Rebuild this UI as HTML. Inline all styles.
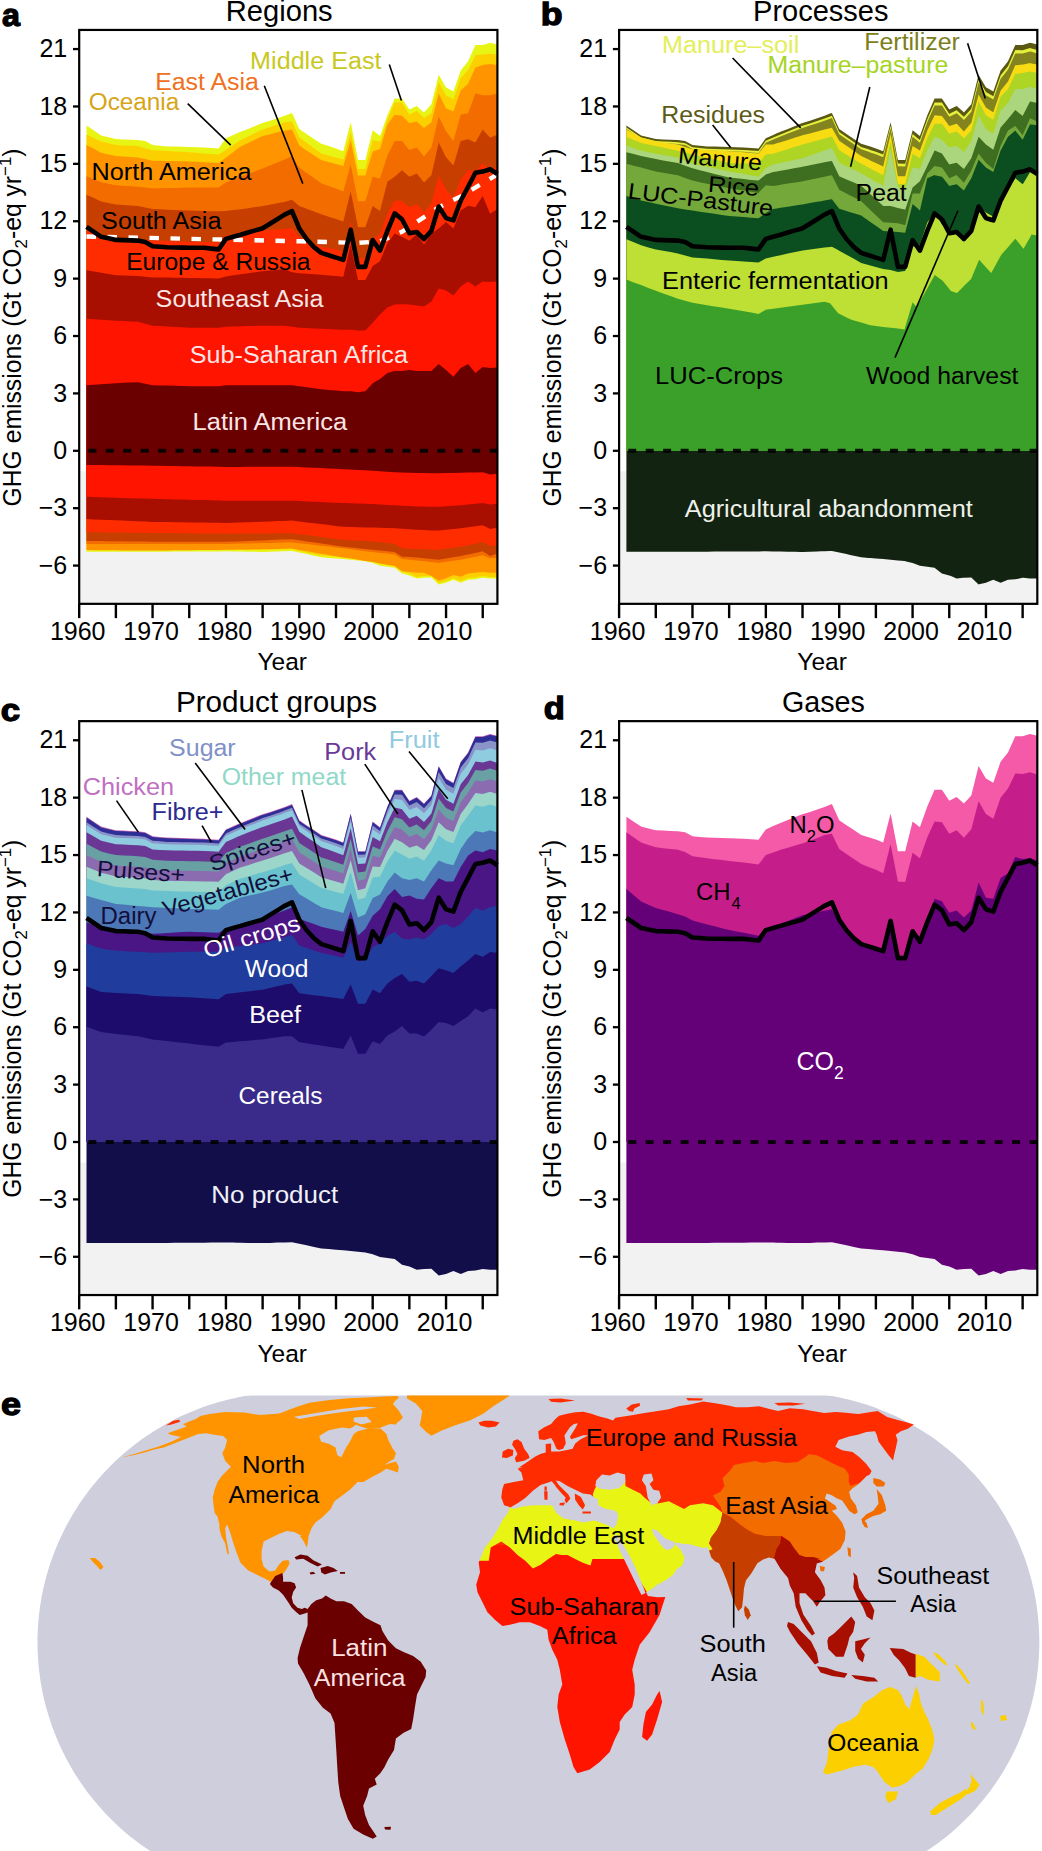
<!DOCTYPE html>
<html><head><meta charset="utf-8"><style>
html,body{margin:0;padding:0;background:#fff;}
svg{display:block;}
</style></head><body>
<svg width="1042" height="1851" viewBox="0 0 1042 1851" font-family="Liberation Sans, sans-serif">
<rect width="1042" height="1851" fill="#fff"/>
<rect x="79.20" y="471.27" width="418.21" height="132.57" fill="#f2f2f2"/>
<path d="M86.5,125.5 L93.9,130.5 L101.2,135.4 L108.5,137.2 L115.9,139.0 L123.2,139.4 L130.6,139.7 L137.9,140.1 L145.2,141.1 L152.6,145.1 L159.9,145.8 L167.2,146.4 L174.6,146.6 L181.9,146.8 L189.3,147.0 L196.6,147.2 L203.9,147.5 L211.3,148.0 L218.6,148.5 L225.9,138.2 L233.3,134.9 L236.9,133.3 L240.6,131.8 L248.0,128.9 L255.3,125.9 L260.4,123.8 L262.6,123.1 L270.0,120.7 L277.3,118.3 L281.0,117.1 L284.6,115.7 L292.0,112.9 L299.3,129.1 L306.6,134.0 L314.0,138.9 L321.3,143.8 L328.7,146.1 L336.0,148.4 L343.3,151.2 L350.7,122.2 L358.0,160.0 L365.3,160.0 L372.7,130.3 L380.0,136.1 L387.4,115.2 L394.7,98.5 L402.0,98.5 L409.4,109.6 L416.7,105.9 L424.0,112.4 L431.4,104.3 L438.7,74.8 L446.0,87.3 L453.4,91.5 L460.7,70.6 L468.1,61.3 L475.4,45.1 L482.7,45.1 L490.1,42.7 L497.4,44.6 L497.4,451.0 L490.1,451.0 L482.7,451.0 L475.4,451.0 L468.1,451.0 L460.7,451.0 L453.4,451.0 L446.0,451.0 L438.7,451.0 L431.4,451.0 L424.0,451.0 L416.7,451.0 L409.4,451.0 L402.0,451.0 L394.7,451.0 L387.4,451.0 L380.0,451.0 L372.7,451.0 L365.3,451.0 L358.0,451.0 L350.7,451.0 L343.3,451.0 L336.0,451.0 L328.7,451.0 L321.3,451.0 L314.0,451.0 L306.6,451.0 L299.3,451.0 L292.0,451.0 L284.6,451.0 L281.0,451.0 L277.3,451.0 L270.0,451.0 L262.6,451.0 L260.4,451.0 L255.3,451.0 L248.0,451.0 L240.6,451.0 L236.9,451.0 L233.3,451.0 L225.9,451.0 L218.6,451.0 L211.3,451.0 L203.9,451.0 L196.6,451.0 L189.3,451.0 L181.9,451.0 L174.6,451.0 L167.2,451.0 L159.9,451.0 L152.6,451.0 L145.2,451.0 L137.9,451.0 L130.6,451.0 L123.2,451.0 L115.9,451.0 L108.5,451.0 L101.2,451.0 L93.9,451.0 L86.5,451.0Z" fill="#e8f514"/>
<path d="M86.5,134.6 L93.9,138.0 L101.2,141.5 L108.5,143.2 L115.9,145.0 L123.2,145.4 L130.6,145.7 L137.9,146.1 L145.2,148.2 L152.6,150.2 L159.9,150.6 L167.2,151.0 L174.6,151.4 L181.9,151.8 L189.3,152.2 L196.6,152.8 L203.9,153.4 L211.3,154.0 L218.6,154.5 L225.9,149.7 L233.3,144.9 L236.9,142.4 L240.6,140.0 L248.0,136.5 L255.3,133.1 L260.4,130.6 L262.6,129.6 L270.0,127.1 L277.3,124.6 L281.0,123.4 L284.6,122.2 L292.0,121.5 L299.3,137.3 L306.6,142.7 L314.0,148.2 L321.3,153.6 L328.7,155.5 L336.0,157.4 L343.3,159.4 L350.7,132.0 L358.0,169.0 L365.3,169.0 L372.7,140.1 L380.0,141.8 L387.4,119.7 L394.7,102.6 L402.0,102.6 L409.4,114.8 L416.7,110.8 L424.0,118.1 L431.4,113.2 L438.7,82.2 L446.0,95.3 L453.4,99.3 L460.7,78.1 L468.1,70.0 L475.4,55.3 L482.7,54.5 L490.1,53.7 L497.4,54.5 L497.4,451.0 L490.1,451.0 L482.7,451.0 L475.4,451.0 L468.1,451.0 L460.7,451.0 L453.4,451.0 L446.0,451.0 L438.7,451.0 L431.4,451.0 L424.0,451.0 L416.7,451.0 L409.4,451.0 L402.0,451.0 L394.7,451.0 L387.4,451.0 L380.0,451.0 L372.7,451.0 L365.3,451.0 L358.0,451.0 L350.7,451.0 L343.3,451.0 L336.0,451.0 L328.7,451.0 L321.3,451.0 L314.0,451.0 L306.6,451.0 L299.3,451.0 L292.0,451.0 L284.6,451.0 L281.0,451.0 L277.3,451.0 L270.0,451.0 L262.6,451.0 L260.4,451.0 L255.3,451.0 L248.0,451.0 L240.6,451.0 L236.9,451.0 L233.3,451.0 L225.9,451.0 L218.6,451.0 L211.3,451.0 L203.9,451.0 L196.6,451.0 L189.3,451.0 L181.9,451.0 L174.6,451.0 L167.2,451.0 L159.9,451.0 L152.6,451.0 L145.2,451.0 L137.9,451.0 L130.6,451.0 L123.2,451.0 L115.9,451.0 L108.5,451.0 L101.2,451.0 L93.9,451.0 L86.5,451.0Z" fill="#fcd000"/>
<path d="M86.5,145.0 L93.9,148.8 L101.2,152.7 L108.5,154.4 L115.9,156.1 L123.2,156.6 L130.6,157.1 L137.9,157.6 L145.2,159.1 L152.6,160.7 L159.9,160.8 L167.2,161.0 L174.6,161.1 L181.9,161.3 L189.3,161.4 L196.6,161.8 L203.9,162.2 L211.3,162.6 L218.6,163.0 L225.9,157.5 L233.3,152.0 L236.9,149.3 L240.6,146.5 L248.0,143.0 L255.3,139.6 L260.4,137.1 L262.6,136.1 L270.0,134.2 L277.3,132.3 L281.0,131.3 L284.6,130.4 L292.0,129.5 L299.3,145.5 L306.6,150.4 L314.0,155.2 L321.3,160.1 L328.7,162.0 L336.0,163.9 L343.3,165.9 L350.7,140.2 L358.0,175.5 L365.3,175.5 L372.7,151.5 L380.0,149.1 L387.4,124.6 L394.7,114.8 L402.0,115.7 L409.4,123.0 L416.7,121.4 L424.0,127.9 L431.4,122.2 L438.7,93.6 L446.0,108.3 L453.4,111.6 L460.7,90.4 L468.1,83.8 L475.4,67.5 L482.7,65.1 L490.1,63.9 L497.4,65.1 L497.4,451.0 L490.1,451.0 L482.7,451.0 L475.4,451.0 L468.1,451.0 L460.7,451.0 L453.4,451.0 L446.0,451.0 L438.7,451.0 L431.4,451.0 L424.0,451.0 L416.7,451.0 L409.4,451.0 L402.0,451.0 L394.7,451.0 L387.4,451.0 L380.0,451.0 L372.7,451.0 L365.3,451.0 L358.0,451.0 L350.7,451.0 L343.3,451.0 L336.0,451.0 L328.7,451.0 L321.3,451.0 L314.0,451.0 L306.6,451.0 L299.3,451.0 L292.0,451.0 L284.6,451.0 L281.0,451.0 L277.3,451.0 L270.0,451.0 L262.6,451.0 L260.4,451.0 L255.3,451.0 L248.0,451.0 L240.6,451.0 L236.9,451.0 L233.3,451.0 L225.9,451.0 L218.6,451.0 L211.3,451.0 L203.9,451.0 L196.6,451.0 L189.3,451.0 L181.9,451.0 L174.6,451.0 L167.2,451.0 L159.9,451.0 L152.6,451.0 L145.2,451.0 L137.9,451.0 L130.6,451.0 L123.2,451.0 L115.9,451.0 L108.5,451.0 L101.2,451.0 L93.9,451.0 L86.5,451.0Z" fill="#ff9400"/>
<path d="M86.5,176.3 L93.9,179.3 L101.2,182.2 L108.5,183.7 L115.9,185.2 L123.2,185.8 L130.6,186.3 L137.9,186.8 L145.2,187.5 L152.6,188.3 L159.9,188.2 L167.2,188.0 L174.6,187.9 L181.9,187.7 L189.3,187.5 L196.6,187.5 L203.9,187.5 L211.3,187.5 L218.6,187.5 L225.9,182.4 L233.3,179.5 L236.9,178.1 L240.6,176.7 L248.0,174.0 L255.3,171.2 L260.4,169.3 L262.6,168.5 L270.0,165.5 L277.3,162.5 L281.0,161.0 L284.6,159.5 L292.0,156.3 L299.3,167.7 L306.6,172.9 L314.0,178.0 L321.3,183.2 L328.7,185.9 L336.0,188.6 L343.3,191.4 L350.7,164.4 L358.0,201.2 L365.3,201.2 L372.7,176.7 L380.0,178.5 L387.4,155.6 L394.7,140.9 L402.0,140.9 L409.4,149.9 L416.7,147.5 L424.0,156.4 L431.4,147.5 L438.7,116.5 L446.0,131.2 L453.4,140.9 L460.7,114.8 L468.1,113.2 L475.4,93.6 L482.7,95.3 L490.1,95.3 L497.4,93.6 L497.4,451.0 L490.1,451.0 L482.7,451.0 L475.4,451.0 L468.1,451.0 L460.7,451.0 L453.4,451.0 L446.0,451.0 L438.7,451.0 L431.4,451.0 L424.0,451.0 L416.7,451.0 L409.4,451.0 L402.0,451.0 L394.7,451.0 L387.4,451.0 L380.0,451.0 L372.7,451.0 L365.3,451.0 L358.0,451.0 L350.7,451.0 L343.3,451.0 L336.0,451.0 L328.7,451.0 L321.3,451.0 L314.0,451.0 L306.6,451.0 L299.3,451.0 L292.0,451.0 L284.6,451.0 L281.0,451.0 L277.3,451.0 L270.0,451.0 L262.6,451.0 L260.4,451.0 L255.3,451.0 L248.0,451.0 L240.6,451.0 L236.9,451.0 L233.3,451.0 L225.9,451.0 L218.6,451.0 L211.3,451.0 L203.9,451.0 L196.6,451.0 L189.3,451.0 L181.9,451.0 L174.6,451.0 L167.2,451.0 L159.9,451.0 L152.6,451.0 L145.2,451.0 L137.9,451.0 L130.6,451.0 L123.2,451.0 L115.9,451.0 L108.5,451.0 L101.2,451.0 L93.9,451.0 L86.5,451.0Z" fill="#f26c00"/>
<path d="M86.5,194.8 L93.9,198.1 L101.2,201.4 L108.5,202.9 L115.9,204.4 L123.2,204.9 L130.6,205.5 L137.9,206.0 L145.2,207.5 L152.6,209.0 L159.9,209.3 L167.2,209.7 L174.6,210.0 L181.9,210.3 L189.3,210.6 L196.6,210.8 L203.9,211.0 L211.3,211.2 L218.6,211.3 L225.9,210.9 L233.3,210.1 L236.9,209.7 L240.6,209.3 L248.0,208.2 L255.3,207.1 L260.4,206.4 L262.6,206.0 L270.0,204.7 L277.3,203.3 L281.0,202.6 L284.6,202.0 L292.0,199.8 L299.3,206.0 L306.6,208.8 L314.0,211.5 L321.3,214.2 L328.7,216.7 L336.0,219.1 L343.3,221.5 L350.7,191.4 L358.0,227.3 L365.3,227.3 L372.7,206.0 L380.0,210.9 L387.4,181.7 L394.7,176.8 L402.0,170.3 L409.4,176.8 L416.7,173.6 L424.0,182.5 L431.4,175.2 L438.7,142.6 L446.0,157.3 L453.4,165.4 L460.7,140.9 L468.1,139.3 L475.4,142.6 L482.7,129.5 L490.1,137.7 L497.4,134.4 L497.4,451.0 L490.1,451.0 L482.7,451.0 L475.4,451.0 L468.1,451.0 L460.7,451.0 L453.4,451.0 L446.0,451.0 L438.7,451.0 L431.4,451.0 L424.0,451.0 L416.7,451.0 L409.4,451.0 L402.0,451.0 L394.7,451.0 L387.4,451.0 L380.0,451.0 L372.7,451.0 L365.3,451.0 L358.0,451.0 L350.7,451.0 L343.3,451.0 L336.0,451.0 L328.7,451.0 L321.3,451.0 L314.0,451.0 L306.6,451.0 L299.3,451.0 L292.0,451.0 L284.6,451.0 L281.0,451.0 L277.3,451.0 L270.0,451.0 L262.6,451.0 L260.4,451.0 L255.3,451.0 L248.0,451.0 L240.6,451.0 L236.9,451.0 L233.3,451.0 L225.9,451.0 L218.6,451.0 L211.3,451.0 L203.9,451.0 L196.6,451.0 L189.3,451.0 L181.9,451.0 L174.6,451.0 L167.2,451.0 L159.9,451.0 L152.6,451.0 L145.2,451.0 L137.9,451.0 L130.6,451.0 L123.2,451.0 L115.9,451.0 L108.5,451.0 L101.2,451.0 L93.9,451.0 L86.5,451.0Z" fill="#c63f00"/>
<path d="M86.5,230.5 L93.9,232.8 L101.2,235.1 L108.5,236.3 L115.9,237.4 L123.2,238.0 L130.6,238.5 L137.9,239.0 L145.2,239.8 L152.6,240.5 L159.9,240.8 L167.2,241.0 L174.6,241.3 L181.9,241.5 L189.3,241.7 L196.6,241.9 L203.9,242.1 L211.3,242.2 L218.6,242.4 L225.9,235.4 L233.3,234.4 L236.9,233.9 L240.6,233.5 L248.0,232.5 L255.3,231.5 L260.4,230.8 L262.6,230.5 L270.0,230.0 L277.3,229.4 L281.0,229.2 L284.6,228.9 L292.0,228.1 L299.3,237.0 L306.6,240.3 L314.0,243.6 L321.3,246.8 L328.7,248.1 L336.0,249.3 L343.3,251.4 L350.7,222.0 L358.0,257.9 L365.3,257.9 L372.7,239.9 L380.0,233.4 L387.4,213.8 L394.7,200.8 L402.0,200.8 L409.4,207.3 L416.7,204.0 L424.0,212.2 L431.4,203.2 L438.7,175.5 L446.0,189.4 L453.4,197.5 L460.7,179.6 L468.1,169.8 L475.4,171.4 L482.7,163.3 L490.1,169.8 L497.4,166.5 L497.4,451.0 L490.1,451.0 L482.7,451.0 L475.4,451.0 L468.1,451.0 L460.7,451.0 L453.4,451.0 L446.0,451.0 L438.7,451.0 L431.4,451.0 L424.0,451.0 L416.7,451.0 L409.4,451.0 L402.0,451.0 L394.7,451.0 L387.4,451.0 L380.0,451.0 L372.7,451.0 L365.3,451.0 L358.0,451.0 L350.7,451.0 L343.3,451.0 L336.0,451.0 L328.7,451.0 L321.3,451.0 L314.0,451.0 L306.6,451.0 L299.3,451.0 L292.0,451.0 L284.6,451.0 L281.0,451.0 L277.3,451.0 L270.0,451.0 L262.6,451.0 L260.4,451.0 L255.3,451.0 L248.0,451.0 L240.6,451.0 L236.9,451.0 L233.3,451.0 L225.9,451.0 L218.6,451.0 L211.3,451.0 L203.9,451.0 L196.6,451.0 L189.3,451.0 L181.9,451.0 L174.6,451.0 L167.2,451.0 L159.9,451.0 L152.6,451.0 L145.2,451.0 L137.9,451.0 L130.6,451.0 L123.2,451.0 L115.9,451.0 L108.5,451.0 L101.2,451.0 L93.9,451.0 L86.5,451.0Z" fill="#ff2c00"/>
<path d="M86.5,270.3 L93.9,271.6 L101.2,272.8 L108.5,274.1 L115.9,275.3 L123.2,275.5 L130.6,275.7 L137.9,276.0 L145.2,276.7 L152.6,277.4 L159.9,277.5 L167.2,277.6 L174.6,277.7 L181.9,277.8 L189.3,278.0 L196.6,278.1 L203.9,278.2 L211.3,278.3 L218.6,278.4 L225.9,276.4 L233.3,275.3 L236.9,274.8 L240.6,274.3 L248.0,273.3 L255.3,272.3 L260.4,271.6 L262.6,271.3 L270.0,270.6 L277.3,270.0 L281.0,269.6 L284.6,269.3 L292.0,272.3 L299.3,273.3 L306.6,273.8 L314.0,274.3 L321.3,274.7 L328.7,275.4 L336.0,276.0 L343.3,276.7 L350.7,244.8 L358.0,279.9 L365.3,279.9 L372.7,266.0 L380.0,261.2 L387.4,243.2 L394.7,233.4 L402.0,236.7 L409.4,240.8 L416.7,234.2 L424.0,244.8 L431.4,233.4 L438.7,228.5 L446.0,222.0 L453.4,228.5 L460.7,210.6 L468.1,205.7 L475.4,207.3 L482.7,195.9 L490.1,213.8 L497.4,208.9 L497.4,451.0 L490.1,451.0 L482.7,451.0 L475.4,451.0 L468.1,451.0 L460.7,451.0 L453.4,451.0 L446.0,451.0 L438.7,451.0 L431.4,451.0 L424.0,451.0 L416.7,451.0 L409.4,451.0 L402.0,451.0 L394.7,451.0 L387.4,451.0 L380.0,451.0 L372.7,451.0 L365.3,451.0 L358.0,451.0 L350.7,451.0 L343.3,451.0 L336.0,451.0 L328.7,451.0 L321.3,451.0 L314.0,451.0 L306.6,451.0 L299.3,451.0 L292.0,451.0 L284.6,451.0 L281.0,451.0 L277.3,451.0 L270.0,451.0 L262.6,451.0 L260.4,451.0 L255.3,451.0 L248.0,451.0 L240.6,451.0 L236.9,451.0 L233.3,451.0 L225.9,451.0 L218.6,451.0 L211.3,451.0 L203.9,451.0 L196.6,451.0 L189.3,451.0 L181.9,451.0 L174.6,451.0 L167.2,451.0 L159.9,451.0 L152.6,451.0 L145.2,451.0 L137.9,451.0 L130.6,451.0 L123.2,451.0 L115.9,451.0 L108.5,451.0 L101.2,451.0 L93.9,451.0 L86.5,451.0Z" fill="#a80f00"/>
<path d="M86.5,318.7 L93.9,319.2 L101.2,319.7 L108.5,320.2 L115.9,320.7 L123.2,321.0 L130.6,321.4 L137.9,321.7 L145.2,323.7 L152.6,325.7 L159.9,326.1 L167.2,326.5 L174.6,326.9 L181.9,327.3 L189.3,327.7 L196.6,327.7 L203.9,327.7 L211.3,327.7 L218.6,327.7 L225.9,326.7 L233.3,326.5 L236.9,326.4 L240.6,326.3 L248.0,326.1 L255.3,325.9 L260.4,325.8 L262.6,325.7 L270.0,325.7 L277.3,325.7 L281.0,325.7 L284.6,325.7 L292.0,326.7 L299.3,327.7 L306.6,328.1 L314.0,328.4 L321.3,328.8 L328.7,329.1 L336.0,329.4 L343.3,329.8 L350.7,329.8 L358.0,330.4 L365.3,330.4 L372.7,322.7 L380.0,314.6 L387.4,307.6 L394.7,304.6 L402.0,304.2 L409.4,304.6 L416.7,305.6 L424.0,306.6 L431.4,301.5 L438.7,288.4 L446.0,290.5 L453.4,295.5 L460.7,286.4 L468.1,281.4 L475.4,286.4 L482.7,281.4 L490.1,282.0 L497.4,281.4 L497.4,451.0 L490.1,451.0 L482.7,451.0 L475.4,451.0 L468.1,451.0 L460.7,451.0 L453.4,451.0 L446.0,451.0 L438.7,451.0 L431.4,451.0 L424.0,451.0 L416.7,451.0 L409.4,451.0 L402.0,451.0 L394.7,451.0 L387.4,451.0 L380.0,451.0 L372.7,451.0 L365.3,451.0 L358.0,451.0 L350.7,451.0 L343.3,451.0 L336.0,451.0 L328.7,451.0 L321.3,451.0 L314.0,451.0 L306.6,451.0 L299.3,451.0 L292.0,451.0 L284.6,451.0 L281.0,451.0 L277.3,451.0 L270.0,451.0 L262.6,451.0 L260.4,451.0 L255.3,451.0 L248.0,451.0 L240.6,451.0 L236.9,451.0 L233.3,451.0 L225.9,451.0 L218.6,451.0 L211.3,451.0 L203.9,451.0 L196.6,451.0 L189.3,451.0 L181.9,451.0 L174.6,451.0 L167.2,451.0 L159.9,451.0 L152.6,451.0 L145.2,451.0 L137.9,451.0 L130.6,451.0 L123.2,451.0 L115.9,451.0 L108.5,451.0 L101.2,451.0 L93.9,451.0 L86.5,451.0Z" fill="#ff1400"/>
<path d="M86.5,385.2 L93.9,384.7 L101.2,384.2 L108.5,383.7 L115.9,383.2 L123.2,382.8 L130.6,382.5 L137.9,382.2 L145.2,383.7 L152.6,385.2 L159.9,385.4 L167.2,385.6 L174.6,385.8 L181.9,386.0 L189.3,386.2 L196.6,386.2 L203.9,386.2 L211.3,386.2 L218.6,386.2 L225.9,385.2 L233.3,385.2 L236.9,385.2 L240.6,385.2 L248.0,385.2 L255.3,385.2 L260.4,385.2 L262.6,385.2 L270.0,385.2 L277.3,385.2 L281.0,385.2 L284.6,385.2 L292.0,385.2 L299.3,386.2 L306.6,387.2 L314.0,388.2 L321.3,389.2 L328.7,389.9 L336.0,390.6 L343.3,391.2 L350.7,391.2 L358.0,392.2 L365.3,391.2 L372.7,383.2 L380.0,379.1 L387.4,373.1 L394.7,371.1 L402.0,371.1 L409.4,370.1 L416.7,371.1 L424.0,371.1 L431.4,371.1 L438.7,364.0 L446.0,370.1 L453.4,376.7 L460.7,368.1 L468.1,364.0 L475.4,373.1 L482.7,367.0 L490.1,368.1 L497.4,367.6 L497.4,451.0 L490.1,451.0 L482.7,451.0 L475.4,451.0 L468.1,451.0 L460.7,451.0 L453.4,451.0 L446.0,451.0 L438.7,451.0 L431.4,451.0 L424.0,451.0 L416.7,451.0 L409.4,451.0 L402.0,451.0 L394.7,451.0 L387.4,451.0 L380.0,451.0 L372.7,451.0 L365.3,451.0 L358.0,451.0 L350.7,451.0 L343.3,451.0 L336.0,451.0 L328.7,451.0 L321.3,451.0 L314.0,451.0 L306.6,451.0 L299.3,451.0 L292.0,451.0 L284.6,451.0 L281.0,451.0 L277.3,451.0 L270.0,451.0 L262.6,451.0 L260.4,451.0 L255.3,451.0 L248.0,451.0 L240.6,451.0 L236.9,451.0 L233.3,451.0 L225.9,451.0 L218.6,451.0 L211.3,451.0 L203.9,451.0 L196.6,451.0 L189.3,451.0 L181.9,451.0 L174.6,451.0 L167.2,451.0 L159.9,451.0 L152.6,451.0 L145.2,451.0 L137.9,451.0 L130.6,451.0 L123.2,451.0 L115.9,451.0 L108.5,451.0 L101.2,451.0 L93.9,451.0 L86.5,451.0Z" fill="#6a0000"/>
<path d="M86.5,451.0 L93.9,451.0 L101.2,451.0 L108.5,451.0 L115.9,451.0 L123.2,451.0 L130.6,451.0 L137.9,451.0 L145.2,451.0 L152.6,451.0 L159.9,451.0 L167.2,451.0 L174.6,451.0 L181.9,451.0 L189.3,451.0 L196.6,451.0 L203.9,451.0 L211.3,451.0 L218.6,451.0 L225.9,451.0 L233.3,451.0 L236.9,451.0 L240.6,451.0 L248.0,451.0 L255.3,451.0 L260.4,451.0 L262.6,451.0 L270.0,451.0 L277.3,451.0 L281.0,451.0 L284.6,451.0 L292.0,451.0 L299.3,451.0 L306.6,451.0 L314.0,451.0 L321.3,451.0 L328.7,451.0 L336.0,451.0 L343.3,451.0 L350.7,451.0 L358.0,451.0 L365.3,451.0 L372.7,451.0 L380.0,451.0 L387.4,451.0 L394.7,451.0 L402.0,451.0 L409.4,451.0 L416.7,451.0 L424.0,451.0 L431.4,451.0 L438.7,451.0 L446.0,451.0 L453.4,451.0 L460.7,451.0 L468.1,451.0 L475.4,451.0 L482.7,451.0 L490.1,451.0 L497.4,451.0 L497.4,578.6 L490.1,578.6 L482.7,577.7 L475.4,579.3 L468.1,579.8 L460.7,582.8 L453.4,579.8 L446.0,582.8 L438.7,584.4 L431.4,577.5 L424.0,577.7 L416.7,578.6 L409.4,575.4 L402.0,573.5 L394.7,567.7 L387.4,566.8 L380.0,565.8 L372.7,563.1 L365.3,561.2 L358.0,560.5 L350.7,559.8 L343.3,559.1 L336.0,558.5 L328.7,557.9 L321.3,557.2 L314.0,555.7 L306.6,554.1 L299.3,552.6 L292.0,551.0 L284.6,551.2 L281.0,551.3 L277.3,551.4 L270.0,551.7 L262.6,551.9 L260.4,551.9 L255.3,551.8 L248.0,551.7 L240.6,551.6 L236.9,551.5 L233.3,551.4 L225.9,551.3 L218.6,551.4 L211.3,551.4 L203.9,551.5 L196.6,551.5 L189.3,551.5 L181.9,551.6 L174.6,551.6 L167.2,551.7 L159.9,551.7 L152.6,551.8 L145.2,551.8 L137.9,551.8 L130.6,551.8 L123.2,551.8 L115.9,551.8 L108.5,551.8 L101.2,551.8 L93.9,551.8 L86.5,551.8Z" fill="#e8f514"/>
<path d="M86.5,451.0 L93.9,451.0 L101.2,451.0 L108.5,451.0 L115.9,451.0 L123.2,451.0 L130.6,451.0 L137.9,451.0 L145.2,451.0 L152.6,451.0 L159.9,451.0 L167.2,451.0 L174.6,451.0 L181.9,451.0 L189.3,451.0 L196.6,451.0 L203.9,451.0 L211.3,451.0 L218.6,451.0 L225.9,451.0 L233.3,451.0 L236.9,451.0 L240.6,451.0 L248.0,451.0 L255.3,451.0 L260.4,451.0 L262.6,451.0 L270.0,451.0 L277.3,451.0 L281.0,451.0 L284.6,451.0 L292.0,451.0 L299.3,451.0 L306.6,451.0 L314.0,451.0 L321.3,451.0 L328.7,451.0 L336.0,451.0 L343.3,451.0 L350.7,451.0 L358.0,451.0 L365.3,451.0 L372.7,451.0 L380.0,451.0 L387.4,451.0 L394.7,451.0 L402.0,451.0 L409.4,451.0 L416.7,451.0 L424.0,451.0 L431.4,451.0 L438.7,451.0 L446.0,451.0 L453.4,451.0 L460.7,451.0 L468.1,451.0 L475.4,451.0 L482.7,451.0 L490.1,451.0 L497.4,451.0 L497.4,576.9 L490.1,576.9 L482.7,576.0 L475.4,577.6 L468.1,578.1 L460.7,581.1 L453.4,578.1 L446.0,581.1 L438.7,582.7 L431.4,575.7 L424.0,576.0 L416.7,576.9 L409.4,573.6 L402.0,571.8 L394.7,566.0 L387.4,565.0 L380.0,564.1 L372.7,561.3 L365.3,559.5 L358.0,558.8 L350.7,558.1 L343.3,557.4 L336.0,556.8 L328.7,556.1 L321.3,555.5 L314.0,554.0 L306.6,552.4 L299.3,550.9 L292.0,549.3 L284.6,549.5 L281.0,549.6 L277.3,549.7 L270.0,549.9 L262.6,550.2 L260.4,550.1 L255.3,550.1 L248.0,550.0 L240.6,549.8 L236.9,549.8 L233.3,549.7 L225.9,549.6 L218.6,549.7 L211.3,549.7 L203.9,549.7 L196.6,549.8 L189.3,549.8 L181.9,549.9 L174.6,549.9 L167.2,549.9 L159.9,550.0 L152.6,550.0 L145.2,550.0 L137.9,550.0 L130.6,550.0 L123.2,550.0 L115.9,550.0 L108.5,550.0 L101.2,550.0 L93.9,550.0 L86.5,550.0Z" fill="#fcd000"/>
<path d="M86.5,451.0 L93.9,451.0 L101.2,451.0 L108.5,451.0 L115.9,451.0 L123.2,451.0 L130.6,451.0 L137.9,451.0 L145.2,451.0 L152.6,451.0 L159.9,451.0 L167.2,451.0 L174.6,451.0 L181.9,451.0 L189.3,451.0 L196.6,451.0 L203.9,451.0 L211.3,451.0 L218.6,451.0 L225.9,451.0 L233.3,451.0 L236.9,451.0 L240.6,451.0 L248.0,451.0 L255.3,451.0 L260.4,451.0 L262.6,451.0 L270.0,451.0 L277.3,451.0 L281.0,451.0 L284.6,451.0 L292.0,451.0 L299.3,451.0 L306.6,451.0 L314.0,451.0 L321.3,451.0 L328.7,451.0 L336.0,451.0 L343.3,451.0 L350.7,451.0 L358.0,451.0 L365.3,451.0 L372.7,451.0 L380.0,451.0 L387.4,451.0 L394.7,451.0 L402.0,451.0 L409.4,451.0 L416.7,451.0 L424.0,451.0 L431.4,451.0 L438.7,451.0 L446.0,451.0 L453.4,451.0 L460.7,451.0 L468.1,451.0 L475.4,451.0 L482.7,451.0 L490.1,451.0 L497.4,451.0 L497.4,572.8 L490.1,572.8 L482.7,572.1 L475.4,572.8 L468.1,573.6 L460.7,576.7 L453.4,575.1 L446.0,578.2 L438.7,580.5 L431.4,575.9 L424.0,572.8 L416.7,572.8 L409.4,572.1 L402.0,571.3 L394.7,565.9 L387.4,564.7 L380.0,563.4 L372.7,562.1 L365.3,560.9 L358.0,559.8 L350.7,558.6 L343.3,557.5 L336.0,556.2 L328.7,554.9 L321.3,553.7 L314.0,552.4 L306.6,551.1 L299.3,549.9 L292.0,548.6 L284.6,548.7 L281.0,548.8 L277.3,548.9 L270.0,549.0 L262.6,549.1 L260.4,549.2 L255.3,549.3 L248.0,549.4 L240.6,549.5 L236.9,549.6 L233.3,549.7 L225.9,549.8 L218.6,549.9 L211.3,550.0 L203.9,550.0 L196.6,550.1 L189.3,550.2 L181.9,550.3 L174.6,550.3 L167.2,550.4 L159.9,550.5 L152.6,550.6 L145.2,550.5 L137.9,550.5 L130.6,550.4 L123.2,550.4 L115.9,550.3 L108.5,550.3 L101.2,550.2 L93.9,550.2 L86.5,550.1Z" fill="#ff9400"/>
<path d="M86.5,451.0 L93.9,451.0 L101.2,451.0 L108.5,451.0 L115.9,451.0 L123.2,451.0 L130.6,451.0 L137.9,451.0 L145.2,451.0 L152.6,451.0 L159.9,451.0 L167.2,451.0 L174.6,451.0 L181.9,451.0 L189.3,451.0 L196.6,451.0 L203.9,451.0 L211.3,451.0 L218.6,451.0 L225.9,451.0 L233.3,451.0 L236.9,451.0 L240.6,451.0 L248.0,451.0 L255.3,451.0 L260.4,451.0 L262.6,451.0 L270.0,451.0 L277.3,451.0 L281.0,451.0 L284.6,451.0 L292.0,451.0 L299.3,451.0 L306.6,451.0 L314.0,451.0 L321.3,451.0 L328.7,451.0 L336.0,451.0 L343.3,451.0 L350.7,451.0 L358.0,451.0 L365.3,451.0 L372.7,451.0 L380.0,451.0 L387.4,451.0 L394.7,451.0 L402.0,451.0 L409.4,451.0 L416.7,451.0 L424.0,451.0 L431.4,451.0 L438.7,451.0 L446.0,451.0 L453.4,451.0 L460.7,451.0 L468.1,451.0 L475.4,451.0 L482.7,451.0 L490.1,451.0 L497.4,451.0 L497.4,557.5 L490.1,558.3 L482.7,555.2 L475.4,556.7 L468.1,558.3 L460.7,559.8 L453.4,560.8 L446.0,561.8 L438.7,562.9 L431.4,562.1 L424.0,561.3 L416.7,560.6 L409.4,559.8 L402.0,559.0 L394.7,554.4 L387.4,553.6 L380.0,552.9 L372.7,552.1 L365.3,551.2 L358.0,550.2 L350.7,549.2 L343.3,548.3 L336.0,547.4 L328.7,546.6 L321.3,545.8 L314.0,544.9 L306.6,544.1 L299.3,543.3 L292.0,542.4 L284.6,542.6 L281.0,542.7 L277.3,542.8 L270.0,542.9 L262.6,543.1 L260.4,543.2 L255.3,543.3 L248.0,543.5 L240.6,543.6 L236.9,543.7 L233.3,543.8 L225.9,544.0 L218.6,544.0 L211.3,544.0 L203.9,544.0 L196.6,544.0 L189.3,544.0 L181.9,544.0 L174.6,544.0 L167.2,544.0 L159.9,544.0 L152.6,544.0 L145.2,544.0 L137.9,544.0 L130.6,544.0 L123.2,544.0 L115.9,544.0 L108.5,544.0 L101.2,544.0 L93.9,544.0 L86.5,544.0Z" fill="#f26c00"/>
<path d="M86.5,451.0 L93.9,451.0 L101.2,451.0 L108.5,451.0 L115.9,451.0 L123.2,451.0 L130.6,451.0 L137.9,451.0 L145.2,451.0 L152.6,451.0 L159.9,451.0 L167.2,451.0 L174.6,451.0 L181.9,451.0 L189.3,451.0 L196.6,451.0 L203.9,451.0 L211.3,451.0 L218.6,451.0 L225.9,451.0 L233.3,451.0 L236.9,451.0 L240.6,451.0 L248.0,451.0 L255.3,451.0 L260.4,451.0 L262.6,451.0 L270.0,451.0 L277.3,451.0 L281.0,451.0 L284.6,451.0 L292.0,451.0 L299.3,451.0 L306.6,451.0 L314.0,451.0 L321.3,451.0 L328.7,451.0 L336.0,451.0 L343.3,451.0 L350.7,451.0 L358.0,451.0 L365.3,451.0 L372.7,451.0 L380.0,451.0 L387.4,451.0 L394.7,451.0 L402.0,451.0 L409.4,451.0 L416.7,451.0 L424.0,451.0 L431.4,451.0 L438.7,451.0 L446.0,451.0 L453.4,451.0 L460.7,451.0 L468.1,451.0 L475.4,451.0 L482.7,451.0 L490.1,451.0 L497.4,451.0 L497.4,553.6 L490.1,556.0 L482.7,551.3 L475.4,552.9 L468.1,554.4 L460.7,556.0 L453.4,557.2 L446.0,558.5 L438.7,559.8 L431.4,559.0 L424.0,558.3 L416.7,557.5 L409.4,557.1 L402.0,556.7 L394.7,552.1 L387.4,551.3 L380.0,550.6 L372.7,549.8 L365.3,549.0 L358.0,548.3 L350.7,547.5 L343.3,546.7 L336.0,545.7 L328.7,544.6 L321.3,543.5 L314.0,542.4 L306.6,541.4 L299.3,540.3 L292.0,539.2 L284.6,539.5 L281.0,539.6 L277.3,539.8 L270.0,540.1 L262.6,540.4 L260.4,540.5 L255.3,540.7 L248.0,541.0 L240.6,541.2 L236.9,541.4 L233.3,541.5 L225.9,541.8 L218.6,541.8 L211.3,541.8 L203.9,541.8 L196.6,541.8 L189.3,541.7 L181.9,541.7 L174.6,541.7 L167.2,541.7 L159.9,541.7 L152.6,541.7 L145.2,541.6 L137.9,541.5 L130.6,541.4 L123.2,541.3 L115.9,541.2 L108.5,541.2 L101.2,541.1 L93.9,541.0 L86.5,540.9Z" fill="#c63f00"/>
<path d="M86.5,451.0 L93.9,451.0 L101.2,451.0 L108.5,451.0 L115.9,451.0 L123.2,451.0 L130.6,451.0 L137.9,451.0 L145.2,451.0 L152.6,451.0 L159.9,451.0 L167.2,451.0 L174.6,451.0 L181.9,451.0 L189.3,451.0 L196.6,451.0 L203.9,451.0 L211.3,451.0 L218.6,451.0 L225.9,451.0 L233.3,451.0 L236.9,451.0 L240.6,451.0 L248.0,451.0 L255.3,451.0 L260.4,451.0 L262.6,451.0 L270.0,451.0 L277.3,451.0 L281.0,451.0 L284.6,451.0 L292.0,451.0 L299.3,451.0 L306.6,451.0 L314.0,451.0 L321.3,451.0 L328.7,451.0 L336.0,451.0 L343.3,451.0 L350.7,451.0 L358.0,451.0 L365.3,451.0 L372.7,451.0 L380.0,451.0 L387.4,451.0 L394.7,451.0 L402.0,451.0 L409.4,451.0 L416.7,451.0 L424.0,451.0 L431.4,451.0 L438.7,451.0 L446.0,451.0 L453.4,451.0 L460.7,451.0 L468.1,451.0 L475.4,451.0 L482.7,451.0 L490.1,451.0 L497.4,451.0 L497.4,545.2 L490.1,546.0 L482.7,542.1 L475.4,543.7 L468.1,545.2 L460.7,546.7 L453.4,547.8 L446.0,548.8 L438.7,549.8 L431.4,549.6 L424.0,549.3 L416.7,549.0 L409.4,548.7 L402.0,548.3 L394.7,543.7 L387.4,542.9 L380.0,542.1 L372.7,541.4 L365.3,541.0 L358.0,540.6 L350.7,540.2 L343.3,539.8 L336.0,538.9 L328.7,537.9 L321.3,537.0 L314.0,536.1 L306.6,535.1 L299.3,534.2 L292.0,533.2 L284.6,533.3 L281.0,533.3 L277.3,533.3 L270.0,533.4 L262.6,533.4 L260.4,533.4 L255.3,533.5 L248.0,533.5 L240.6,533.6 L236.9,533.6 L233.3,533.6 L225.9,533.7 L218.6,533.6 L211.3,533.5 L203.9,533.5 L196.6,533.4 L189.3,533.3 L181.9,533.2 L174.6,533.1 L167.2,533.1 L159.9,533.0 L152.6,532.9 L145.2,532.8 L137.9,532.7 L130.6,532.7 L123.2,532.6 L115.9,532.5 L108.5,532.4 L101.2,532.3 L93.9,532.2 L86.5,532.1Z" fill="#ff2c00"/>
<path d="M86.5,451.0 L93.9,451.0 L101.2,451.0 L108.5,451.0 L115.9,451.0 L123.2,451.0 L130.6,451.0 L137.9,451.0 L145.2,451.0 L152.6,451.0 L159.9,451.0 L167.2,451.0 L174.6,451.0 L181.9,451.0 L189.3,451.0 L196.6,451.0 L203.9,451.0 L211.3,451.0 L218.6,451.0 L225.9,451.0 L233.3,451.0 L236.9,451.0 L240.6,451.0 L248.0,451.0 L255.3,451.0 L260.4,451.0 L262.6,451.0 L270.0,451.0 L277.3,451.0 L281.0,451.0 L284.6,451.0 L292.0,451.0 L299.3,451.0 L306.6,451.0 L314.0,451.0 L321.3,451.0 L328.7,451.0 L336.0,451.0 L343.3,451.0 L350.7,451.0 L358.0,451.0 L365.3,451.0 L372.7,451.0 L380.0,451.0 L387.4,451.0 L394.7,451.0 L402.0,451.0 L409.4,451.0 L416.7,451.0 L424.0,451.0 L431.4,451.0 L438.7,451.0 L446.0,451.0 L453.4,451.0 L460.7,451.0 L468.1,451.0 L475.4,451.0 L482.7,451.0 L490.1,451.0 L497.4,451.0 L497.4,527.5 L490.1,529.1 L482.7,525.2 L475.4,526.3 L468.1,527.3 L460.7,528.3 L453.4,529.1 L446.0,529.8 L438.7,530.6 L431.4,530.4 L424.0,530.1 L416.7,529.8 L409.4,529.3 L402.0,528.8 L394.7,528.3 L387.4,528.1 L380.0,527.8 L372.7,527.5 L365.3,527.4 L358.0,527.2 L350.7,527.0 L343.3,526.8 L336.0,525.9 L328.7,525.0 L321.3,524.1 L314.0,523.3 L306.6,522.4 L299.3,521.5 L292.0,520.6 L284.6,520.9 L281.0,521.0 L277.3,521.1 L270.0,521.4 L262.6,521.7 L260.4,521.7 L255.3,521.9 L248.0,522.2 L240.6,522.4 L236.9,522.6 L233.3,522.7 L225.9,522.9 L218.6,522.8 L211.3,522.7 L203.9,522.6 L196.6,522.5 L189.3,522.4 L181.9,522.3 L174.6,522.2 L167.2,522.1 L159.9,522.0 L152.6,521.9 L145.2,521.6 L137.9,521.2 L130.6,520.9 L123.2,520.6 L115.9,520.3 L108.5,520.0 L101.2,519.7 L93.9,519.4 L86.5,519.1Z" fill="#a80f00"/>
<path d="M86.5,451.0 L93.9,451.0 L101.2,451.0 L108.5,451.0 L115.9,451.0 L123.2,451.0 L130.6,451.0 L137.9,451.0 L145.2,451.0 L152.6,451.0 L159.9,451.0 L167.2,451.0 L174.6,451.0 L181.9,451.0 L189.3,451.0 L196.6,451.0 L203.9,451.0 L211.3,451.0 L218.6,451.0 L225.9,451.0 L233.3,451.0 L236.9,451.0 L240.6,451.0 L248.0,451.0 L255.3,451.0 L260.4,451.0 L262.6,451.0 L270.0,451.0 L277.3,451.0 L281.0,451.0 L284.6,451.0 L292.0,451.0 L299.3,451.0 L306.6,451.0 L314.0,451.0 L321.3,451.0 L328.7,451.0 L336.0,451.0 L343.3,451.0 L350.7,451.0 L358.0,451.0 L365.3,451.0 L372.7,451.0 L380.0,451.0 L387.4,451.0 L394.7,451.0 L402.0,451.0 L409.4,451.0 L416.7,451.0 L424.0,451.0 L431.4,451.0 L438.7,451.0 L446.0,451.0 L453.4,451.0 L460.7,451.0 L468.1,451.0 L475.4,451.0 L482.7,451.0 L490.1,451.0 L497.4,451.0 L497.4,503.7 L490.1,504.5 L482.7,503.0 L475.4,503.7 L468.1,504.5 L460.7,505.3 L453.4,505.8 L446.0,506.3 L438.7,506.8 L431.4,506.7 L424.0,506.6 L416.7,506.5 L409.4,506.1 L402.0,505.7 L394.7,505.3 L387.4,504.9 L380.0,504.5 L372.7,504.0 L365.3,503.8 L358.0,503.5 L350.7,503.2 L343.3,503.0 L336.0,502.7 L328.7,502.4 L321.3,502.1 L314.0,501.7 L306.6,501.4 L299.3,501.1 L292.0,500.8 L284.6,500.8 L281.0,500.8 L277.3,500.8 L270.0,500.8 L262.6,500.8 L260.4,500.8 L255.3,500.7 L248.0,500.7 L240.6,500.7 L236.9,500.7 L233.3,500.7 L225.9,500.7 L218.6,500.5 L211.3,500.3 L203.9,500.1 L196.6,499.9 L189.3,499.8 L181.9,499.6 L174.6,499.4 L167.2,499.2 L159.9,499.0 L152.6,498.8 L145.2,498.6 L137.9,498.4 L130.6,498.2 L123.2,497.9 L115.9,497.7 L108.5,497.5 L101.2,497.3 L93.9,497.1 L86.5,496.8Z" fill="#ff1400"/>
<path d="M86.5,451.0 L93.9,451.0 L101.2,451.0 L108.5,451.0 L115.9,451.0 L123.2,451.0 L130.6,451.0 L137.9,451.0 L145.2,451.0 L152.6,451.0 L159.9,451.0 L167.2,451.0 L174.6,451.0 L181.9,451.0 L189.3,451.0 L196.6,451.0 L203.9,451.0 L211.3,451.0 L218.6,451.0 L225.9,451.0 L233.3,451.0 L236.9,451.0 L240.6,451.0 L248.0,451.0 L255.3,451.0 L260.4,451.0 L262.6,451.0 L270.0,451.0 L277.3,451.0 L281.0,451.0 L284.6,451.0 L292.0,451.0 L299.3,451.0 L306.6,451.0 L314.0,451.0 L321.3,451.0 L328.7,451.0 L336.0,451.0 L343.3,451.0 L350.7,451.0 L358.0,451.0 L365.3,451.0 L372.7,451.0 L380.0,451.0 L387.4,451.0 L394.7,451.0 L402.0,451.0 L409.4,451.0 L416.7,451.0 L424.0,451.0 L431.4,451.0 L438.7,451.0 L446.0,451.0 L453.4,451.0 L460.7,451.0 L468.1,451.0 L475.4,451.0 L482.7,451.0 L490.1,451.0 L497.4,451.0 L497.4,473.8 L490.1,474.6 L482.7,472.3 L475.4,472.4 L468.1,472.6 L460.7,472.7 L453.4,472.9 L446.0,473.1 L438.7,473.3 L431.4,473.2 L424.0,473.1 L416.7,473.0 L409.4,472.8 L402.0,472.5 L394.7,472.3 L387.4,471.8 L380.0,471.2 L372.7,470.7 L365.3,470.3 L358.0,470.0 L350.7,469.6 L343.3,469.2 L336.0,468.8 L328.7,468.5 L321.3,468.1 L314.0,467.8 L306.6,467.4 L299.3,467.1 L292.0,466.7 L284.6,466.8 L281.0,466.8 L277.3,466.8 L270.0,466.8 L262.6,466.8 L260.4,466.8 L255.3,466.8 L248.0,466.8 L240.6,466.9 L236.9,466.9 L233.3,466.9 L225.9,466.9 L218.6,466.8 L211.3,466.6 L203.9,466.5 L196.6,466.4 L189.3,466.3 L181.9,466.2 L174.6,466.0 L167.2,465.9 L159.9,465.8 L152.6,465.7 L145.2,465.6 L137.9,465.5 L130.6,465.4 L123.2,465.3 L115.9,465.2 L108.5,465.2 L101.2,465.1 L93.9,465.0 L86.5,464.9Z" fill="#6a0000"/>
<line x1="88.34" y1="450.80" x2="497.41" y2="450.80" stroke="#000" stroke-width="4" stroke-dasharray="8 9.45" opacity="0.88"/>
<path d="M86.5,236.5 L299.3,241.3 L358.0,242.9 L380.0,241.3 L402.0,231.8 L438.7,207.3 L460.7,196.4 L497.4,174.4" fill="none" stroke="#fff" stroke-width="4.4" stroke-dasharray="9.5 11.5"/>
<path d="M86.5,226.8 L93.9,231.8 L101.2,236.8 L108.5,238.3 L115.9,239.9 L123.2,240.1 L130.6,240.4 L137.9,240.6 L145.2,242.0 L152.6,246.3 L159.9,246.8 L167.2,247.3 L174.6,247.5 L181.9,247.6 L189.3,247.7 L196.6,247.7 L203.9,247.7 L211.3,248.6 L218.6,249.4 L225.9,238.9 L233.3,236.8 L236.9,235.7 L240.6,234.7 L248.0,232.5 L255.3,230.4 L260.4,229.0 L262.6,228.3 L270.0,223.7 L277.3,219.2 L281.0,216.9 L284.6,214.6 L292.0,211.1 L299.3,228.5 L306.6,239.0 L314.0,247.1 L321.3,252.9 L328.7,255.2 L336.0,257.6 L343.3,259.9 L350.7,229.7 L358.0,266.9 L365.3,266.9 L372.7,240.1 L380.0,250.6 L387.4,230.9 L394.7,213.4 L402.0,219.2 L409.4,233.2 L416.7,232.0 L424.0,239.0 L431.4,230.9 L438.7,206.5 L446.0,218.1 L453.4,220.4 L460.7,200.7 L468.1,186.7 L475.4,172.8 L482.7,171.6 L490.1,169.3 L497.4,174.0" fill="none" stroke="#000" stroke-width="4.6" stroke-linejoin="round"/>
<rect x="619.10" y="471.27" width="418.21" height="132.57" fill="#f2f2f2"/>
<path d="M626.4,125.5 L633.8,130.5 L641.1,135.4 L648.4,137.2 L655.8,139.0 L663.1,139.4 L670.5,139.7 L677.8,140.1 L685.1,141.1 L692.5,145.1 L699.8,145.8 L707.1,146.4 L714.5,146.6 L721.8,146.8 L729.2,147.0 L736.5,147.2 L743.8,147.5 L751.2,148.0 L758.5,148.5 L765.8,138.2 L773.2,134.9 L776.8,133.3 L780.5,131.8 L787.9,128.9 L795.2,125.9 L800.3,123.8 L802.5,123.1 L809.9,120.7 L817.2,118.3 L820.9,117.1 L824.5,115.7 L830.0,113.6 L831.9,112.9 L838.1,126.6 L839.2,129.1 L846.5,134.0 L850.2,136.4 L853.9,138.9 L861.2,143.8 L868.6,146.1 L870.3,146.6 L875.9,148.4 L883.2,151.2 L890.6,122.2 L897.9,160.0 L904.6,160.0 L905.2,160.0 L912.6,130.3 L912.6,130.3 L916.7,133.5 L919.9,136.1 L927.3,115.2 L934.6,98.5 L934.8,98.5 L941.9,98.5 L942.9,99.9 L949.3,109.6 L950.9,108.8 L956.6,105.9 L957.0,106.2 L963.0,111.6 L963.9,112.4 L971.1,104.5 L971.3,104.3 L978.6,74.8 L979.1,75.7 L985.9,87.3 L991.2,90.3 L993.3,91.5 L1000.6,70.6 L1001.3,69.7 L1008.0,61.3 L1015.3,45.1 L1015.4,45.1 L1022.6,45.1 L1023.5,44.8 L1030.0,42.7 L1031.5,43.1 L1037.3,44.6 L1037.3,451.0 L1031.5,451.0 L1030.0,451.0 L1023.5,451.0 L1022.6,451.0 L1015.4,451.0 L1015.3,451.0 L1008.0,451.0 L1001.3,451.0 L1000.6,451.0 L993.3,451.0 L991.2,451.0 L985.9,451.0 L979.1,451.0 L978.6,451.0 L971.3,451.0 L971.1,451.0 L963.9,451.0 L963.0,451.0 L957.0,451.0 L956.6,451.0 L950.9,451.0 L949.3,451.0 L942.9,451.0 L941.9,451.0 L934.8,451.0 L934.6,451.0 L927.3,451.0 L919.9,451.0 L916.7,451.0 L912.6,451.0 L912.6,451.0 L905.2,451.0 L904.6,451.0 L897.9,451.0 L890.6,451.0 L883.2,451.0 L875.9,451.0 L870.3,451.0 L868.6,451.0 L861.2,451.0 L853.9,451.0 L850.2,451.0 L846.5,451.0 L839.2,451.0 L838.1,451.0 L831.9,451.0 L830.0,451.0 L824.5,451.0 L820.9,451.0 L817.2,451.0 L809.9,451.0 L802.5,451.0 L800.3,451.0 L795.2,451.0 L787.9,451.0 L780.5,451.0 L776.8,451.0 L773.2,451.0 L765.8,451.0 L758.5,451.0 L751.2,451.0 L743.8,451.0 L736.5,451.0 L729.2,451.0 L721.8,451.0 L714.5,451.0 L707.1,451.0 L699.8,451.0 L692.5,451.0 L685.1,451.0 L677.8,451.0 L670.5,451.0 L663.1,451.0 L655.8,451.0 L648.4,451.0 L641.1,451.0 L633.8,451.0 L626.4,451.0Z" fill="#5a5812"/>
<path d="M626.4,127.4 L633.8,132.4 L641.1,137.4 L648.4,139.2 L655.8,141.1 L663.1,141.4 L670.5,141.8 L677.8,142.2 L685.1,143.3 L692.5,147.3 L699.8,148.0 L707.1,148.7 L714.5,148.9 L721.8,149.2 L729.2,149.4 L736.5,149.7 L743.8,149.9 L751.2,150.5 L758.5,151.0 L765.8,140.7 L773.2,137.5 L776.8,135.9 L780.5,134.4 L787.9,131.5 L795.2,128.6 L800.3,126.5 L802.5,125.8 L809.9,123.4 L817.2,121.0 L820.9,119.8 L824.5,118.5 L830.0,116.4 L831.9,115.7 L838.1,129.4 L839.2,132.0 L846.5,137.0 L850.2,139.4 L853.9,141.9 L861.2,146.9 L868.6,149.3 L870.3,149.9 L875.9,151.7 L883.2,154.6 L890.6,125.7 L897.9,163.6 L904.6,163.7 L905.2,163.7 L912.6,134.1 L912.6,134.1 L916.7,137.4 L919.9,140.0 L927.3,119.2 L934.6,102.5 L934.8,102.5 L941.9,102.6 L942.9,104.1 L949.3,113.9 L950.9,113.1 L956.6,110.2 L957.0,110.6 L963.0,116.0 L963.9,116.8 L971.1,109.0 L971.3,108.8 L978.6,79.4 L979.1,80.3 L985.9,92.0 L991.2,95.1 L993.3,96.3 L1000.6,75.5 L1001.3,74.6 L1008.0,66.3 L1015.3,50.1 L1015.4,50.1 L1022.6,50.2 L1023.5,50.0 L1030.0,48.0 L1031.5,48.4 L1037.3,49.9 L1037.3,451.0 L1031.5,451.0 L1030.0,451.0 L1023.5,451.0 L1022.6,451.0 L1015.4,451.0 L1015.3,451.0 L1008.0,451.0 L1001.3,451.0 L1000.6,451.0 L993.3,451.0 L991.2,451.0 L985.9,451.0 L979.1,451.0 L978.6,451.0 L971.3,451.0 L971.1,451.0 L963.9,451.0 L963.0,451.0 L957.0,451.0 L956.6,451.0 L950.9,451.0 L949.3,451.0 L942.9,451.0 L941.9,451.0 L934.8,451.0 L934.6,451.0 L927.3,451.0 L919.9,451.0 L916.7,451.0 L912.6,451.0 L912.6,451.0 L905.2,451.0 L904.6,451.0 L897.9,451.0 L890.6,451.0 L883.2,451.0 L875.9,451.0 L870.3,451.0 L868.6,451.0 L861.2,451.0 L853.9,451.0 L850.2,451.0 L846.5,451.0 L839.2,451.0 L838.1,451.0 L831.9,451.0 L830.0,451.0 L824.5,451.0 L820.9,451.0 L817.2,451.0 L809.9,451.0 L802.5,451.0 L800.3,451.0 L795.2,451.0 L787.9,451.0 L780.5,451.0 L776.8,451.0 L773.2,451.0 L765.8,451.0 L758.5,451.0 L751.2,451.0 L743.8,451.0 L736.5,451.0 L729.2,451.0 L721.8,451.0 L714.5,451.0 L707.1,451.0 L699.8,451.0 L692.5,451.0 L685.1,451.0 L677.8,451.0 L670.5,451.0 L663.1,451.0 L655.8,451.0 L648.4,451.0 L641.1,451.0 L633.8,451.0 L626.4,451.0Z" fill="#e6f03c"/>
<path d="M626.4,128.9 L633.8,134.0 L641.1,139.0 L648.4,140.8 L655.8,142.7 L663.1,143.1 L670.5,143.5 L677.8,143.9 L685.1,145.0 L692.5,149.1 L699.8,149.8 L707.1,150.5 L714.5,150.8 L721.8,151.0 L729.2,151.3 L736.5,151.6 L743.8,151.8 L751.2,152.4 L758.5,153.0 L765.8,142.7 L773.2,139.6 L776.8,138.0 L780.5,136.5 L787.9,133.6 L795.2,130.7 L800.3,128.7 L802.5,128.0 L809.9,125.6 L817.2,123.2 L820.9,122.1 L824.5,120.7 L830.0,118.7 L831.9,118.0 L838.1,131.7 L839.2,134.3 L846.5,139.3 L850.2,141.8 L853.9,144.3 L861.2,149.3 L868.6,151.8 L870.3,152.4 L875.9,154.2 L883.2,157.2 L890.6,128.3 L897.9,166.3 L904.6,166.4 L905.2,166.4 L912.6,136.8 L912.6,136.8 L916.7,140.1 L919.9,142.7 L927.3,122.0 L934.6,105.4 L934.8,105.4 L941.9,105.5 L942.9,107.0 L949.3,116.8 L950.9,116.0 L956.6,113.2 L957.0,113.6 L963.0,119.0 L963.9,119.9 L971.1,112.1 L971.3,111.9 L978.6,82.5 L979.1,83.4 L985.9,95.2 L991.2,98.3 L993.3,99.5 L1000.6,78.7 L1001.3,77.9 L1008.0,69.6 L1015.3,53.5 L1015.4,53.5 L1022.6,53.6 L1023.5,53.3 L1030.0,51.4 L1031.5,51.8 L1037.3,53.4 L1037.3,451.0 L1031.5,451.0 L1030.0,451.0 L1023.5,451.0 L1022.6,451.0 L1015.4,451.0 L1015.3,451.0 L1008.0,451.0 L1001.3,451.0 L1000.6,451.0 L993.3,451.0 L991.2,451.0 L985.9,451.0 L979.1,451.0 L978.6,451.0 L971.3,451.0 L971.1,451.0 L963.9,451.0 L963.0,451.0 L957.0,451.0 L956.6,451.0 L950.9,451.0 L949.3,451.0 L942.9,451.0 L941.9,451.0 L934.8,451.0 L934.6,451.0 L927.3,451.0 L919.9,451.0 L916.7,451.0 L912.6,451.0 L912.6,451.0 L905.2,451.0 L904.6,451.0 L897.9,451.0 L890.6,451.0 L883.2,451.0 L875.9,451.0 L870.3,451.0 L868.6,451.0 L861.2,451.0 L853.9,451.0 L850.2,451.0 L846.5,451.0 L839.2,451.0 L838.1,451.0 L831.9,451.0 L830.0,451.0 L824.5,451.0 L820.9,451.0 L817.2,451.0 L809.9,451.0 L802.5,451.0 L800.3,451.0 L795.2,451.0 L787.9,451.0 L780.5,451.0 L776.8,451.0 L773.2,451.0 L765.8,451.0 L758.5,451.0 L751.2,451.0 L743.8,451.0 L736.5,451.0 L729.2,451.0 L721.8,451.0 L714.5,451.0 L707.1,451.0 L699.8,451.0 L692.5,451.0 L685.1,451.0 L677.8,451.0 L670.5,451.0 L663.1,451.0 L655.8,451.0 L648.4,451.0 L641.1,451.0 L633.8,451.0 L626.4,451.0Z" fill="#84841e"/>
<path d="M626.4,129.7 L633.8,133.6 L641.1,137.6 L648.4,139.6 L655.8,141.5 L663.1,142.5 L670.5,143.5 L677.8,144.5 L685.1,146.9 L692.5,149.2 L699.8,149.6 L707.1,150.0 L714.5,150.4 L721.8,150.8 L729.2,151.2 L736.5,151.7 L743.8,152.3 L751.2,152.9 L758.5,153.5 L765.8,144.5 L773.2,144.5 L776.8,143.3 L780.5,142.2 L787.9,139.9 L795.2,137.6 L800.3,136.0 L802.5,135.3 L809.9,133.4 L817.2,131.5 L820.9,130.6 L824.5,129.6 L830.0,128.2 L831.9,127.8 L838.1,138.7 L839.2,140.7 L846.5,145.8 L850.2,148.3 L853.9,150.9 L861.2,156.1 L868.6,159.6 L870.3,160.4 L875.9,163.1 L883.2,166.6 L890.6,134.0 L897.9,176.2 L904.6,176.2 L905.2,176.2 L912.6,146.0 L912.6,146.0 L916.7,148.5 L919.9,150.6 L927.3,130.6 L934.6,115.2 L934.8,115.3 L941.9,116.0 L942.9,117.3 L949.3,126.0 L950.9,125.5 L956.6,123.7 L957.0,124.1 L963.0,130.4 L963.9,131.4 L971.1,123.1 L971.3,122.9 L978.6,94.5 L979.1,95.4 L985.9,107.6 L991.2,110.9 L993.3,112.2 L1000.6,90.7 L1001.3,89.8 L1008.0,81.5 L1015.3,65.3 L1015.4,65.3 L1022.6,64.6 L1023.5,64.4 L1030.0,63.0 L1031.5,63.4 L1037.3,64.6 L1037.3,451.0 L1031.5,451.0 L1030.0,451.0 L1023.5,451.0 L1022.6,451.0 L1015.4,451.0 L1015.3,451.0 L1008.0,451.0 L1001.3,451.0 L1000.6,451.0 L993.3,451.0 L991.2,451.0 L985.9,451.0 L979.1,451.0 L978.6,451.0 L971.3,451.0 L971.1,451.0 L963.9,451.0 L963.0,451.0 L957.0,451.0 L956.6,451.0 L950.9,451.0 L949.3,451.0 L942.9,451.0 L941.9,451.0 L934.8,451.0 L934.6,451.0 L927.3,451.0 L919.9,451.0 L916.7,451.0 L912.6,451.0 L912.6,451.0 L905.2,451.0 L904.6,451.0 L897.9,451.0 L890.6,451.0 L883.2,451.0 L875.9,451.0 L870.3,451.0 L868.6,451.0 L861.2,451.0 L853.9,451.0 L850.2,451.0 L846.5,451.0 L839.2,451.0 L838.1,451.0 L831.9,451.0 L830.0,451.0 L824.5,451.0 L820.9,451.0 L817.2,451.0 L809.9,451.0 L802.5,451.0 L800.3,451.0 L795.2,451.0 L787.9,451.0 L780.5,451.0 L776.8,451.0 L773.2,451.0 L765.8,451.0 L758.5,451.0 L751.2,451.0 L743.8,451.0 L736.5,451.0 L729.2,451.0 L721.8,451.0 L714.5,451.0 L707.1,451.0 L699.8,451.0 L692.5,451.0 L685.1,451.0 L677.8,451.0 L670.5,451.0 L663.1,451.0 L655.8,451.0 L648.4,451.0 L641.1,451.0 L633.8,451.0 L626.4,451.0Z" fill="#f7dc14"/>
<path d="M626.4,136.9 L633.8,139.9 L641.1,143.0 L648.4,144.5 L655.8,146.1 L663.1,147.6 L670.5,149.2 L677.8,150.7 L685.1,152.6 L692.5,154.5 L699.8,156.2 L707.1,157.9 L714.5,159.6 L721.8,161.3 L729.2,163.0 L736.5,163.2 L743.8,163.4 L751.2,163.6 L758.5,163.7 L765.8,154.5 L773.2,153.7 L776.8,152.6 L780.5,151.4 L787.9,149.1 L795.2,146.8 L800.3,145.2 L802.5,144.5 L809.9,142.5 L817.2,140.4 L820.9,139.4 L824.5,138.4 L830.0,136.9 L831.9,136.4 L838.1,148.1 L839.2,150.3 L846.5,154.8 L850.2,157.0 L853.9,159.3 L861.2,163.7 L868.6,167.6 L870.3,168.5 L875.9,171.4 L883.2,175.3 L890.6,141.7 L897.9,183.9 L904.6,183.9 L905.2,183.9 L912.6,153.6 L912.6,153.7 L916.7,156.2 L919.9,158.2 L927.3,138.3 L934.6,123.7 L934.8,123.7 L941.9,123.7 L942.9,125.0 L949.3,133.7 L950.9,133.1 L956.6,131.4 L957.0,131.7 L963.0,137.4 L963.9,138.3 L971.1,130.8 L971.3,130.6 L978.6,101.4 L979.1,102.4 L985.9,115.2 L991.2,118.6 L993.3,119.8 L1000.6,96.8 L1001.3,96.1 L1008.0,89.1 L1015.3,73.8 L1015.4,73.8 L1022.6,73.0 L1023.5,72.8 L1030.0,71.5 L1031.5,71.8 L1037.3,73.0 L1037.3,451.0 L1031.5,451.0 L1030.0,451.0 L1023.5,451.0 L1022.6,451.0 L1015.4,451.0 L1015.3,451.0 L1008.0,451.0 L1001.3,451.0 L1000.6,451.0 L993.3,451.0 L991.2,451.0 L985.9,451.0 L979.1,451.0 L978.6,451.0 L971.3,451.0 L971.1,451.0 L963.9,451.0 L963.0,451.0 L957.0,451.0 L956.6,451.0 L950.9,451.0 L949.3,451.0 L942.9,451.0 L941.9,451.0 L934.8,451.0 L934.6,451.0 L927.3,451.0 L919.9,451.0 L916.7,451.0 L912.6,451.0 L912.6,451.0 L905.2,451.0 L904.6,451.0 L897.9,451.0 L890.6,451.0 L883.2,451.0 L875.9,451.0 L870.3,451.0 L868.6,451.0 L861.2,451.0 L853.9,451.0 L850.2,451.0 L846.5,451.0 L839.2,451.0 L838.1,451.0 L831.9,451.0 L830.0,451.0 L824.5,451.0 L820.9,451.0 L817.2,451.0 L809.9,451.0 L802.5,451.0 L800.3,451.0 L795.2,451.0 L787.9,451.0 L780.5,451.0 L776.8,451.0 L773.2,451.0 L765.8,451.0 L758.5,451.0 L751.2,451.0 L743.8,451.0 L736.5,451.0 L729.2,451.0 L721.8,451.0 L714.5,451.0 L707.1,451.0 L699.8,451.0 L692.5,451.0 L685.1,451.0 L677.8,451.0 L670.5,451.0 L663.1,451.0 L655.8,451.0 L648.4,451.0 L641.1,451.0 L633.8,451.0 L626.4,451.0Z" fill="#aed424"/>
<path d="M626.4,145.6 L633.8,148.2 L641.1,150.7 L648.4,152.2 L655.8,153.8 L663.1,155.0 L670.5,156.3 L677.8,157.6 L685.1,160.7 L692.5,163.7 L699.8,165.3 L707.1,166.8 L714.5,168.3 L721.8,169.9 L729.2,171.4 L736.5,172.8 L743.8,174.1 L751.2,175.5 L758.5,176.8 L765.8,168.3 L773.2,164.5 L776.8,163.7 L780.5,162.9 L787.9,161.4 L795.2,159.8 L800.3,158.8 L802.5,158.3 L809.9,155.7 L817.2,153.1 L820.9,151.8 L824.5,150.5 L830.0,148.6 L831.9,147.9 L838.1,160.5 L839.2,162.8 L846.5,166.3 L850.2,168.0 L853.9,169.8 L861.2,173.3 L868.6,177.5 L870.3,178.5 L875.9,181.7 L883.2,185.8 L890.6,148.4 L897.9,186.8 L904.6,188.5 L905.2,188.7 L912.6,167.4 L912.6,167.5 L916.7,168.3 L919.9,169.0 L927.3,150.6 L934.6,136.7 L934.8,136.8 L941.9,139.8 L942.9,140.8 L949.3,147.5 L950.9,147.1 L956.6,146.0 L957.0,146.3 L963.0,151.3 L963.9,152.1 L971.1,141.6 L971.3,141.3 L978.6,115.2 L979.1,116.2 L985.9,129.1 L991.2,132.4 L993.3,133.7 L1000.6,110.6 L1001.3,109.9 L1008.0,103.0 L1015.3,89.1 L1015.4,89.1 L1022.6,89.1 L1023.5,88.9 L1030.0,86.8 L1031.5,87.3 L1037.3,89.1 L1037.3,451.0 L1031.5,451.0 L1030.0,451.0 L1023.5,451.0 L1022.6,451.0 L1015.4,451.0 L1015.3,451.0 L1008.0,451.0 L1001.3,451.0 L1000.6,451.0 L993.3,451.0 L991.2,451.0 L985.9,451.0 L979.1,451.0 L978.6,451.0 L971.3,451.0 L971.1,451.0 L963.9,451.0 L963.0,451.0 L957.0,451.0 L956.6,451.0 L950.9,451.0 L949.3,451.0 L942.9,451.0 L941.9,451.0 L934.8,451.0 L934.6,451.0 L927.3,451.0 L919.9,451.0 L916.7,451.0 L912.6,451.0 L912.6,451.0 L905.2,451.0 L904.6,451.0 L897.9,451.0 L890.6,451.0 L883.2,451.0 L875.9,451.0 L870.3,451.0 L868.6,451.0 L861.2,451.0 L853.9,451.0 L850.2,451.0 L846.5,451.0 L839.2,451.0 L838.1,451.0 L831.9,451.0 L830.0,451.0 L824.5,451.0 L820.9,451.0 L817.2,451.0 L809.9,451.0 L802.5,451.0 L800.3,451.0 L795.2,451.0 L787.9,451.0 L780.5,451.0 L776.8,451.0 L773.2,451.0 L765.8,451.0 L758.5,451.0 L751.2,451.0 L743.8,451.0 L736.5,451.0 L729.2,451.0 L721.8,451.0 L714.5,451.0 L707.1,451.0 L699.8,451.0 L692.5,451.0 L685.1,451.0 L677.8,451.0 L670.5,451.0 L663.1,451.0 L655.8,451.0 L648.4,451.0 L641.1,451.0 L633.8,451.0 L626.4,451.0Z" fill="#acd67e"/>
<path d="M626.4,152.2 L633.8,154.1 L641.1,156.1 L648.4,157.6 L655.8,159.1 L663.1,160.4 L670.5,161.7 L677.8,163.0 L685.1,165.7 L692.5,168.3 L699.8,170.2 L707.1,172.0 L714.5,173.9 L721.8,175.7 L729.2,177.6 L736.5,178.3 L743.8,179.1 L751.2,179.9 L758.5,180.6 L765.8,174.5 L773.2,172.1 L776.8,171.5 L780.5,170.8 L787.9,169.4 L795.2,168.1 L800.3,167.2 L802.5,166.8 L809.9,165.3 L817.2,163.8 L820.9,163.1 L824.5,162.3 L830.0,161.2 L831.9,160.9 L838.1,173.8 L839.2,176.2 L846.5,179.4 L850.2,181.0 L853.9,182.6 L861.2,185.8 L868.6,192.5 L870.3,194.1 L875.9,199.3 L883.2,206.0 L890.6,206.0 L897.9,207.9 L904.6,209.6 L905.2,209.8 L912.6,187.4 L912.6,187.4 L916.7,184.0 L919.9,181.3 L927.3,165.9 L934.6,150.6 L934.8,150.6 L941.9,153.6 L942.9,155.0 L949.3,164.4 L950.9,164.0 L956.6,162.8 L957.0,163.1 L963.0,168.2 L963.9,169.0 L971.1,158.5 L971.3,158.2 L978.6,136.7 L979.1,137.3 L985.9,144.4 L991.2,148.3 L993.3,149.8 L1000.6,127.5 L1001.3,126.7 L1008.0,119.1 L1015.3,109.9 L1015.4,110.0 L1022.6,116.0 L1023.5,114.3 L1030.0,101.4 L1031.5,101.7 L1037.3,103.0 L1037.3,451.0 L1031.5,451.0 L1030.0,451.0 L1023.5,451.0 L1022.6,451.0 L1015.4,451.0 L1015.3,451.0 L1008.0,451.0 L1001.3,451.0 L1000.6,451.0 L993.3,451.0 L991.2,451.0 L985.9,451.0 L979.1,451.0 L978.6,451.0 L971.3,451.0 L971.1,451.0 L963.9,451.0 L963.0,451.0 L957.0,451.0 L956.6,451.0 L950.9,451.0 L949.3,451.0 L942.9,451.0 L941.9,451.0 L934.8,451.0 L934.6,451.0 L927.3,451.0 L919.9,451.0 L916.7,451.0 L912.6,451.0 L912.6,451.0 L905.2,451.0 L904.6,451.0 L897.9,451.0 L890.6,451.0 L883.2,451.0 L875.9,451.0 L870.3,451.0 L868.6,451.0 L861.2,451.0 L853.9,451.0 L850.2,451.0 L846.5,451.0 L839.2,451.0 L838.1,451.0 L831.9,451.0 L830.0,451.0 L824.5,451.0 L820.9,451.0 L817.2,451.0 L809.9,451.0 L802.5,451.0 L800.3,451.0 L795.2,451.0 L787.9,451.0 L780.5,451.0 L776.8,451.0 L773.2,451.0 L765.8,451.0 L758.5,451.0 L751.2,451.0 L743.8,451.0 L736.5,451.0 L729.2,451.0 L721.8,451.0 L714.5,451.0 L707.1,451.0 L699.8,451.0 L692.5,451.0 L685.1,451.0 L677.8,451.0 L670.5,451.0 L663.1,451.0 L655.8,451.0 L648.4,451.0 L641.1,451.0 L633.8,451.0 L626.4,451.0Z" fill="#3e6e20"/>
<path d="M626.4,163.7 L633.8,165.7 L641.1,167.6 L648.4,169.5 L655.8,171.4 L663.1,172.7 L670.5,174.0 L677.8,175.3 L685.1,177.9 L692.5,180.6 L699.8,182.2 L707.1,183.7 L714.5,185.2 L721.8,186.8 L729.2,188.3 L736.5,189.5 L743.8,190.6 L751.2,191.8 L758.5,192.9 L765.8,185.2 L773.2,186.0 L776.8,185.4 L780.5,184.8 L787.9,183.6 L795.2,182.5 L800.3,181.7 L802.5,181.3 L809.9,179.8 L817.2,178.3 L820.9,177.5 L824.5,176.8 L830.0,175.6 L831.9,175.3 L838.1,187.4 L839.2,189.7 L846.5,193.5 L850.2,195.4 L853.9,197.3 L861.2,201.2 L868.6,208.2 L870.3,209.9 L875.9,215.2 L883.2,222.3 L890.6,222.8 L897.9,223.2 L904.6,225.0 L905.2,225.2 L912.6,193.5 L912.6,193.5 L916.7,193.5 L919.9,193.6 L927.3,173.6 L934.6,165.9 L934.8,166.0 L941.9,167.4 L942.9,168.8 L949.3,178.2 L950.9,177.5 L956.6,175.1 L957.0,175.5 L963.0,181.8 L963.9,182.8 L971.1,170.9 L971.3,170.5 L978.6,153.6 L979.1,154.3 L985.9,162.8 L991.2,167.3 L993.3,169.0 L1000.6,146.0 L1001.3,144.5 L1008.0,130.6 L1015.3,126.0 L1015.4,126.1 L1022.6,135.2 L1023.5,133.3 L1030.0,118.3 L1031.5,119.0 L1037.3,121.4 L1037.3,451.0 L1031.5,451.0 L1030.0,451.0 L1023.5,451.0 L1022.6,451.0 L1015.4,451.0 L1015.3,451.0 L1008.0,451.0 L1001.3,451.0 L1000.6,451.0 L993.3,451.0 L991.2,451.0 L985.9,451.0 L979.1,451.0 L978.6,451.0 L971.3,451.0 L971.1,451.0 L963.9,451.0 L963.0,451.0 L957.0,451.0 L956.6,451.0 L950.9,451.0 L949.3,451.0 L942.9,451.0 L941.9,451.0 L934.8,451.0 L934.6,451.0 L927.3,451.0 L919.9,451.0 L916.7,451.0 L912.6,451.0 L912.6,451.0 L905.2,451.0 L904.6,451.0 L897.9,451.0 L890.6,451.0 L883.2,451.0 L875.9,451.0 L870.3,451.0 L868.6,451.0 L861.2,451.0 L853.9,451.0 L850.2,451.0 L846.5,451.0 L839.2,451.0 L838.1,451.0 L831.9,451.0 L830.0,451.0 L824.5,451.0 L820.9,451.0 L817.2,451.0 L809.9,451.0 L802.5,451.0 L800.3,451.0 L795.2,451.0 L787.9,451.0 L780.5,451.0 L776.8,451.0 L773.2,451.0 L765.8,451.0 L758.5,451.0 L751.2,451.0 L743.8,451.0 L736.5,451.0 L729.2,451.0 L721.8,451.0 L714.5,451.0 L707.1,451.0 L699.8,451.0 L692.5,451.0 L685.1,451.0 L677.8,451.0 L670.5,451.0 L663.1,451.0 L655.8,451.0 L648.4,451.0 L641.1,451.0 L633.8,451.0 L626.4,451.0Z" fill="#74a83a"/>
<path d="M626.4,196.0 L633.8,198.3 L641.1,200.6 L648.4,202.1 L655.8,203.7 L663.1,205.2 L670.5,206.7 L677.8,208.3 L685.1,209.4 L692.5,210.6 L699.8,211.7 L707.1,212.7 L714.5,213.8 L721.8,214.9 L729.2,216.0 L736.5,216.5 L743.8,217.1 L751.2,217.7 L758.5,218.3 L765.8,212.9 L773.2,209.0 L776.8,208.4 L780.5,207.8 L787.9,206.7 L795.2,205.5 L800.3,204.7 L802.5,204.4 L809.9,203.1 L817.2,201.8 L820.9,201.2 L824.5,200.5 L830.0,199.6 L831.9,199.3 L838.1,207.3 L839.2,208.8 L846.5,211.1 L850.2,212.2 L853.9,213.3 L861.2,215.6 L868.6,220.7 L870.3,221.9 L875.9,225.8 L883.2,230.9 L890.6,231.4 L897.9,231.9 L904.6,232.8 L905.2,232.8 L912.6,204.0 L912.6,204.1 L916.7,207.6 L919.9,210.5 L927.3,178.2 L934.6,175.1 L934.8,175.2 L941.9,176.7 L942.9,177.8 L949.3,185.9 L950.9,185.5 L956.6,184.3 L957.0,184.6 L963.0,189.7 L963.9,190.5 L971.1,178.5 L971.3,178.2 L978.6,159.8 L979.1,160.3 L985.9,167.4 L991.2,170.8 L993.3,172.1 L1000.6,150.6 L1001.3,149.3 L1008.0,136.7 L1015.3,130.6 L1015.4,130.7 L1022.6,139.8 L1023.5,138.1 L1030.0,124.5 L1031.5,124.6 L1037.3,125.2 L1037.3,451.0 L1031.5,451.0 L1030.0,451.0 L1023.5,451.0 L1022.6,451.0 L1015.4,451.0 L1015.3,451.0 L1008.0,451.0 L1001.3,451.0 L1000.6,451.0 L993.3,451.0 L991.2,451.0 L985.9,451.0 L979.1,451.0 L978.6,451.0 L971.3,451.0 L971.1,451.0 L963.9,451.0 L963.0,451.0 L957.0,451.0 L956.6,451.0 L950.9,451.0 L949.3,451.0 L942.9,451.0 L941.9,451.0 L934.8,451.0 L934.6,451.0 L927.3,451.0 L919.9,451.0 L916.7,451.0 L912.6,451.0 L912.6,451.0 L905.2,451.0 L904.6,451.0 L897.9,451.0 L890.6,451.0 L883.2,451.0 L875.9,451.0 L870.3,451.0 L868.6,451.0 L861.2,451.0 L853.9,451.0 L850.2,451.0 L846.5,451.0 L839.2,451.0 L838.1,451.0 L831.9,451.0 L830.0,451.0 L824.5,451.0 L820.9,451.0 L817.2,451.0 L809.9,451.0 L802.5,451.0 L800.3,451.0 L795.2,451.0 L787.9,451.0 L780.5,451.0 L776.8,451.0 L773.2,451.0 L765.8,451.0 L758.5,451.0 L751.2,451.0 L743.8,451.0 L736.5,451.0 L729.2,451.0 L721.8,451.0 L714.5,451.0 L707.1,451.0 L699.8,451.0 L692.5,451.0 L685.1,451.0 L677.8,451.0 L670.5,451.0 L663.1,451.0 L655.8,451.0 L648.4,451.0 L641.1,451.0 L633.8,451.0 L626.4,451.0Z" fill="#0b4f20"/>
<path d="M626.4,239.3 L633.8,242.3 L641.1,245.3 L648.4,247.4 L655.8,249.4 L663.1,250.7 L670.5,252.1 L677.8,253.4 L685.1,255.4 L692.5,257.4 L699.8,258.0 L707.1,258.6 L714.5,259.3 L721.8,259.9 L729.2,260.5 L736.5,261.0 L743.8,261.5 L751.2,262.0 L758.5,262.5 L765.8,258.4 L773.2,256.8 L776.8,256.0 L780.5,255.2 L787.9,253.6 L795.2,252.0 L800.3,250.9 L802.5,250.4 L809.9,249.4 L817.2,248.4 L820.9,247.9 L824.5,247.4 L830.0,246.9 L831.9,246.7 L838.1,250.1 L839.2,250.8 L846.5,254.8 L850.2,256.8 L853.9,258.8 L861.2,262.9 L868.6,264.9 L870.3,265.4 L875.9,266.9 L883.2,268.9 L890.6,269.9 L897.9,271.9 L904.6,271.0 L905.2,270.9 L912.6,246.7 L912.6,246.7 L916.7,245.6 L919.9,244.7 L927.3,222.6 L934.6,212.5 L934.8,212.8 L941.9,224.6 L942.9,225.6 L949.3,232.6 L950.9,232.4 L956.6,231.6 L957.0,232.0 L963.0,237.8 L963.9,238.7 L971.1,226.9 L971.3,226.6 L978.6,206.4 L979.1,206.9 L985.9,212.5 L991.2,215.4 L993.3,216.5 L1000.6,204.4 L1001.3,203.1 L1008.0,190.3 L1015.3,178.2 L1015.4,178.3 L1022.6,184.3 L1023.5,182.9 L1030.0,172.2 L1031.5,171.7 L1037.3,170.2 L1037.3,451.0 L1031.5,451.0 L1030.0,451.0 L1023.5,451.0 L1022.6,451.0 L1015.4,451.0 L1015.3,451.0 L1008.0,451.0 L1001.3,451.0 L1000.6,451.0 L993.3,451.0 L991.2,451.0 L985.9,451.0 L979.1,451.0 L978.6,451.0 L971.3,451.0 L971.1,451.0 L963.9,451.0 L963.0,451.0 L957.0,451.0 L956.6,451.0 L950.9,451.0 L949.3,451.0 L942.9,451.0 L941.9,451.0 L934.8,451.0 L934.6,451.0 L927.3,451.0 L919.9,451.0 L916.7,451.0 L912.6,451.0 L912.6,451.0 L905.2,451.0 L904.6,451.0 L897.9,451.0 L890.6,451.0 L883.2,451.0 L875.9,451.0 L870.3,451.0 L868.6,451.0 L861.2,451.0 L853.9,451.0 L850.2,451.0 L846.5,451.0 L839.2,451.0 L838.1,451.0 L831.9,451.0 L830.0,451.0 L824.5,451.0 L820.9,451.0 L817.2,451.0 L809.9,451.0 L802.5,451.0 L800.3,451.0 L795.2,451.0 L787.9,451.0 L780.5,451.0 L776.8,451.0 L773.2,451.0 L765.8,451.0 L758.5,451.0 L751.2,451.0 L743.8,451.0 L736.5,451.0 L729.2,451.0 L721.8,451.0 L714.5,451.0 L707.1,451.0 L699.8,451.0 L692.5,451.0 L685.1,451.0 L677.8,451.0 L670.5,451.0 L663.1,451.0 L655.8,451.0 L648.4,451.0 L641.1,451.0 L633.8,451.0 L626.4,451.0Z" fill="#bedf34"/>
<path d="M626.4,279.6 L633.8,282.4 L641.1,285.1 L648.4,287.9 L655.8,290.7 L663.1,293.4 L670.5,296.1 L677.8,298.8 L685.1,300.8 L692.5,302.8 L699.8,304.0 L707.1,305.2 L714.5,306.4 L721.8,307.6 L729.2,308.8 L736.5,310.1 L743.8,311.3 L751.2,312.6 L758.5,313.9 L765.8,309.8 L773.2,308.8 L776.8,308.3 L780.5,307.8 L787.9,306.8 L795.2,305.8 L800.3,305.1 L802.5,304.8 L809.9,303.8 L817.2,302.8 L820.9,302.3 L824.5,301.8 L830.0,303.2 L831.9,305.5 L838.1,313.2 L839.2,313.8 L846.5,317.5 L850.2,319.3 L853.9,320.4 L861.2,322.6 L868.6,324.8 L870.3,325.3 L875.9,326.0 L883.2,326.9 L890.6,327.7 L897.9,328.6 L904.6,329.4 L905.2,327.1 L912.6,302.3 L912.6,302.2 L916.7,307.2 L919.9,301.4 L927.3,288.4 L934.6,275.3 L934.8,275.0 L941.9,280.3 L942.9,281.0 L949.3,289.0 L950.9,291.1 L956.6,293.0 L957.0,293.1 L963.0,287.0 L963.9,286.1 L971.1,279.0 L971.3,278.5 L978.6,261.1 L979.1,259.8 L985.9,267.2 L991.2,272.9 L993.3,269.2 L1000.6,256.0 L1001.3,254.8 L1008.0,247.2 L1015.3,238.8 L1015.4,238.7 L1022.6,247.7 L1023.5,248.8 L1030.0,237.4 L1031.5,234.6 L1037.3,235.6 L1037.3,451.0 L1031.5,451.0 L1030.0,451.0 L1023.5,451.0 L1022.6,451.0 L1015.4,451.0 L1015.3,451.0 L1008.0,451.0 L1001.3,451.0 L1000.6,451.0 L993.3,451.0 L991.2,451.0 L985.9,451.0 L979.1,451.0 L978.6,451.0 L971.3,451.0 L971.1,451.0 L963.9,451.0 L963.0,451.0 L957.0,451.0 L956.6,451.0 L950.9,451.0 L949.3,451.0 L942.9,451.0 L941.9,451.0 L934.8,451.0 L934.6,451.0 L927.3,451.0 L919.9,451.0 L916.7,451.0 L912.6,451.0 L912.6,451.0 L905.2,451.0 L904.6,451.0 L897.9,451.0 L890.6,451.0 L883.2,451.0 L875.9,451.0 L870.3,451.0 L868.6,451.0 L861.2,451.0 L853.9,451.0 L850.2,451.0 L846.5,451.0 L839.2,451.0 L838.1,451.0 L831.9,451.0 L830.0,451.0 L824.5,451.0 L820.9,451.0 L817.2,451.0 L809.9,451.0 L802.5,451.0 L800.3,451.0 L795.2,451.0 L787.9,451.0 L780.5,451.0 L776.8,451.0 L773.2,451.0 L765.8,451.0 L758.5,451.0 L751.2,451.0 L743.8,451.0 L736.5,451.0 L729.2,451.0 L721.8,451.0 L714.5,451.0 L707.1,451.0 L699.8,451.0 L692.5,451.0 L685.1,451.0 L677.8,451.0 L670.5,451.0 L663.1,451.0 L655.8,451.0 L648.4,451.0 L641.1,451.0 L633.8,451.0 L626.4,451.0Z" fill="#3aa02a"/>
<path d="M626.4,451.0 L633.8,451.0 L641.1,451.0 L648.4,451.0 L655.8,451.0 L663.1,451.0 L670.5,451.0 L677.8,451.0 L685.1,451.0 L692.5,451.0 L699.8,451.0 L707.1,451.0 L714.5,451.0 L721.8,451.0 L729.2,451.0 L736.5,451.0 L743.8,451.0 L751.2,451.0 L758.5,451.0 L765.8,451.0 L773.2,451.0 L776.8,451.0 L780.5,451.0 L787.9,451.0 L795.2,451.0 L800.3,451.0 L802.5,451.0 L809.9,451.0 L817.2,451.0 L820.9,451.0 L824.5,451.0 L830.0,451.0 L831.9,451.0 L838.1,451.0 L839.2,451.0 L846.5,451.0 L850.2,451.0 L853.9,451.0 L861.2,451.0 L868.6,451.0 L870.3,451.0 L875.9,451.0 L883.2,451.0 L890.6,451.0 L897.9,451.0 L904.6,451.0 L905.2,451.0 L912.6,451.0 L912.6,451.0 L916.7,451.0 L919.9,451.0 L927.3,451.0 L934.6,451.0 L934.8,451.0 L941.9,451.0 L942.9,451.0 L949.3,451.0 L950.9,451.0 L956.6,451.0 L957.0,451.0 L963.0,451.0 L963.9,451.0 L971.1,451.0 L971.3,451.0 L978.6,451.0 L979.1,451.0 L985.9,451.0 L991.2,451.0 L993.3,451.0 L1000.6,451.0 L1001.3,451.0 L1008.0,451.0 L1015.3,451.0 L1015.4,451.0 L1022.6,451.0 L1023.5,451.0 L1030.0,451.0 L1031.5,451.0 L1037.3,451.0 L1037.3,578.6 L1031.5,578.6 L1030.0,578.6 L1023.5,577.8 L1022.6,577.7 L1015.4,579.3 L1015.3,579.3 L1008.0,579.8 L1001.3,582.5 L1000.6,582.8 L993.3,579.8 L991.2,580.6 L985.9,582.8 L979.1,584.3 L978.6,584.4 L971.3,577.5 L971.1,577.5 L963.9,577.7 L963.0,577.8 L957.0,578.6 L956.6,578.6 L950.9,576.1 L949.3,575.4 L942.9,573.7 L941.9,573.5 L934.8,567.9 L934.6,567.7 L927.3,566.8 L919.9,565.8 L916.7,564.6 L912.6,563.1 L912.6,563.1 L905.2,561.2 L904.6,561.1 L897.9,560.5 L890.6,559.8 L883.2,559.1 L875.9,558.5 L870.3,558.0 L868.6,557.9 L861.2,557.2 L853.9,555.7 L850.2,554.9 L846.5,554.1 L839.2,552.6 L838.1,552.3 L831.9,551.0 L830.0,551.0 L824.5,551.2 L820.9,551.3 L817.2,551.4 L809.9,551.7 L802.5,551.9 L800.3,551.9 L795.2,551.8 L787.9,551.7 L780.5,551.6 L776.8,551.5 L773.2,551.4 L765.8,551.3 L758.5,551.4 L751.2,551.4 L743.8,551.5 L736.5,551.5 L729.2,551.5 L721.8,551.6 L714.5,551.6 L707.1,551.7 L699.8,551.7 L692.5,551.8 L685.1,551.8 L677.8,551.8 L670.5,551.8 L663.1,551.8 L655.8,551.8 L648.4,551.8 L641.1,551.8 L633.8,551.8 L626.4,551.8Z" fill="#132311"/>
<line x1="628.24" y1="450.80" x2="1037.31" y2="450.80" stroke="#000" stroke-width="4" stroke-dasharray="8 9.45" opacity="0.88"/>
<path d="M626.4,226.8 L633.8,231.8 L641.1,236.8 L648.4,238.3 L655.8,239.9 L663.1,240.1 L670.5,240.4 L677.8,240.6 L685.1,242.0 L692.5,246.3 L699.8,246.8 L707.1,247.3 L714.5,247.5 L721.8,247.6 L729.2,247.7 L736.5,247.7 L743.8,247.7 L751.2,248.6 L758.5,249.4 L765.8,238.9 L773.2,236.8 L776.8,235.7 L780.5,234.7 L787.9,232.5 L795.2,230.4 L800.3,229.0 L802.5,228.3 L809.9,223.7 L817.2,219.2 L820.9,216.9 L824.5,214.6 L830.0,212.0 L831.9,211.1 L838.1,225.8 L839.2,228.5 L846.5,239.0 L850.2,243.0 L853.9,247.1 L861.2,252.9 L868.6,255.2 L870.3,255.8 L875.9,257.6 L883.2,259.9 L890.6,229.7 L897.9,266.9 L904.6,266.9 L905.2,266.9 L912.6,240.1 L912.6,240.2 L916.7,246.0 L919.9,250.6 L927.3,230.9 L934.6,213.4 L934.8,213.6 L941.9,219.2 L942.9,221.0 L949.3,233.2 L950.9,232.9 L956.6,232.0 L957.0,232.4 L963.0,238.1 L963.9,239.0 L971.1,231.1 L971.3,230.9 L978.6,206.5 L979.1,207.3 L985.9,218.1 L991.2,219.8 L993.3,220.4 L1000.6,200.7 L1001.3,199.4 L1008.0,186.7 L1015.3,172.8 L1015.4,172.8 L1022.6,171.6 L1023.5,171.4 L1030.0,169.3 L1031.5,170.3 L1037.3,174.0" fill="none" stroke="#000" stroke-width="4.6" stroke-linejoin="round"/>
<rect x="79.20" y="1162.47" width="418.21" height="132.57" fill="#f2f2f2"/>
<path d="M86.5,816.7 L93.9,821.7 L101.2,826.6 L108.5,828.4 L115.9,830.2 L123.2,830.6 L130.6,830.9 L137.9,831.3 L145.2,832.3 L152.6,836.3 L159.9,837.0 L167.2,837.6 L174.6,837.8 L181.9,838.0 L189.3,838.2 L196.6,838.4 L203.9,838.7 L211.3,839.2 L218.6,839.7 L225.9,829.4 L233.3,826.1 L236.9,824.5 L240.6,823.0 L248.0,820.1 L255.3,817.1 L260.4,815.0 L262.6,814.3 L270.0,811.9 L277.3,809.5 L281.0,808.3 L284.6,806.9 L292.0,804.1 L299.3,820.3 L306.6,825.2 L314.0,830.1 L321.3,835.0 L328.7,837.3 L336.0,839.6 L343.3,842.4 L350.7,813.4 L358.0,851.2 L365.3,851.2 L372.7,821.5 L380.0,827.3 L387.4,806.4 L394.7,789.7 L402.0,789.7 L409.4,800.8 L416.7,797.1 L424.0,803.6 L431.4,795.5 L438.7,766.0 L446.0,778.5 L453.4,782.7 L460.7,761.8 L468.1,752.5 L475.4,736.3 L482.7,736.3 L490.1,733.9 L497.4,735.8 L497.4,1142.0 L490.1,1142.0 L482.7,1142.0 L475.4,1142.0 L468.1,1142.0 L460.7,1142.0 L453.4,1142.0 L446.0,1142.0 L438.7,1142.0 L431.4,1142.0 L424.0,1142.0 L416.7,1142.0 L409.4,1142.0 L402.0,1142.0 L394.7,1142.0 L387.4,1142.0 L380.0,1142.0 L372.7,1142.0 L365.3,1142.0 L358.0,1142.0 L350.7,1142.0 L343.3,1142.0 L336.0,1142.0 L328.7,1142.0 L321.3,1142.0 L314.0,1142.0 L306.6,1142.0 L299.3,1142.0 L292.0,1142.0 L284.6,1142.0 L281.0,1142.0 L277.3,1142.0 L270.0,1142.0 L262.6,1142.0 L260.4,1142.0 L255.3,1142.0 L248.0,1142.0 L240.6,1142.0 L236.9,1142.0 L233.3,1142.0 L225.9,1142.0 L218.6,1142.0 L211.3,1142.0 L203.9,1142.0 L196.6,1142.0 L189.3,1142.0 L181.9,1142.0 L174.6,1142.0 L167.2,1142.0 L159.9,1142.0 L152.6,1142.0 L145.2,1142.0 L137.9,1142.0 L130.6,1142.0 L123.2,1142.0 L115.9,1142.0 L108.5,1142.0 L101.2,1142.0 L93.9,1142.0 L86.5,1142.0Z" fill="#c868b8"/>
<path d="M86.5,817.5 L93.9,822.4 L101.2,827.4 L108.5,829.2 L115.9,830.9 L123.2,831.3 L130.6,831.7 L137.9,832.0 L145.2,833.1 L152.6,837.0 L159.9,837.7 L167.2,838.3 L174.6,838.5 L181.9,838.7 L189.3,838.9 L196.6,839.2 L203.9,839.4 L211.3,839.9 L218.6,840.4 L225.9,830.1 L233.3,826.9 L236.9,825.3 L240.6,823.8 L248.0,820.8 L255.3,817.9 L260.4,815.8 L262.6,815.1 L270.0,812.7 L277.3,810.2 L281.0,809.0 L284.6,807.7 L292.0,804.9 L299.3,821.1 L306.6,825.9 L314.0,830.8 L321.3,835.7 L328.7,838.0 L336.0,840.3 L343.3,843.1 L350.7,814.1 L358.0,851.8 L365.3,851.8 L372.7,822.2 L380.0,827.9 L387.4,807.1 L394.7,790.4 L402.0,790.5 L409.4,801.5 L416.7,797.8 L424.0,804.3 L431.4,796.1 L438.7,766.8 L446.0,779.3 L453.4,783.4 L460.7,762.5 L468.1,753.2 L475.4,737.0 L482.7,737.0 L490.1,734.7 L497.4,736.6 L497.4,1142.0 L490.1,1142.0 L482.7,1142.0 L475.4,1142.0 L468.1,1142.0 L460.7,1142.0 L453.4,1142.0 L446.0,1142.0 L438.7,1142.0 L431.4,1142.0 L424.0,1142.0 L416.7,1142.0 L409.4,1142.0 L402.0,1142.0 L394.7,1142.0 L387.4,1142.0 L380.0,1142.0 L372.7,1142.0 L365.3,1142.0 L358.0,1142.0 L350.7,1142.0 L343.3,1142.0 L336.0,1142.0 L328.7,1142.0 L321.3,1142.0 L314.0,1142.0 L306.6,1142.0 L299.3,1142.0 L292.0,1142.0 L284.6,1142.0 L281.0,1142.0 L277.3,1142.0 L270.0,1142.0 L262.6,1142.0 L260.4,1142.0 L255.3,1142.0 L248.0,1142.0 L240.6,1142.0 L236.9,1142.0 L233.3,1142.0 L225.9,1142.0 L218.6,1142.0 L211.3,1142.0 L203.9,1142.0 L196.6,1142.0 L189.3,1142.0 L181.9,1142.0 L174.6,1142.0 L167.2,1142.0 L159.9,1142.0 L152.6,1142.0 L145.2,1142.0 L137.9,1142.0 L130.6,1142.0 L123.2,1142.0 L115.9,1142.0 L108.5,1142.0 L101.2,1142.0 L93.9,1142.0 L86.5,1142.0Z" fill="#2e2e96"/>
<path d="M86.5,822.2 L93.9,826.9 L101.2,831.6 L108.5,833.4 L115.9,835.1 L123.2,835.4 L130.6,835.7 L137.9,836.0 L145.2,837.0 L152.6,840.7 L159.9,841.3 L167.2,841.9 L174.6,842.0 L181.9,842.2 L189.3,842.3 L196.6,842.5 L203.9,842.6 L211.3,843.1 L218.6,843.5 L225.9,833.4 L233.3,830.1 L236.9,828.4 L240.6,826.9 L248.0,823.9 L255.3,821.0 L260.4,818.9 L262.6,818.1 L270.0,815.7 L277.3,813.2 L281.0,812.0 L284.6,810.6 L292.0,807.8 L299.3,823.7 L306.6,828.6 L314.0,833.5 L321.3,838.4 L328.7,840.8 L336.0,843.2 L343.3,846.0 L350.7,817.5 L358.0,854.7 L365.3,854.6 L372.7,825.6 L380.0,831.0 L387.4,810.6 L394.7,794.4 L402.0,794.8 L409.4,805.5 L416.7,802.0 L424.0,808.3 L431.4,800.1 L438.7,771.9 L446.0,783.9 L453.4,788.0 L460.7,767.5 L468.1,758.2 L475.4,742.6 L482.7,742.8 L490.1,740.6 L497.4,742.6 L497.4,1142.0 L490.1,1142.0 L482.7,1142.0 L475.4,1142.0 L468.1,1142.0 L460.7,1142.0 L453.4,1142.0 L446.0,1142.0 L438.7,1142.0 L431.4,1142.0 L424.0,1142.0 L416.7,1142.0 L409.4,1142.0 L402.0,1142.0 L394.7,1142.0 L387.4,1142.0 L380.0,1142.0 L372.7,1142.0 L365.3,1142.0 L358.0,1142.0 L350.7,1142.0 L343.3,1142.0 L336.0,1142.0 L328.7,1142.0 L321.3,1142.0 L314.0,1142.0 L306.6,1142.0 L299.3,1142.0 L292.0,1142.0 L284.6,1142.0 L281.0,1142.0 L277.3,1142.0 L270.0,1142.0 L262.6,1142.0 L260.4,1142.0 L255.3,1142.0 L248.0,1142.0 L240.6,1142.0 L236.9,1142.0 L233.3,1142.0 L225.9,1142.0 L218.6,1142.0 L211.3,1142.0 L203.9,1142.0 L196.6,1142.0 L189.3,1142.0 L181.9,1142.0 L174.6,1142.0 L167.2,1142.0 L159.9,1142.0 L152.6,1142.0 L145.2,1142.0 L137.9,1142.0 L130.6,1142.0 L123.2,1142.0 L115.9,1142.0 L108.5,1142.0 L101.2,1142.0 L93.9,1142.0 L86.5,1142.0Z" fill="#8a94c8"/>
<path d="M86.5,825.1 L93.9,829.7 L101.2,834.2 L108.5,836.0 L115.9,837.7 L123.2,838.0 L130.6,838.3 L137.9,838.6 L145.2,839.6 L152.6,843.2 L159.9,843.7 L167.2,844.2 L174.6,844.4 L181.9,844.5 L189.3,844.7 L196.6,844.8 L203.9,844.9 L211.3,845.4 L218.6,845.8 L225.9,835.8 L233.3,832.4 L236.9,830.8 L240.6,829.2 L248.0,826.3 L255.3,823.4 L260.4,821.3 L262.6,820.6 L270.0,818.1 L277.3,815.6 L281.0,814.4 L284.6,813.0 L292.0,810.2 L299.3,825.9 L306.6,830.9 L314.0,836.0 L321.3,841.0 L328.7,843.5 L336.0,846.0 L343.3,848.9 L350.7,820.9 L358.0,857.7 L365.3,857.6 L372.7,829.4 L380.0,834.5 L387.4,814.6 L394.7,799.0 L402.0,799.9 L409.4,810.1 L416.7,806.9 L424.0,813.2 L431.4,804.9 L438.7,778.2 L446.0,789.8 L453.4,793.8 L460.7,773.8 L468.1,764.6 L475.4,749.8 L482.7,750.4 L490.1,748.3 L497.4,750.5 L497.4,1142.0 L490.1,1142.0 L482.7,1142.0 L475.4,1142.0 L468.1,1142.0 L460.7,1142.0 L453.4,1142.0 L446.0,1142.0 L438.7,1142.0 L431.4,1142.0 L424.0,1142.0 L416.7,1142.0 L409.4,1142.0 L402.0,1142.0 L394.7,1142.0 L387.4,1142.0 L380.0,1142.0 L372.7,1142.0 L365.3,1142.0 L358.0,1142.0 L350.7,1142.0 L343.3,1142.0 L336.0,1142.0 L328.7,1142.0 L321.3,1142.0 L314.0,1142.0 L306.6,1142.0 L299.3,1142.0 L292.0,1142.0 L284.6,1142.0 L281.0,1142.0 L277.3,1142.0 L270.0,1142.0 L262.6,1142.0 L260.4,1142.0 L255.3,1142.0 L248.0,1142.0 L240.6,1142.0 L236.9,1142.0 L233.3,1142.0 L225.9,1142.0 L218.6,1142.0 L211.3,1142.0 L203.9,1142.0 L196.6,1142.0 L189.3,1142.0 L181.9,1142.0 L174.6,1142.0 L167.2,1142.0 L159.9,1142.0 L152.6,1142.0 L145.2,1142.0 L137.9,1142.0 L130.6,1142.0 L123.2,1142.0 L115.9,1142.0 L108.5,1142.0 L101.2,1142.0 L93.9,1142.0 L86.5,1142.0Z" fill="#90cce0"/>
<path d="M86.5,832.3 L93.9,836.6 L101.2,840.8 L108.5,842.6 L115.9,844.3 L123.2,844.6 L130.6,844.9 L137.9,845.2 L145.2,846.1 L152.6,849.4 L159.9,849.9 L167.2,850.3 L174.6,850.5 L181.9,850.6 L189.3,850.7 L196.6,850.8 L203.9,850.9 L211.3,851.3 L218.6,851.7 L225.9,842.0 L233.3,838.7 L236.9,837.0 L240.6,835.4 L248.0,832.6 L255.3,829.7 L260.4,827.7 L262.6,827.0 L270.0,824.5 L277.3,822.0 L281.0,820.8 L284.6,819.4 L292.0,816.6 L299.3,831.8 L306.6,836.9 L314.0,842.1 L321.3,847.2 L328.7,849.8 L336.0,852.4 L343.3,855.3 L350.7,828.3 L358.0,864.0 L365.3,863.6 L372.7,836.9 L380.0,841.2 L387.4,822.3 L394.7,807.6 L402.0,809.2 L409.4,818.7 L416.7,815.8 L424.0,821.9 L431.4,813.4 L438.7,789.0 L446.0,799.7 L453.4,803.7 L460.7,784.3 L468.1,775.1 L475.4,761.6 L482.7,762.5 L490.1,760.6 L497.4,763.1 L497.4,1142.0 L490.1,1142.0 L482.7,1142.0 L475.4,1142.0 L468.1,1142.0 L460.7,1142.0 L453.4,1142.0 L446.0,1142.0 L438.7,1142.0 L431.4,1142.0 L424.0,1142.0 L416.7,1142.0 L409.4,1142.0 L402.0,1142.0 L394.7,1142.0 L387.4,1142.0 L380.0,1142.0 L372.7,1142.0 L365.3,1142.0 L358.0,1142.0 L350.7,1142.0 L343.3,1142.0 L336.0,1142.0 L328.7,1142.0 L321.3,1142.0 L314.0,1142.0 L306.6,1142.0 L299.3,1142.0 L292.0,1142.0 L284.6,1142.0 L281.0,1142.0 L277.3,1142.0 L270.0,1142.0 L262.6,1142.0 L260.4,1142.0 L255.3,1142.0 L248.0,1142.0 L240.6,1142.0 L236.9,1142.0 L233.3,1142.0 L225.9,1142.0 L218.6,1142.0 L211.3,1142.0 L203.9,1142.0 L196.6,1142.0 L189.3,1142.0 L181.9,1142.0 L174.6,1142.0 L167.2,1142.0 L159.9,1142.0 L152.6,1142.0 L145.2,1142.0 L137.9,1142.0 L130.6,1142.0 L123.2,1142.0 L115.9,1142.0 L108.5,1142.0 L101.2,1142.0 L93.9,1142.0 L86.5,1142.0Z" fill="#6a3894"/>
<path d="M86.5,843.8 L93.9,847.7 L101.2,851.6 L108.5,853.4 L115.9,855.1 L123.2,855.5 L130.6,855.8 L137.9,856.2 L145.2,857.0 L152.6,859.8 L159.9,860.3 L167.2,860.7 L174.6,860.9 L181.9,861.0 L189.3,861.2 L196.6,861.3 L203.9,861.4 L211.3,861.7 L218.6,862.1 L225.9,853.1 L233.3,849.8 L236.9,848.1 L240.6,846.5 L248.0,843.9 L255.3,841.2 L260.4,839.4 L262.6,838.7 L270.0,836.2 L277.3,833.8 L281.0,832.6 L284.6,831.2 L292.0,828.7 L299.3,842.9 L306.6,847.7 L314.0,852.6 L321.3,857.5 L328.7,859.8 L336.0,862.2 L343.3,864.8 L350.7,838.8 L358.0,872.5 L365.3,871.6 L372.7,846.4 L380.0,849.4 L387.4,831.2 L394.7,817.2 L402.0,819.3 L409.4,827.5 L416.7,824.6 L424.0,830.2 L431.4,821.1 L438.7,798.6 L446.0,808.1 L453.4,811.5 L460.7,792.4 L468.1,782.9 L475.4,770.0 L482.7,770.7 L490.1,768.6 L497.4,770.8 L497.4,1142.0 L490.1,1142.0 L482.7,1142.0 L475.4,1142.0 L468.1,1142.0 L460.7,1142.0 L453.4,1142.0 L446.0,1142.0 L438.7,1142.0 L431.4,1142.0 L424.0,1142.0 L416.7,1142.0 L409.4,1142.0 L402.0,1142.0 L394.7,1142.0 L387.4,1142.0 L380.0,1142.0 L372.7,1142.0 L365.3,1142.0 L358.0,1142.0 L350.7,1142.0 L343.3,1142.0 L336.0,1142.0 L328.7,1142.0 L321.3,1142.0 L314.0,1142.0 L306.6,1142.0 L299.3,1142.0 L292.0,1142.0 L284.6,1142.0 L281.0,1142.0 L277.3,1142.0 L270.0,1142.0 L262.6,1142.0 L260.4,1142.0 L255.3,1142.0 L248.0,1142.0 L240.6,1142.0 L236.9,1142.0 L233.3,1142.0 L225.9,1142.0 L218.6,1142.0 L211.3,1142.0 L203.9,1142.0 L196.6,1142.0 L189.3,1142.0 L181.9,1142.0 L174.6,1142.0 L167.2,1142.0 L159.9,1142.0 L152.6,1142.0 L145.2,1142.0 L137.9,1142.0 L130.6,1142.0 L123.2,1142.0 L115.9,1142.0 L108.5,1142.0 L101.2,1142.0 L93.9,1142.0 L86.5,1142.0Z" fill="#68a0a4"/>
<path d="M86.5,855.2 L93.9,858.6 L101.2,862.0 L108.5,863.8 L115.9,865.6 L123.2,866.0 L130.6,866.3 L137.9,866.7 L145.2,867.4 L152.6,869.7 L159.9,870.0 L167.2,870.4 L174.6,870.5 L181.9,870.7 L189.3,870.8 L196.6,870.9 L203.9,871.0 L211.3,871.2 L218.6,871.5 L225.9,863.1 L233.3,859.7 L236.9,858.0 L240.6,856.4 L248.0,853.9 L255.3,851.3 L260.4,849.6 L262.6,848.9 L270.0,846.5 L277.3,844.0 L281.0,842.8 L284.6,841.4 L292.0,839.0 L299.3,852.3 L306.6,857.1 L314.0,861.8 L321.3,866.6 L328.7,868.8 L336.0,871.1 L343.3,873.6 L350.7,848.6 L358.0,880.7 L365.3,879.3 L372.7,855.7 L380.0,857.5 L387.4,840.3 L394.7,827.1 L402.0,829.8 L409.4,836.8 L416.7,834.1 L424.0,839.3 L431.4,829.8 L438.7,809.4 L446.0,817.8 L453.4,821.0 L460.7,802.3 L468.1,792.5 L475.4,780.6 L482.7,781.5 L490.1,779.2 L497.4,781.5 L497.4,1142.0 L490.1,1142.0 L482.7,1142.0 L475.4,1142.0 L468.1,1142.0 L460.7,1142.0 L453.4,1142.0 L446.0,1142.0 L438.7,1142.0 L431.4,1142.0 L424.0,1142.0 L416.7,1142.0 L409.4,1142.0 L402.0,1142.0 L394.7,1142.0 L387.4,1142.0 L380.0,1142.0 L372.7,1142.0 L365.3,1142.0 L358.0,1142.0 L350.7,1142.0 L343.3,1142.0 L336.0,1142.0 L328.7,1142.0 L321.3,1142.0 L314.0,1142.0 L306.6,1142.0 L299.3,1142.0 L292.0,1142.0 L284.6,1142.0 L281.0,1142.0 L277.3,1142.0 L270.0,1142.0 L262.6,1142.0 L260.4,1142.0 L255.3,1142.0 L248.0,1142.0 L240.6,1142.0 L236.9,1142.0 L233.3,1142.0 L225.9,1142.0 L218.6,1142.0 L211.3,1142.0 L203.9,1142.0 L196.6,1142.0 L189.3,1142.0 L181.9,1142.0 L174.6,1142.0 L167.2,1142.0 L159.9,1142.0 L152.6,1142.0 L145.2,1142.0 L137.9,1142.0 L130.6,1142.0 L123.2,1142.0 L115.9,1142.0 L108.5,1142.0 L101.2,1142.0 L93.9,1142.0 L86.5,1142.0Z" fill="#8c6cb0"/>
<path d="M86.5,866.8 L93.9,869.8 L101.2,872.8 L108.5,874.6 L115.9,876.4 L123.2,876.8 L130.6,877.2 L137.9,877.6 L145.2,878.3 L152.6,880.1 L159.9,880.4 L167.2,880.8 L174.6,880.9 L181.9,881.1 L189.3,881.3 L196.6,881.3 L203.9,881.4 L211.3,881.6 L218.6,881.8 L225.9,874.2 L233.3,870.8 L236.9,869.1 L240.6,867.5 L248.0,865.2 L255.3,862.8 L260.4,861.2 L262.6,860.6 L270.0,858.2 L277.3,855.8 L281.0,854.6 L284.6,853.3 L292.0,851.1 L299.3,863.4 L306.6,868.0 L314.0,872.6 L321.3,877.3 L328.7,879.4 L336.0,881.5 L343.3,883.8 L350.7,860.2 L358.0,890.2 L365.3,888.3 L372.7,866.6 L380.0,867.1 L387.4,850.9 L394.7,838.8 L402.0,842.2 L409.4,847.8 L416.7,845.4 L424.0,850.0 L431.4,840.0 L438.7,822.3 L446.0,829.3 L453.4,832.1 L460.7,814.0 L468.1,803.9 L475.4,793.1 L482.7,794.1 L490.1,791.8 L497.4,794.1 L497.4,1142.0 L490.1,1142.0 L482.7,1142.0 L475.4,1142.0 L468.1,1142.0 L460.7,1142.0 L453.4,1142.0 L446.0,1142.0 L438.7,1142.0 L431.4,1142.0 L424.0,1142.0 L416.7,1142.0 L409.4,1142.0 L402.0,1142.0 L394.7,1142.0 L387.4,1142.0 L380.0,1142.0 L372.7,1142.0 L365.3,1142.0 L358.0,1142.0 L350.7,1142.0 L343.3,1142.0 L336.0,1142.0 L328.7,1142.0 L321.3,1142.0 L314.0,1142.0 L306.6,1142.0 L299.3,1142.0 L292.0,1142.0 L284.6,1142.0 L281.0,1142.0 L277.3,1142.0 L270.0,1142.0 L262.6,1142.0 L260.4,1142.0 L255.3,1142.0 L248.0,1142.0 L240.6,1142.0 L236.9,1142.0 L233.3,1142.0 L225.9,1142.0 L218.6,1142.0 L211.3,1142.0 L203.9,1142.0 L196.6,1142.0 L189.3,1142.0 L181.9,1142.0 L174.6,1142.0 L167.2,1142.0 L159.9,1142.0 L152.6,1142.0 L145.2,1142.0 L137.9,1142.0 L130.6,1142.0 L123.2,1142.0 L115.9,1142.0 L108.5,1142.0 L101.2,1142.0 L93.9,1142.0 L86.5,1142.0Z" fill="#9cd6ca"/>
<path d="M86.5,878.2 L93.9,880.8 L101.2,883.3 L108.5,885.2 L115.9,887.1 L123.2,887.6 L130.6,888.0 L137.9,888.5 L145.2,889.1 L152.6,890.5 L159.9,890.8 L167.2,891.1 L174.6,891.2 L181.9,891.4 L189.3,891.6 L196.6,891.7 L203.9,891.8 L211.3,892.0 L218.6,892.2 L225.9,885.2 L233.3,881.8 L236.9,880.1 L240.6,878.5 L248.0,876.4 L255.3,874.3 L260.4,872.8 L262.6,872.3 L270.0,869.9 L277.3,867.6 L281.0,866.4 L284.6,865.1 L292.0,863.1 L299.3,874.5 L306.6,879.0 L314.0,883.5 L321.3,887.9 L328.7,890.0 L336.0,892.0 L343.3,894.1 L350.7,871.7 L358.0,899.8 L365.3,897.4 L372.7,877.5 L380.0,876.6 L387.4,861.5 L394.7,850.4 L402.0,854.6 L409.4,858.8 L416.7,856.6 L424.0,860.7 L431.4,850.2 L438.7,835.1 L446.0,840.8 L453.4,843.2 L460.7,825.6 L468.1,815.4 L475.4,805.6 L482.7,806.8 L490.1,804.4 L497.4,806.7 L497.4,1142.0 L490.1,1142.0 L482.7,1142.0 L475.4,1142.0 L468.1,1142.0 L460.7,1142.0 L453.4,1142.0 L446.0,1142.0 L438.7,1142.0 L431.4,1142.0 L424.0,1142.0 L416.7,1142.0 L409.4,1142.0 L402.0,1142.0 L394.7,1142.0 L387.4,1142.0 L380.0,1142.0 L372.7,1142.0 L365.3,1142.0 L358.0,1142.0 L350.7,1142.0 L343.3,1142.0 L336.0,1142.0 L328.7,1142.0 L321.3,1142.0 L314.0,1142.0 L306.6,1142.0 L299.3,1142.0 L292.0,1142.0 L284.6,1142.0 L281.0,1142.0 L277.3,1142.0 L270.0,1142.0 L262.6,1142.0 L260.4,1142.0 L255.3,1142.0 L248.0,1142.0 L240.6,1142.0 L236.9,1142.0 L233.3,1142.0 L225.9,1142.0 L218.6,1142.0 L211.3,1142.0 L203.9,1142.0 L196.6,1142.0 L189.3,1142.0 L181.9,1142.0 L174.6,1142.0 L167.2,1142.0 L159.9,1142.0 L152.6,1142.0 L145.2,1142.0 L137.9,1142.0 L130.6,1142.0 L123.2,1142.0 L115.9,1142.0 L108.5,1142.0 L101.2,1142.0 L93.9,1142.0 L86.5,1142.0Z" fill="#6ac2ce"/>
<path d="M86.5,895.8 L93.9,897.9 L101.2,899.9 L108.5,902.0 L115.9,904.0 L123.2,904.6 L130.6,905.3 L137.9,906.0 L145.2,906.6 L152.6,907.3 L159.9,907.6 L167.2,907.9 L174.6,908.2 L181.9,908.6 L189.3,908.9 L196.6,909.1 L203.9,909.3 L211.3,909.5 L218.6,909.7 L225.9,904.0 L233.3,900.7 L236.9,899.1 L240.6,897.5 L248.0,895.8 L255.3,894.2 L260.4,893.1 L262.6,892.6 L270.0,890.4 L277.3,888.2 L281.0,887.1 L284.6,886.0 L292.0,884.4 L299.3,894.2 L306.6,898.6 L314.0,902.9 L321.3,907.3 L328.7,909.2 L336.0,911.1 L343.3,913.0 L350.7,893.0 L358.0,917.5 L365.3,914.2 L372.7,897.9 L380.0,894.6 L387.4,881.6 L394.7,872.6 L402.0,878.3 L409.4,879.9 L416.7,878.3 L424.0,881.6 L431.4,870.2 L438.7,860.4 L446.0,863.6 L453.4,865.3 L460.7,848.9 L468.1,838.3 L475.4,831.0 L482.7,832.6 L490.1,830.2 L497.4,832.6 L497.4,1142.0 L490.1,1142.0 L482.7,1142.0 L475.4,1142.0 L468.1,1142.0 L460.7,1142.0 L453.4,1142.0 L446.0,1142.0 L438.7,1142.0 L431.4,1142.0 L424.0,1142.0 L416.7,1142.0 L409.4,1142.0 L402.0,1142.0 L394.7,1142.0 L387.4,1142.0 L380.0,1142.0 L372.7,1142.0 L365.3,1142.0 L358.0,1142.0 L350.7,1142.0 L343.3,1142.0 L336.0,1142.0 L328.7,1142.0 L321.3,1142.0 L314.0,1142.0 L306.6,1142.0 L299.3,1142.0 L292.0,1142.0 L284.6,1142.0 L281.0,1142.0 L277.3,1142.0 L270.0,1142.0 L262.6,1142.0 L260.4,1142.0 L255.3,1142.0 L248.0,1142.0 L240.6,1142.0 L236.9,1142.0 L233.3,1142.0 L225.9,1142.0 L218.6,1142.0 L211.3,1142.0 L203.9,1142.0 L196.6,1142.0 L189.3,1142.0 L181.9,1142.0 L174.6,1142.0 L167.2,1142.0 L159.9,1142.0 L152.6,1142.0 L145.2,1142.0 L137.9,1142.0 L130.6,1142.0 L123.2,1142.0 L115.9,1142.0 L108.5,1142.0 L101.2,1142.0 L93.9,1142.0 L86.5,1142.0Z" fill="#4c78b8"/>
<path d="M86.5,922.2 L93.9,924.9 L101.2,927.5 L108.5,929.1 L115.9,930.7 L123.2,931.0 L130.6,931.4 L137.9,931.7 L145.2,932.8 L152.6,933.8 L159.9,933.4 L167.2,933.0 L174.6,932.6 L181.9,932.1 L189.3,931.7 L196.6,932.0 L203.9,932.3 L211.3,932.5 L218.6,932.8 L225.9,928.6 L233.3,926.4 L236.9,925.4 L240.6,924.3 L248.0,922.2 L255.3,920.1 L260.4,918.6 L262.6,918.0 L270.0,915.5 L277.3,913.1 L281.0,911.8 L284.6,910.6 L292.0,907.4 L299.3,918.7 L306.6,921.4 L314.0,924.1 L321.3,926.8 L328.7,928.5 L336.0,930.1 L343.3,931.7 L350.7,910.9 L358.0,935.4 L365.3,928.9 L372.7,915.8 L380.0,909.3 L387.4,896.3 L394.7,888.9 L402.0,897.1 L409.4,895.4 L416.7,898.7 L424.0,899.5 L431.4,888.1 L438.7,878.3 L446.0,881.6 L453.4,881.6 L460.7,866.9 L468.1,855.5 L475.4,850.6 L482.7,852.2 L490.1,848.9 L497.4,850.6 L497.4,1142.0 L490.1,1142.0 L482.7,1142.0 L475.4,1142.0 L468.1,1142.0 L460.7,1142.0 L453.4,1142.0 L446.0,1142.0 L438.7,1142.0 L431.4,1142.0 L424.0,1142.0 L416.7,1142.0 L409.4,1142.0 L402.0,1142.0 L394.7,1142.0 L387.4,1142.0 L380.0,1142.0 L372.7,1142.0 L365.3,1142.0 L358.0,1142.0 L350.7,1142.0 L343.3,1142.0 L336.0,1142.0 L328.7,1142.0 L321.3,1142.0 L314.0,1142.0 L306.6,1142.0 L299.3,1142.0 L292.0,1142.0 L284.6,1142.0 L281.0,1142.0 L277.3,1142.0 L270.0,1142.0 L262.6,1142.0 L260.4,1142.0 L255.3,1142.0 L248.0,1142.0 L240.6,1142.0 L236.9,1142.0 L233.3,1142.0 L225.9,1142.0 L218.6,1142.0 L211.3,1142.0 L203.9,1142.0 L196.6,1142.0 L189.3,1142.0 L181.9,1142.0 L174.6,1142.0 L167.2,1142.0 L159.9,1142.0 L152.6,1142.0 L145.2,1142.0 L137.9,1142.0 L130.6,1142.0 L123.2,1142.0 L115.9,1142.0 L108.5,1142.0 L101.2,1142.0 L93.9,1142.0 L86.5,1142.0Z" fill="#4a1686"/>
<path d="M86.5,943.3 L93.9,946.0 L101.2,948.6 L108.5,949.7 L115.9,950.7 L123.2,951.1 L130.6,951.4 L137.9,951.8 L145.2,952.3 L152.6,952.8 L159.9,952.6 L167.2,952.4 L174.6,952.2 L181.9,952.0 L189.3,951.8 L196.6,951.8 L203.9,951.8 L211.3,951.8 L218.6,951.8 L225.9,947.6 L233.3,946.7 L236.9,946.3 L240.6,945.9 L248.0,945.0 L255.3,944.2 L260.4,943.6 L262.6,943.3 L270.0,941.2 L277.3,939.1 L281.0,938.1 L284.6,937.0 L292.0,934.9 L299.3,945.6 L306.6,948.1 L314.0,950.5 L321.3,952.9 L328.7,954.5 L336.0,956.1 L343.3,957.7 L350.7,941.4 L358.0,961.6 L365.3,959.7 L372.7,947.2 L380.0,943.3 L387.4,935.7 L394.7,931.8 L402.0,938.5 L409.4,939.5 L416.7,937.6 L424.0,939.5 L431.4,933.7 L438.7,926.1 L446.0,924.1 L453.4,928.0 L460.7,924.1 L468.1,916.5 L475.4,907.8 L482.7,910.7 L490.1,906.9 L497.4,905.9 L497.4,1142.0 L490.1,1142.0 L482.7,1142.0 L475.4,1142.0 L468.1,1142.0 L460.7,1142.0 L453.4,1142.0 L446.0,1142.0 L438.7,1142.0 L431.4,1142.0 L424.0,1142.0 L416.7,1142.0 L409.4,1142.0 L402.0,1142.0 L394.7,1142.0 L387.4,1142.0 L380.0,1142.0 L372.7,1142.0 L365.3,1142.0 L358.0,1142.0 L350.7,1142.0 L343.3,1142.0 L336.0,1142.0 L328.7,1142.0 L321.3,1142.0 L314.0,1142.0 L306.6,1142.0 L299.3,1142.0 L292.0,1142.0 L284.6,1142.0 L281.0,1142.0 L277.3,1142.0 L270.0,1142.0 L262.6,1142.0 L260.4,1142.0 L255.3,1142.0 L248.0,1142.0 L240.6,1142.0 L236.9,1142.0 L233.3,1142.0 L225.9,1142.0 L218.6,1142.0 L211.3,1142.0 L203.9,1142.0 L196.6,1142.0 L189.3,1142.0 L181.9,1142.0 L174.6,1142.0 L167.2,1142.0 L159.9,1142.0 L152.6,1142.0 L145.2,1142.0 L137.9,1142.0 L130.6,1142.0 L123.2,1142.0 L115.9,1142.0 L108.5,1142.0 L101.2,1142.0 L93.9,1142.0 L86.5,1142.0Z" fill="#203c9c"/>
<path d="M86.5,986.6 L93.9,989.3 L101.2,991.9 L108.5,992.4 L115.9,993.0 L123.2,993.3 L130.6,993.7 L137.9,994.0 L145.2,995.1 L152.6,996.1 L159.9,996.3 L167.2,996.5 L174.6,996.8 L181.9,997.0 L189.3,997.2 L196.6,997.7 L203.9,998.2 L211.3,998.8 L218.6,999.3 L225.9,994.0 L233.3,993.2 L236.9,992.7 L240.6,992.3 L248.0,991.5 L255.3,990.6 L260.4,990.0 L262.6,989.8 L270.0,988.0 L277.3,986.3 L281.0,985.4 L284.6,984.5 L292.0,983.5 L299.3,993.2 L306.6,994.2 L314.0,995.2 L321.3,996.1 L328.7,997.1 L336.0,998.0 L343.3,999.0 L350.7,984.6 L358.0,1003.8 L365.3,1003.8 L372.7,989.4 L380.0,993.2 L387.4,983.6 L394.7,977.9 L402.0,974.0 L409.4,981.7 L416.7,980.8 L424.0,983.6 L431.4,976.0 L438.7,968.3 L446.0,970.2 L453.4,973.1 L460.7,966.4 L468.1,960.6 L475.4,953.9 L482.7,956.8 L490.1,952.0 L497.4,952.9 L497.4,1142.0 L490.1,1142.0 L482.7,1142.0 L475.4,1142.0 L468.1,1142.0 L460.7,1142.0 L453.4,1142.0 L446.0,1142.0 L438.7,1142.0 L431.4,1142.0 L424.0,1142.0 L416.7,1142.0 L409.4,1142.0 L402.0,1142.0 L394.7,1142.0 L387.4,1142.0 L380.0,1142.0 L372.7,1142.0 L365.3,1142.0 L358.0,1142.0 L350.7,1142.0 L343.3,1142.0 L336.0,1142.0 L328.7,1142.0 L321.3,1142.0 L314.0,1142.0 L306.6,1142.0 L299.3,1142.0 L292.0,1142.0 L284.6,1142.0 L281.0,1142.0 L277.3,1142.0 L270.0,1142.0 L262.6,1142.0 L260.4,1142.0 L255.3,1142.0 L248.0,1142.0 L240.6,1142.0 L236.9,1142.0 L233.3,1142.0 L225.9,1142.0 L218.6,1142.0 L211.3,1142.0 L203.9,1142.0 L196.6,1142.0 L189.3,1142.0 L181.9,1142.0 L174.6,1142.0 L167.2,1142.0 L159.9,1142.0 L152.6,1142.0 L145.2,1142.0 L137.9,1142.0 L130.6,1142.0 L123.2,1142.0 L115.9,1142.0 L108.5,1142.0 L101.2,1142.0 L93.9,1142.0 L86.5,1142.0Z" fill="#1e0c6c"/>
<path d="M86.5,1026.7 L93.9,1029.4 L101.2,1032.0 L108.5,1033.1 L115.9,1034.1 L123.2,1034.8 L130.6,1035.5 L137.9,1036.2 L145.2,1037.8 L152.6,1039.4 L159.9,1040.2 L167.2,1041.1 L174.6,1041.9 L181.9,1042.8 L189.3,1043.6 L196.6,1044.4 L203.9,1045.2 L211.3,1046.0 L218.6,1046.8 L225.9,1042.6 L233.3,1041.9 L236.9,1041.6 L240.6,1041.3 L248.0,1040.7 L255.3,1040.0 L260.4,1039.6 L262.6,1039.4 L270.0,1038.3 L277.3,1037.3 L281.0,1036.8 L284.6,1036.2 L292.0,1036.2 L299.3,1042.2 L306.6,1043.3 L314.0,1044.4 L321.3,1045.5 L328.7,1046.7 L336.0,1047.8 L343.3,1048.9 L350.7,1035.5 L358.0,1053.7 L365.3,1053.7 L372.7,1041.2 L380.0,1044.1 L387.4,1035.5 L394.7,1031.6 L402.0,1025.9 L409.4,1033.6 L416.7,1033.6 L424.0,1036.4 L431.4,1029.7 L438.7,1022.0 L446.0,1023.0 L453.4,1025.9 L460.7,1021.1 L468.1,1016.3 L475.4,1008.6 L482.7,1012.4 L490.1,1008.6 L497.4,1009.6 L497.4,1142.0 L490.1,1142.0 L482.7,1142.0 L475.4,1142.0 L468.1,1142.0 L460.7,1142.0 L453.4,1142.0 L446.0,1142.0 L438.7,1142.0 L431.4,1142.0 L424.0,1142.0 L416.7,1142.0 L409.4,1142.0 L402.0,1142.0 L394.7,1142.0 L387.4,1142.0 L380.0,1142.0 L372.7,1142.0 L365.3,1142.0 L358.0,1142.0 L350.7,1142.0 L343.3,1142.0 L336.0,1142.0 L328.7,1142.0 L321.3,1142.0 L314.0,1142.0 L306.6,1142.0 L299.3,1142.0 L292.0,1142.0 L284.6,1142.0 L281.0,1142.0 L277.3,1142.0 L270.0,1142.0 L262.6,1142.0 L260.4,1142.0 L255.3,1142.0 L248.0,1142.0 L240.6,1142.0 L236.9,1142.0 L233.3,1142.0 L225.9,1142.0 L218.6,1142.0 L211.3,1142.0 L203.9,1142.0 L196.6,1142.0 L189.3,1142.0 L181.9,1142.0 L174.6,1142.0 L167.2,1142.0 L159.9,1142.0 L152.6,1142.0 L145.2,1142.0 L137.9,1142.0 L130.6,1142.0 L123.2,1142.0 L115.9,1142.0 L108.5,1142.0 L101.2,1142.0 L93.9,1142.0 L86.5,1142.0Z" fill="#3a2a8a"/>
<path d="M86.5,1142.0 L93.9,1142.0 L101.2,1142.0 L108.5,1142.0 L115.9,1142.0 L123.2,1142.0 L130.6,1142.0 L137.9,1142.0 L145.2,1142.0 L152.6,1142.0 L159.9,1142.0 L167.2,1142.0 L174.6,1142.0 L181.9,1142.0 L189.3,1142.0 L196.6,1142.0 L203.9,1142.0 L211.3,1142.0 L218.6,1142.0 L225.9,1142.0 L233.3,1142.0 L236.9,1142.0 L240.6,1142.0 L248.0,1142.0 L255.3,1142.0 L260.4,1142.0 L262.6,1142.0 L270.0,1142.0 L277.3,1142.0 L281.0,1142.0 L284.6,1142.0 L292.0,1142.0 L299.3,1142.0 L306.6,1142.0 L314.0,1142.0 L321.3,1142.0 L328.7,1142.0 L336.0,1142.0 L343.3,1142.0 L350.7,1142.0 L358.0,1142.0 L365.3,1142.0 L372.7,1142.0 L380.0,1142.0 L387.4,1142.0 L394.7,1142.0 L402.0,1142.0 L409.4,1142.0 L416.7,1142.0 L424.0,1142.0 L431.4,1142.0 L438.7,1142.0 L446.0,1142.0 L453.4,1142.0 L460.7,1142.0 L468.1,1142.0 L475.4,1142.0 L482.7,1142.0 L490.1,1142.0 L497.4,1142.0 L497.4,1269.8 L490.1,1269.8 L482.7,1268.9 L475.4,1270.5 L468.1,1271.0 L460.7,1274.0 L453.4,1271.0 L446.0,1274.0 L438.7,1275.6 L431.4,1268.7 L424.0,1268.9 L416.7,1269.8 L409.4,1266.6 L402.0,1264.7 L394.7,1258.9 L387.4,1258.0 L380.0,1257.0 L372.7,1254.3 L365.3,1252.4 L358.0,1251.7 L350.7,1251.0 L343.3,1250.3 L336.0,1249.7 L328.7,1249.1 L321.3,1248.4 L314.0,1246.9 L306.6,1245.3 L299.3,1243.8 L292.0,1242.2 L284.6,1242.4 L281.0,1242.5 L277.3,1242.6 L270.0,1242.9 L262.6,1243.1 L260.4,1243.1 L255.3,1243.0 L248.0,1242.9 L240.6,1242.8 L236.9,1242.7 L233.3,1242.6 L225.9,1242.5 L218.6,1242.6 L211.3,1242.6 L203.9,1242.7 L196.6,1242.7 L189.3,1242.7 L181.9,1242.8 L174.6,1242.8 L167.2,1242.9 L159.9,1242.9 L152.6,1243.0 L145.2,1243.0 L137.9,1243.0 L130.6,1243.0 L123.2,1243.0 L115.9,1243.0 L108.5,1243.0 L101.2,1243.0 L93.9,1243.0 L86.5,1243.0Z" fill="#120e4a"/>
<line x1="88.34" y1="1142.00" x2="497.41" y2="1142.00" stroke="#000" stroke-width="4" stroke-dasharray="8 9.45" opacity="0.88"/>
<path d="M86.5,918.0 L93.9,923.0 L101.2,928.0 L108.5,929.5 L115.9,931.1 L123.2,931.3 L130.6,931.6 L137.9,931.8 L145.2,933.2 L152.6,937.5 L159.9,938.0 L167.2,938.5 L174.6,938.7 L181.9,938.8 L189.3,938.9 L196.6,938.9 L203.9,938.9 L211.3,939.8 L218.6,940.6 L225.9,930.1 L233.3,928.0 L236.9,926.9 L240.6,925.9 L248.0,923.7 L255.3,921.6 L260.4,920.2 L262.6,919.5 L270.0,914.9 L277.3,910.4 L281.0,908.1 L284.6,905.8 L292.0,902.3 L299.3,919.7 L306.6,930.2 L314.0,938.3 L321.3,944.1 L328.7,946.4 L336.0,948.8 L343.3,951.1 L350.7,920.9 L358.0,958.1 L365.3,958.1 L372.7,931.3 L380.0,941.8 L387.4,922.1 L394.7,904.6 L402.0,910.4 L409.4,924.4 L416.7,923.2 L424.0,930.2 L431.4,922.1 L438.7,897.7 L446.0,909.3 L453.4,911.6 L460.7,891.9 L468.1,877.9 L475.4,864.0 L482.7,862.8 L490.1,860.5 L497.4,865.2" fill="none" stroke="#000" stroke-width="4.6" stroke-linejoin="round"/>
<clipPath id="mapclip"><rect x="0" y="1395.5" width="1042" height="460"/></clipPath>
<g clip-path="url(#mapclip)">
<path d="M788.8,1892.2 L792.8,1892.2 L796.7,1892.1 L800.6,1892.0 L804.6,1891.7 L808.5,1891.5 L812.4,1891.1 L816.3,1890.7 L820.2,1890.3 L824.1,1889.7 L828.0,1889.2 L831.9,1888.5 L835.8,1887.8 L839.6,1887.0 L843.5,1886.2 L847.3,1885.3 L851.1,1884.4 L854.9,1883.4 L858.7,1882.3 L862.5,1881.2 L866.2,1880.0 L870.0,1878.8 L873.7,1877.5 L877.4,1876.1 L881.0,1874.7 L884.7,1873.2 L888.3,1871.7 L891.9,1870.1 L895.5,1868.5 L899.0,1866.8 L902.5,1865.0 L906.0,1863.2 L909.5,1861.3 L912.9,1859.4 L916.3,1857.4 L919.7,1855.4 L923.0,1853.3 L926.3,1851.2 L929.6,1849.0 L932.8,1846.8 L936.1,1844.5 L939.2,1842.2 L942.3,1839.8 L945.4,1837.4 L948.5,1834.9 L951.5,1832.4 L954.5,1829.8 L957.4,1827.2 L960.3,1824.5 L963.1,1821.8 L965.9,1819.0 L968.7,1816.2 L971.4,1813.4 L974.1,1810.5 L976.7,1807.6 L979.3,1804.6 L981.8,1801.6 L984.3,1798.6 L986.7,1795.5 L989.1,1792.4 L991.5,1789.2 L993.7,1786.0 L996.0,1782.8 L998.2,1779.5 L1000.3,1776.2 L1002.4,1772.9 L1004.4,1769.5 L1006.4,1766.1 L1008.3,1762.7 L1010.2,1759.3 L1012.0,1755.8 L1013.7,1752.3 L1015.5,1748.7 L1017.1,1745.2 L1018.7,1741.6 L1020.2,1737.9 L1021.7,1734.3 L1023.1,1730.6 L1024.5,1727.0 L1025.8,1723.3 L1027.0,1719.5 L1028.2,1715.8 L1029.3,1712.0 L1030.4,1708.3 L1031.4,1704.5 L1032.4,1700.6 L1033.3,1696.8 L1034.1,1693.0 L1034.9,1689.1 L1035.6,1685.3 L1036.2,1681.4 L1036.8,1677.5 L1037.3,1673.6 L1037.8,1669.7 L1038.2,1665.8 L1038.5,1661.9 L1038.8,1658.0 L1039.0,1654.1 L1039.2,1650.2 L1039.3,1646.2 L1039.3,1642.3 L1039.3,1638.4 L1039.2,1634.4 L1039.0,1630.5 L1038.8,1626.6 L1038.5,1622.7 L1038.2,1618.8 L1037.8,1614.9 L1037.3,1611.0 L1036.8,1607.1 L1036.2,1603.2 L1035.6,1599.3 L1034.9,1595.5 L1034.1,1591.6 L1033.3,1587.8 L1032.4,1584.0 L1031.4,1580.1 L1030.4,1576.3 L1029.3,1572.6 L1028.2,1568.8 L1027.0,1565.1 L1025.8,1561.3 L1024.5,1557.6 L1023.1,1554.0 L1021.7,1550.3 L1020.2,1546.7 L1018.7,1543.0 L1017.1,1539.4 L1015.5,1535.9 L1013.7,1532.3 L1012.0,1528.8 L1010.2,1525.3 L1008.3,1521.9 L1006.4,1518.5 L1004.4,1515.1 L1002.4,1511.7 L1000.3,1508.4 L998.2,1505.1 L996.0,1501.8 L993.7,1498.6 L991.5,1495.4 L989.1,1492.2 L986.7,1489.1 L984.3,1486.0 L981.8,1483.0 L979.3,1480.0 L976.7,1477.0 L974.1,1474.1 L971.4,1471.2 L968.7,1468.4 L965.9,1465.6 L963.1,1462.8 L960.3,1460.1 L957.4,1457.4 L954.5,1454.8 L951.5,1452.2 L948.5,1449.7 L945.4,1447.2 L942.3,1444.8 L939.2,1442.4 L936.1,1440.1 L932.8,1437.8 L929.6,1435.6 L926.3,1433.4 L923.0,1431.3 L919.7,1429.2 L916.3,1427.2 L912.9,1425.2 L909.5,1423.3 L906.0,1421.4 L902.5,1419.6 L899.0,1417.8 L895.5,1416.1 L891.9,1414.5 L888.3,1412.9 L884.7,1411.4 L881.0,1409.9 L877.4,1408.5 L873.7,1407.1 L870.0,1405.8 L866.2,1404.6 L862.5,1403.4 L858.7,1402.3 L854.9,1401.2 L851.1,1400.2 L847.3,1399.3 L843.5,1398.4 L839.6,1397.6 L835.8,1396.8 L831.9,1396.1 L828.0,1395.4 L824.1,1394.9 L820.2,1394.3 L816.3,1393.9 L812.4,1393.5 L808.5,1393.1 L804.6,1392.9 L800.6,1392.6 L796.7,1392.5 L792.8,1392.4 L788.8,1392.4 L288.0,1392.4 L284.0,1392.4 L280.1,1392.5 L276.2,1392.6 L272.2,1392.9 L268.3,1393.1 L264.4,1393.5 L260.5,1393.9 L256.6,1394.3 L252.7,1394.9 L248.8,1395.4 L244.9,1396.1 L241.0,1396.8 L237.2,1397.6 L233.3,1398.4 L229.5,1399.3 L225.7,1400.2 L221.9,1401.2 L218.1,1402.3 L214.3,1403.4 L210.6,1404.6 L206.8,1405.8 L203.1,1407.1 L199.4,1408.5 L195.8,1409.9 L192.1,1411.4 L188.5,1412.9 L184.9,1414.5 L181.3,1416.1 L177.8,1417.8 L174.3,1419.6 L170.8,1421.4 L167.3,1423.3 L163.9,1425.2 L160.5,1427.2 L157.1,1429.2 L153.8,1431.3 L150.5,1433.4 L147.2,1435.6 L144.0,1437.8 L140.7,1440.1 L137.6,1442.4 L134.5,1444.8 L131.4,1447.2 L128.3,1449.7 L125.3,1452.2 L122.3,1454.8 L119.4,1457.4 L116.5,1460.1 L113.7,1462.8 L110.9,1465.6 L108.1,1468.4 L105.4,1471.2 L102.7,1474.1 L100.1,1477.0 L97.5,1480.0 L95.0,1483.0 L92.5,1486.0 L90.1,1489.1 L87.7,1492.2 L85.3,1495.4 L83.1,1498.6 L80.8,1501.8 L78.6,1505.1 L76.5,1508.4 L74.4,1511.7 L72.4,1515.1 L70.4,1518.5 L68.5,1521.9 L66.6,1525.3 L64.8,1528.8 L63.1,1532.3 L61.3,1535.9 L59.7,1539.4 L58.1,1543.0 L56.6,1546.7 L55.1,1550.3 L53.7,1554.0 L52.3,1557.6 L51.0,1561.3 L49.8,1565.1 L48.6,1568.8 L47.5,1572.6 L46.4,1576.3 L45.4,1580.1 L44.4,1584.0 L43.5,1587.8 L42.7,1591.6 L41.9,1595.5 L41.2,1599.3 L40.6,1603.2 L40.0,1607.1 L39.5,1611.0 L39.0,1614.9 L38.6,1618.8 L38.3,1622.7 L38.0,1626.6 L37.8,1630.5 L37.6,1634.4 L37.5,1638.4 L37.5,1642.3 L37.5,1646.2 L37.6,1650.2 L37.8,1654.1 L38.0,1658.0 L38.3,1661.9 L38.6,1665.8 L39.0,1669.7 L39.5,1673.6 L40.0,1677.5 L40.6,1681.4 L41.2,1685.3 L41.9,1689.1 L42.7,1693.0 L43.5,1696.8 L44.4,1700.6 L45.4,1704.5 L46.4,1708.3 L47.5,1712.0 L48.6,1715.8 L49.8,1719.5 L51.0,1723.3 L52.3,1727.0 L53.7,1730.6 L55.1,1734.3 L56.6,1737.9 L58.1,1741.6 L59.7,1745.2 L61.3,1748.7 L63.1,1752.3 L64.8,1755.8 L66.6,1759.3 L68.5,1762.7 L70.4,1766.1 L72.4,1769.5 L74.4,1772.9 L76.5,1776.2 L78.6,1779.5 L80.8,1782.8 L83.1,1786.0 L85.3,1789.2 L87.7,1792.4 L90.1,1795.5 L92.5,1798.6 L95.0,1801.6 L97.5,1804.6 L100.1,1807.6 L102.7,1810.5 L105.4,1813.4 L108.1,1816.2 L110.9,1819.0 L113.7,1821.8 L116.5,1824.5 L119.4,1827.2 L122.3,1829.8 L125.3,1832.4 L128.3,1834.9 L131.4,1837.4 L134.5,1839.8 L137.6,1842.2 L140.7,1844.5 L144.0,1846.8 L147.2,1849.0 L150.5,1851.2 L153.8,1853.3 L157.1,1855.4 L160.5,1857.4 L163.9,1859.4 L167.3,1861.3 L170.8,1863.2 L174.3,1865.0 L177.8,1866.8 L181.3,1868.5 L184.9,1870.1 L188.5,1871.7 L192.1,1873.2 L195.8,1874.7 L199.4,1876.1 L203.1,1877.5 L206.8,1878.8 L210.6,1880.0 L214.3,1881.2 L218.1,1882.3 L221.9,1883.4 L225.7,1884.4 L229.5,1885.3 L233.3,1886.2 L237.2,1887.0 L241.0,1887.8 L244.9,1888.5 L248.8,1889.2 L252.7,1889.7 L256.6,1890.3 L260.5,1890.7 L264.4,1891.1 L268.3,1891.5 L272.2,1891.7 L276.2,1892.0 L280.1,1892.1 L284.0,1892.2 L288.0,1892.2Z" fill="#cecedd"/>
<path d="M182.9,1424.2 L188.7,1421.7 L196.4,1418.8 L200.2,1415.9 L209.8,1414.0 L225.2,1412.1 L244.4,1412.6 L259.7,1415.0 L273.1,1414.0 L290.4,1412.6 L301.9,1411.1 L310.0,1410.7 L300.0,1409.2 L307.7,1406.3 L319.2,1407.3 L330.7,1405.4 L342.2,1408.2 L351.8,1406.3 L363.3,1407.3 L371.0,1405.4 L380.6,1408.2 L390.2,1411.1 L399.8,1418.8 L396.0,1424.5 L384.5,1423.6 L372.9,1420.7 L363.3,1418.8 L357.6,1422.6 L353.7,1426.5 L349.9,1428.4 L342.2,1427.4 L328.8,1430.3 L319.2,1436.1 L321.1,1441.8 L328.8,1443.7 L335.5,1447.6 L337.4,1455.3 L341.3,1457.2 L346.1,1447.6 L349.9,1441.8 L353.7,1434.1 L357.6,1431.3 L365.3,1429.3 L372.9,1428.4 L380.6,1428.4 L386.4,1434.1 L388.3,1439.9 L392.1,1447.6 L396.0,1453.3 L394.0,1459.1 L390.2,1461.0 L384.5,1464.9 L390.2,1462.9 L396.0,1461.4 L398.8,1466.8 L397.9,1472.5 L392.1,1470.6 L386.4,1468.7 L380.6,1472.5 L372.9,1476.4 L363.3,1482.1 L357.6,1482.1 L349.9,1489.8 L342.2,1495.6 L334.5,1501.3 L330.7,1509.0 L323.0,1516.7 L315.4,1522.4 L311.5,1528.2 L308.6,1535.9 L307.7,1543.6 L306.7,1547.4 L303.8,1541.6 L300.0,1535.9 L301.9,1535.9 L294.3,1532.0 L286.6,1531.1 L278.9,1534.0 L271.2,1537.8 L263.6,1541.6 L261.6,1551.2 L261.6,1558.9 L263.6,1566.6 L269.3,1571.4 L275.1,1570.4 L278.9,1564.7 L282.7,1560.8 L288.5,1559.9 L289.5,1563.7 L285.6,1570.4 L282.7,1574.3 L278.9,1575.2 L275.1,1577.1 L271.2,1581.9 L263.6,1578.1 L255.9,1574.3 L248.2,1570.4 L240.5,1562.7 L236.7,1553.1 L232.8,1541.6 L230.0,1532.0 L227.1,1524.4 L225.2,1528.2 L226.1,1537.8 L228.0,1547.4 L229.0,1555.1 L227.1,1553.1 L225.2,1543.6 L221.3,1535.9 L219.4,1528.2 L219.4,1524.4 L217.5,1516.7 L214.6,1512.8 L213.6,1505.2 L212.7,1497.5 L214.6,1489.8 L217.5,1482.1 L221.3,1476.4 L227.1,1470.6 L230.9,1466.8 L225.2,1461.0 L222.3,1453.3 L225.2,1447.6 L227.1,1439.9 L223.2,1436.1 L215.6,1435.1 L206.0,1433.2 L198.3,1434.1 L190.6,1437.0 L182.9,1439.9 L173.3,1443.7 L163.7,1447.6 L154.1,1449.5 L144.5,1452.4 L133.0,1455.3 L121.5,1457.6 L135.0,1453.7 L158.0,1446.8 L171.4,1441.8 L181.0,1437.0 L171.4,1435.1 L167.6,1433.2 L173.3,1431.3 L181.0,1428.4 L186.8,1426.5Z" fill="#ff9400"/>
<path d="M407.0,1398.5 L415.8,1403.4 L422.3,1411.1 L421.0,1418.9 L419.7,1425.4 L426.2,1431.9 L431.4,1435.8 L441.8,1430.6 L454.7,1425.4 L470.3,1420.2 L483.2,1413.7 L493.6,1406.0 L504.0,1399.5 L509.1,1396.1 L509.1,1394.0 L407.0,1394.0Z" fill="#ff9400"/>
<path d="M288.9,1409.8 L299.2,1406.0 L309.6,1402.8 L327.7,1400.3 L348.5,1398.2 L366.6,1397.4 L384.7,1396.4 L397.0,1396.0 L399.0,1397.5 L395.0,1401.0 L393.0,1404.0 L399.0,1411.1 L402.9,1417.6 L399.0,1421.5 L389.9,1424.1 L379.6,1428.0 L369.2,1429.3 L361.4,1426.7 L353.7,1424.1 L340.7,1424.1 L327.7,1425.4 L317.4,1422.8 L301.8,1418.9 L288.9,1416.3 L275.9,1415.0Z" fill="#ff9400"/>
<path d="M294.1,1416.8 L314.8,1413.2 L340.7,1409.1 L364.0,1406.5 L377.0,1407.5 L364.0,1409.6 L340.7,1412.2 L317.4,1415.8 L299.2,1418.9Z" fill="#cecedd"/>
<path d="M353.7,1417.6 L366.6,1416.8 L371.8,1422.0 L361.4,1424.6 L353.7,1421.5Z" fill="#cecedd"/>
<path d="M478.5,1422.6 L484.3,1420.7 L491.9,1420.7 L499.6,1422.6 L495.8,1426.5 L488.1,1427.4 L480.4,1425.5Z" fill="#ff2c00"/>
<path d="M165.7,1425.5 L173.3,1420.7 L179.1,1419.8 L180.1,1421.7 L171.4,1424.5Z" fill="#ff2c00"/>
<path d="M294.6,1557.3 L300.4,1554.4 L307.6,1555.8 L313.3,1560.2 L322.0,1564.5 L317.7,1566.6 L310.5,1563.0 L303.3,1558.7 L296.1,1559.4Z" fill="#6a0000"/>
<path d="M320.5,1568.1 L327.7,1565.9 L333.5,1568.1 L337.8,1570.9 L330.6,1572.4 L324.9,1574.5 L321.3,1572.4Z" fill="#6a0000"/>
<path d="M309.7,1572.4 L313.3,1571.7 L315.5,1573.8 L310.5,1574.5Z" fill="#6a0000"/>
<path d="M340.0,1572.0 L345.0,1572.0 L345.0,1573.8 L340.0,1573.8Z" fill="#6a0000"/>
<mask id="aemask" maskUnits="userSpaceOnUse" x="0" y="1380" width="1042" height="471"><path d="M509.9,1507.1 L504.1,1505.2 L501.3,1497.5 L502.2,1489.8 L504.1,1484.0 L513.7,1482.1 L523.3,1480.2 L521.4,1472.5 L517.6,1468.7 L523.3,1466.8 L518.8,1467.6 L526.9,1462.2 L530.9,1459.5 L534.9,1456.8 L540.3,1454.1 L545.7,1452.5 L545.7,1444.0 L551.1,1443.4 L551.1,1451.4 L559.1,1451.4 L567.2,1450.1 L572.6,1448.7 L575.2,1443.4 L580.6,1439.3 L588.7,1435.3 L583.3,1435.3 L575.2,1438.0 L571.2,1439.3 L569.9,1436.7 L572.6,1432.6 L575.2,1428.6 L577.9,1423.2 L573.9,1423.9 L569.9,1427.2 L567.2,1431.3 L564.5,1435.3 L565.8,1443.4 L563.1,1448.7 L559.1,1450.1 L556.4,1448.7 L553.7,1442.0 L551.1,1438.0 L544.3,1440.0 L539.0,1439.3 L538.3,1431.3 L544.3,1427.2 L551.1,1423.9 L555.1,1419.2 L559.1,1415.8 L567.2,1413.8 L575.2,1412.2 L583.3,1411.8 L591.4,1413.8 L599.4,1416.5 L607.5,1418.5 L612.9,1420.5 L615.5,1417.8 L623.6,1416.5 L631.7,1415.2 L640.0,1413.8 L668.8,1409.2 L678.4,1406.3 L689.9,1404.4 L703.3,1401.5 L716.8,1403.4 L728.3,1405.4 L736.0,1407.3 L747.5,1407.3 L759.0,1406.3 L770.5,1409.2 L778.2,1411.1 L789.7,1408.2 L803.1,1409.2 L812.7,1411.1 L824.3,1413.0 L835.8,1412.1 L843.0,1412.6 L858.4,1414.0 L877.6,1411.1 L887.2,1416.9 L896.8,1419.8 L904.5,1421.7 L913.9,1424.4 L907.8,1428.7 L900.9,1431.3 L895.7,1434.7 L897.5,1439.9 L895.7,1448.6 L894.0,1455.5 L893.1,1460.6 L888.8,1455.5 L883.6,1448.6 L878.5,1441.6 L876.7,1434.7 L875.0,1431.3 L866.4,1432.1 L857.7,1434.7 L849.1,1436.5 L838.7,1439.9 L835.3,1446.8 L842.2,1450.3 L852.6,1452.0 L859.5,1457.2 L866.4,1464.1 L871.6,1471.0 L869.8,1474.5 L866.4,1476.2 L861.2,1481.4 L857.7,1484.8 L852.6,1488.3 L849.1,1491.7 L850.8,1498.6 L856.0,1505.6 L857.7,1512.5 L854.3,1514.2 L849.1,1510.7 L845.6,1505.6 L842.2,1500.4 L837.0,1498.6 L831.8,1495.2 L826.6,1493.5 L824.9,1498.6 L830.1,1502.1 L835.3,1505.6 L837.0,1509.0 L831.8,1510.7 L837.0,1515.9 L842.2,1522.8 L845.6,1531.5 L844.8,1540.1 L840.5,1548.7 L833.6,1553.9 L826.6,1559.1 L822.5,1561.7 L816.8,1563.6 L814.9,1572.2 L820.6,1579.9 L824.5,1587.6 L825.4,1595.3 L820.6,1601.0 L816.8,1606.8 L812.9,1601.0 L805.3,1593.3 L799.5,1593.3 L799.5,1602.9 L803.3,1614.5 L811.0,1626.0 L814.9,1633.6 L812.0,1635.6 L807.2,1629.8 L801.4,1620.2 L795.7,1606.8 L793.7,1593.3 L789.9,1585.7 L788.0,1578.0 L784.1,1573.2 L780.3,1568.4 L774.5,1558.8 L768.9,1557.6 L763.1,1559.5 L757.4,1563.3 L751.6,1572.9 L745.9,1580.6 L744.0,1588.3 L743.0,1599.8 L742.0,1607.5 L738.2,1611.3 L734.4,1603.6 L730.5,1592.1 L726.7,1580.6 L722.8,1571.0 L719.0,1563.3 L715.2,1561.4 L711.3,1557.6 L709.4,1551.8 L707.5,1547.0 L703.6,1548.0 L696.0,1546.1 L688.3,1544.1 L682.5,1543.8 L676.8,1542.6 L674.9,1544.1 L680.6,1549.9 L684.5,1557.6 L682.5,1565.3 L676.8,1569.1 L672.9,1574.9 L665.3,1580.6 L657.6,1584.5 L649.9,1590.2 L646.1,1592.5 L648.0,1596.0 L657.6,1597.3 L665.3,1596.9 L659.6,1614.8 L649.6,1632.2 L639.7,1644.7 L634.7,1659.7 L632.2,1669.7 L634.7,1684.6 L634.7,1694.6 L632.2,1707.1 L624.7,1714.6 L619.7,1722.1 L619.7,1729.5 L614.7,1739.5 L609.7,1752.0 L599.7,1762.0 L589.8,1769.5 L577.3,1773.2 L573.5,1767.0 L569.8,1754.5 L564.8,1739.5 L559.8,1722.1 L557.3,1707.1 L558.6,1694.6 L562.3,1684.6 L559.8,1669.7 L557.3,1659.7 L552.3,1649.7 L548.6,1639.7 L547.3,1629.7 L539.8,1626.0 L529.9,1622.2 L519.9,1622.2 L509.9,1624.7 L502.4,1626.0 L494.9,1619.8 L487.4,1612.3 L482.5,1602.3 L477.5,1592.3 L476.2,1584.8 L480.0,1572.3 L478.7,1562.4 L485.0,1547.4 L492.6,1537.8 L498.4,1528.2 L502.2,1520.5 L508.0,1512.8Z" fill="#fff"/></mask>
<g mask="url(#aemask)">
<rect x="440" y="1380" width="500" height="430" fill="#ff2c00"/>
<path d="M440.0,1545.0 L700.0,1545.0 L700.0,1800.0 L440.0,1800.0Z" fill="#ff1400"/>
<path d="M460.0,1509.0 L498.4,1509.0 L510.3,1507.5 L517.6,1505.2 L536.8,1503.6 L552.1,1503.6 L567.5,1508.0 L575.2,1515.7 L594.4,1514.8 L595.3,1505.2 L592.8,1494.6 L594.4,1489.8 L598.2,1483.1 L609.7,1482.1 L625.1,1480.2 L625.5,1486.0 L632.7,1489.8 L640.4,1493.6 L644.3,1497.5 L651.5,1503.2 L659.2,1503.2 L668.8,1501.3 L684.1,1509.0 L689.9,1505.2 L703.3,1503.2 L712.9,1505.2 L722.5,1512.8 L720.6,1522.4 L716.8,1530.1 L711.0,1537.8 L709.1,1543.6 L712.9,1549.3 L708.4,1550.9 L692.1,1557.6 L676.8,1572.9 L657.6,1590.2 L648.0,1594.0 L627.0,1559.0 L623.1,1558.9 L592.4,1558.9 L590.5,1565.6 L582.8,1562.7 L575.2,1558.9 L567.5,1555.1 L561.7,1555.1 L556.0,1554.1 L548.3,1558.9 L540.6,1564.7 L532.9,1568.5 L525.3,1560.8 L517.6,1555.1 L509.9,1547.4 L501.3,1541.6 L490.7,1547.4 L488.8,1560.8 L478.2,1560.8 L460.0,1562.7Z" fill="#e8f514"/>
<path d="M712.9,1495.6 L720.6,1491.7 L724.5,1486.0 L722.5,1478.3 L730.2,1470.6 L734.0,1464.9 L743.6,1462.9 L755.2,1461.0 L762.8,1462.9 L774.4,1461.0 L785.9,1462.9 L797.4,1462.0 L805.1,1457.2 L808.9,1454.3 L816.6,1455.3 L824.3,1459.1 L831.9,1462.9 L840.0,1466.8 L845.0,1468.7 L848.8,1474.5 L848.8,1482.1 L850.7,1486.0 L855.5,1484.0 L868.0,1482.1 L896.8,1505.2 L877.6,1562.7 L858.4,1581.9 L832.1,1566.5 L816.8,1558.8 L820.4,1558.9 L812.7,1557.0 L805.1,1557.0 L799.3,1555.1 L793.6,1547.4 L789.7,1541.6 L782.0,1535.9 L780.1,1535.9 L774.4,1535.9 L764.8,1535.9 L755.2,1534.0 L747.5,1530.1 L739.8,1524.4 L730.2,1516.7 L722.5,1512.8 L720.6,1507.1 L716.8,1501.3Z" fill="#f26c00"/>
<path d="M722.5,1512.8 L730.2,1516.7 L739.8,1524.4 L747.5,1530.1 L755.2,1534.0 L764.8,1535.9 L774.4,1535.9 L780.1,1535.9 L780.1,1543.6 L776.3,1549.3 L774.4,1557.0 L773.7,1557.0 L763.1,1576.8 L753.6,1634.4 L734.4,1634.4 L696.0,1576.8 L708.4,1550.9 L712.9,1549.3 L709.1,1543.6 L711.0,1537.8 L716.8,1530.1 L720.6,1522.4Z" fill="#c63f00"/>
<path d="M781.1,1535.9 L789.7,1541.6 L793.6,1547.4 L799.3,1555.1 L805.1,1557.0 L812.7,1557.0 L820.4,1558.9 L816.8,1558.8 L832.1,1566.5 L839.8,1606.8 L826.4,1645.2 L797.6,1645.2 L768.8,1587.6 L768.8,1564.5 L774.4,1557.0 L776.3,1549.3 L780.1,1543.6Z" fill="#a80f00"/>
</g>
<path d="M510.3,1507.5 L517.6,1503.2 L525.3,1497.9 L532.9,1490.8 L540.6,1485.0 L548.3,1482.5 L554.0,1480.2 L559.8,1481.2 L567.5,1486.0 L575.2,1489.8 L582.8,1493.6 L590.5,1494.6 L594.4,1497.5 L598.2,1499.4 L598.2,1505.2 L605.9,1509.0 L613.6,1510.0 L617.4,1512.8 L618.3,1516.7 L616.4,1524.4 L613.6,1528.2 L605.9,1524.4 L594.4,1520.5 L582.8,1522.4 L575.2,1520.5 L563.6,1518.6 L556.0,1512.8 L552.1,1505.2 L544.5,1505.2 L532.9,1505.2 L521.4,1506.7 L513.7,1509.0Z" fill="#cecedd"/>
<path d="M596.3,1480.2 L602.0,1474.5 L609.7,1475.4 L617.4,1472.5 L625.1,1474.5 L625.5,1482.1 L619.3,1487.9 L609.7,1489.8 L600.1,1488.8 L595.3,1486.0Z" fill="#cecedd"/>
<path d="M643.8,1474.5 L651.5,1473.5 L653.4,1480.2 L649.6,1484.0 L653.4,1489.8 L659.2,1490.8 L661.1,1497.5 L657.3,1503.2 L651.5,1505.2 L647.7,1497.5 L645.8,1486.0 L641.9,1480.2Z" fill="#cecedd"/>
<path d="M651.8,1528.8 L657.6,1530.7 L665.3,1538.4 L672.9,1541.3 L675.8,1543.2 L672.9,1548.0 L667.2,1550.3 L663.3,1548.0 L657.6,1540.3 L653.7,1534.5Z" fill="#cecedd"/>
<path d="M612.8,1536.7 L616.3,1542.6 L620.1,1551.3 L624.9,1561.0 L629.5,1570.5 L634.1,1579.9 L638.6,1589.3 L641.5,1594.9 L645.5,1593.1 L643.4,1587.3 L639.5,1577.5 L635.5,1567.7 L630.7,1558.0 L625.5,1548.5 L620.7,1540.0 L616.0,1534.3Z" fill="#cecedd"/>
<path d="M551.7,1478.3 L555.0,1479.3 L558.8,1485.0 L563.6,1489.8 L568.4,1494.6 L570.4,1498.4 L566.5,1503.2 L564.6,1500.4 L565.6,1497.5 L561.7,1493.6 L556.9,1487.9 L554.0,1484.0 L551.7,1481.2Z" fill="#ff2c00"/>
<path d="M559.8,1502.9 L565.2,1502.5 L563.6,1505.5 L559.4,1505.2Z" fill="#ff2c00"/>
<path d="M544.1,1491.3 L547.5,1491.3 L547.5,1499.8 L544.5,1499.8Z" fill="#ff2c00"/>
<path d="M544.5,1486.5 L546.8,1486.5 L546.8,1490.8 L544.5,1490.8Z" fill="#ff2c00"/>
<path d="M574.8,1493.6 L580.9,1497.1 L585.1,1505.2 L582.8,1509.4 L579.0,1505.5 L575.2,1499.8Z" fill="#ff2c00"/>
<path d="M582.5,1511.5 L590.9,1511.5 L590.9,1513.4 L582.5,1513.4Z" fill="#ff2c00"/>
<path d="M513.4,1440.7 L517.5,1439.3 L521.5,1442.0 L524.2,1448.7 L528.2,1454.1 L529.6,1458.1 L524.2,1460.8 L516.1,1462.2 L514.8,1458.1 L517.5,1454.1 L514.8,1448.7 L512.1,1444.7Z" fill="#ff2c00"/>
<path d="M502.7,1451.4 L508.1,1448.7 L513.4,1450.1 L512.8,1455.5 L506.7,1458.1 L502.0,1457.5Z" fill="#ff2c00"/>
<path d="M548.4,1399.0 L560.5,1398.4 L575.2,1400.4 L560.5,1402.4 L551.1,1401.7Z" fill="#ff2c00"/>
<path d="M626.3,1408.4 L631.7,1404.4 L639.7,1403.1 L640.0,1405.7 L634.4,1408.4 L633.0,1411.8 L629.0,1411.1Z" fill="#ff2c00"/>
<path d="M270.2,1583.2 L275.2,1576.0 L282.4,1573.1 L283.1,1577.4 L283.1,1581.7 L290.3,1581.7 L294.6,1583.2 L296.1,1587.5 L293.2,1591.8 L291.7,1597.6 L293.2,1603.3 L297.5,1607.7 L301.8,1609.1 L304.7,1607.7 L307.6,1609.1 L309.0,1612.0 L304.7,1613.4 L299.7,1614.9 L296.1,1612.0 L291.7,1607.7 L288.9,1603.3 L286.0,1599.0 L283.1,1594.7 L278.8,1590.4 L273.0,1587.5 L270.2,1584.6Z" fill="#6a0000"/>
<path d="M307.6,1608.9 L311.4,1604.1 L316.2,1600.3 L322.0,1598.4 L325.8,1595.5 L330.6,1598.4 L336.4,1601.3 L344.0,1601.3 L351.7,1604.1 L357.5,1609.9 L365.2,1617.6 L372.8,1621.4 L380.5,1625.3 L382.4,1631.0 L388.2,1640.6 L395.9,1648.3 L403.6,1652.1 L413.1,1656.0 L420.8,1661.7 L426.2,1670.4 L425.6,1677.1 L420.8,1686.7 L417.0,1694.4 L415.1,1705.9 L413.1,1719.3 L411.2,1728.9 L403.6,1732.7 L395.9,1738.5 L394.0,1750.0 L388.2,1759.6 L384.4,1767.3 L380.5,1773.1 L374.8,1778.8 L376.7,1784.6 L369.0,1788.4 L367.1,1796.1 L363.2,1805.7 L365.2,1815.3 L369.0,1824.9 L376.7,1836.4 L372.8,1838.7 L363.2,1834.5 L353.6,1828.7 L347.9,1819.1 L344.0,1807.6 L340.2,1796.1 L338.3,1782.6 L337.3,1767.3 L336.4,1751.9 L335.4,1736.6 L334.5,1723.1 L330.6,1713.6 L322.9,1707.8 L315.3,1698.2 L309.5,1684.8 L303.7,1673.2 L298.0,1663.6 L297.6,1657.9 L299.9,1648.3 L303.7,1636.8 L307.6,1625.3 L307.6,1617.6Z" fill="#6a0000"/>
<path d="M823.0,1772.4 L826.9,1762.8 L828.8,1747.5 L831.7,1732.1 L838.4,1724.5 L849.9,1720.6 L857.6,1714.9 L863.3,1703.3 L872.9,1697.6 L882.5,1689.9 L890.2,1687.0 L897.9,1689.9 L901.7,1695.7 L905.6,1705.3 L909.4,1709.1 L913.2,1695.7 L916.1,1686.1 L919.0,1693.7 L920.9,1703.3 L924.8,1712.9 L928.6,1720.6 L932.4,1730.2 L934.4,1739.8 L932.4,1749.4 L928.6,1759.0 L922.8,1768.6 L915.2,1774.4 L907.5,1782.0 L899.8,1785.9 L892.1,1787.8 L884.5,1782.0 L880.6,1776.3 L876.8,1770.5 L872.9,1766.7 L865.3,1764.8 L853.7,1766.7 L842.2,1770.5 L834.5,1772.4 L826.9,1774.4Z" fill="#fcd000"/>
<path d="M886.4,1791.6 L897.9,1791.6 L896.0,1799.3 L888.3,1803.1 L885.4,1797.4Z" fill="#fcd000"/>
<path d="M930.1,1811.6 L940.5,1802.4 L952.0,1796.6 L961.2,1792.0 L965.8,1788.5 L967.0,1794.3 L961.2,1798.9 L952.0,1804.7 L942.8,1810.4 L935.9,1815.0 L931.3,1815.0Z" fill="#fcd000"/>
<path d="M970.4,1773.6 L973.9,1778.2 L979.6,1785.1 L975.0,1790.9 L968.1,1794.3 L963.5,1793.2 L969.3,1787.4 L971.6,1780.5Z" fill="#fcd000"/>
<path d="M915.6,1653.8 L924.3,1656.7 L931.9,1664.4 L939.6,1672.0 L940.0,1681.6 L928.1,1679.7 L920.4,1675.9 L915.6,1677.8Z" fill="#fcd000"/>
<path d="M889.7,1648.0 L903.1,1649.0 L910.8,1652.8 L915.6,1654.4 L915.6,1677.8 L908.9,1675.9 L905.1,1668.2 L899.3,1660.5 L893.6,1654.8Z" fill="#a80f00"/>
<path d="M788.0,1622.1 L793.7,1624.0 L801.4,1631.7 L811.0,1641.3 L816.8,1652.8 L818.7,1662.4 L814.9,1664.4 L807.2,1654.8 L797.6,1643.2 L789.9,1631.7 L787.0,1626.0Z" fill="#a80f00"/>
<path d="M816.8,1666.3 L826.4,1667.8 L836.0,1671.1 L847.5,1673.6 L844.6,1677.8 L832.1,1675.9 L820.6,1672.4Z" fill="#a80f00"/>
<path d="M851.3,1674.9 L862.8,1675.9 L874.4,1677.8 L878.2,1681.6 L866.7,1681.6 L855.2,1678.8Z" fill="#a80f00"/>
<path d="M828.3,1637.5 L834.0,1633.6 L839.8,1627.9 L847.5,1620.2 L851.3,1616.4 L855.2,1622.1 L853.2,1631.7 L849.4,1637.5 L847.5,1645.2 L843.6,1656.7 L836.0,1656.7 L828.3,1649.0 L827.3,1641.3Z" fill="#a80f00"/>
<path d="M855.2,1641.3 L862.8,1639.4 L870.5,1637.5 L864.8,1643.2 L860.9,1649.0 L864.8,1654.8 L862.8,1662.4 L858.0,1658.6 L855.2,1650.9Z" fill="#a80f00"/>
<path d="M853.2,1572.2 L857.1,1576.1 L859.0,1587.6 L864.8,1597.2 L870.5,1602.9 L874.4,1610.6 L872.4,1620.2 L866.7,1616.4 L862.8,1606.8 L857.1,1597.2 L853.2,1587.6 L854.2,1578.0Z" fill="#a80f00"/>
<path d="M744.9,1605.6 L748.8,1609.4 L750.7,1615.2 L747.8,1620.0 L744.9,1615.2 L744.0,1609.4Z" fill="#c63f00"/>
<path d="M873.3,1477.9 L880.2,1479.6 L885.4,1483.1 L883.6,1486.6 L876.7,1486.6 L873.3,1483.1Z" fill="#f26c00"/>
<path d="M876.7,1489.1 L881.9,1495.2 L885.4,1505.6 L886.2,1510.7 L880.2,1514.2 L873.3,1515.9 L866.4,1519.4 L862.9,1522.8 L861.2,1519.4 L866.4,1514.2 L873.3,1510.7 L878.5,1503.8 L877.6,1495.2Z" fill="#f26c00"/>
<path d="M862.9,1519.4 L866.4,1522.8 L868.1,1528.0 L864.6,1527.1 L862.1,1522.8Z" fill="#f26c00"/>
<path d="M847.4,1547.0 L850.8,1548.7 L850.8,1557.4 L848.2,1555.6Z" fill="#f26c00"/>
<path d="M819.7,1566.0 L824.9,1566.9 L824.0,1571.2 L820.6,1571.2Z" fill="#f26c00"/>
<path d="M659.6,1690.9 L662.1,1702.1 L657.1,1719.6 L652.1,1734.5 L647.1,1740.8 L642.1,1737.0 L643.4,1724.5 L645.9,1712.1 L652.1,1704.6 L657.1,1694.6Z" fill="#ff1400"/>
<path d="M686.1,1398.1 L703.3,1398.6 L701.4,1400.6 L688.0,1400.6Z" fill="#ff2c00"/>
<path d="M774.4,1403.1 L789.7,1402.5 L805.1,1403.8 L793.6,1405.4 L778.2,1405.4Z" fill="#ff2c00"/>
<path d="M90.0,1558.0 L95.0,1558.0 L100.0,1562.0 L103.5,1567.0 L100.5,1570.0 L97.0,1566.0 L92.0,1561.0Z" fill="#ff9400"/>
<path d="M384.4,1827.0 L391.0,1826.8 L390.5,1829.7 L385.0,1829.6Z" fill="#6a0000"/>
<path d="M933.0,1652.0 L938.0,1654.0 L945.0,1661.0 L948.0,1666.0 L944.0,1664.0 L937.0,1658.0Z" fill="#fcd000"/>
<path d="M955.0,1664.0 L957.0,1665.0 L963.0,1672.0 L970.0,1683.0 L968.0,1684.0 L961.0,1675.0 L956.0,1667.0Z" fill="#fcd000"/>
<path d="M981.0,1700.0 L983.0,1701.0 L984.0,1710.0 L983.0,1716.0 L981.0,1710.0Z" fill="#fcd000"/>
<path d="M971.0,1722.0 L973.0,1723.0 L976.0,1729.0 L974.0,1730.0 L971.0,1726.0Z" fill="#fcd000"/>
<path d="M1000.0,1716.0 L1006.0,1715.0 L1007.0,1720.0 L1001.0,1721.0Z" fill="#fcd000"/>
</g>
<rect x="619.10" y="1162.47" width="418.21" height="132.57" fill="#f2f2f2"/>
<path d="M626.4,816.7 L633.8,821.7 L641.1,826.6 L648.4,828.4 L655.8,830.2 L663.1,830.6 L670.5,830.9 L677.8,831.3 L685.1,832.3 L692.5,836.3 L699.8,837.0 L707.1,837.6 L714.5,837.8 L721.8,838.0 L729.2,838.2 L736.5,838.4 L743.8,838.7 L751.2,839.2 L758.5,839.7 L765.8,829.4 L773.2,826.1 L776.8,824.5 L780.5,823.0 L787.9,820.1 L795.2,817.1 L800.3,815.0 L802.5,814.3 L809.9,811.9 L817.2,809.5 L820.9,808.3 L824.5,806.9 L831.9,804.1 L839.2,820.3 L846.5,825.2 L853.9,830.1 L861.2,835.0 L868.6,837.3 L875.9,839.6 L883.2,842.4 L890.6,813.4 L897.9,851.2 L905.2,851.2 L912.6,821.5 L919.9,827.3 L927.3,806.4 L934.6,789.7 L941.9,789.7 L949.3,800.8 L956.6,797.1 L963.9,803.6 L971.3,795.5 L978.6,766.0 L985.9,778.5 L993.3,782.7 L1000.6,761.8 L1008.0,752.5 L1015.3,736.3 L1022.6,736.3 L1030.0,733.9 L1037.3,735.8 L1037.3,1142.0 L1030.0,1142.0 L1022.6,1142.0 L1015.3,1142.0 L1008.0,1142.0 L1000.6,1142.0 L993.3,1142.0 L985.9,1142.0 L978.6,1142.0 L971.3,1142.0 L963.9,1142.0 L956.6,1142.0 L949.3,1142.0 L941.9,1142.0 L934.6,1142.0 L927.3,1142.0 L919.9,1142.0 L912.6,1142.0 L905.2,1142.0 L897.9,1142.0 L890.6,1142.0 L883.2,1142.0 L875.9,1142.0 L868.6,1142.0 L861.2,1142.0 L853.9,1142.0 L846.5,1142.0 L839.2,1142.0 L831.9,1142.0 L824.5,1142.0 L820.9,1142.0 L817.2,1142.0 L809.9,1142.0 L802.5,1142.0 L800.3,1142.0 L795.2,1142.0 L787.9,1142.0 L780.5,1142.0 L776.8,1142.0 L773.2,1142.0 L765.8,1142.0 L758.5,1142.0 L751.2,1142.0 L743.8,1142.0 L736.5,1142.0 L729.2,1142.0 L721.8,1142.0 L714.5,1142.0 L707.1,1142.0 L699.8,1142.0 L692.5,1142.0 L685.1,1142.0 L677.8,1142.0 L670.5,1142.0 L663.1,1142.0 L655.8,1142.0 L648.4,1142.0 L641.1,1142.0 L633.8,1142.0 L626.4,1142.0Z" fill="#f45aa8"/>
<path d="M626.4,832.3 L633.8,837.4 L641.1,842.5 L648.4,844.9 L655.8,847.3 L663.1,848.2 L670.5,849.0 L677.8,849.8 L685.1,852.0 L692.5,856.2 L699.8,857.2 L707.1,858.3 L714.5,859.2 L721.8,860.1 L729.2,861.0 L736.5,861.8 L743.8,862.5 L751.2,863.6 L758.5,864.6 L765.8,855.1 L773.2,852.5 L776.8,851.2 L780.5,849.8 L787.9,847.7 L795.2,845.6 L800.3,844.1 L802.5,843.5 L809.9,840.7 L817.2,837.9 L820.9,836.5 L824.5,835.1 L831.9,833.8 L839.2,848.9 L846.5,853.9 L853.9,859.0 L861.2,864.0 L868.6,866.9 L875.9,869.8 L883.2,873.3 L890.6,844.3 L897.9,881.4 L905.2,881.9 L912.6,852.8 L919.9,858.2 L927.3,837.3 L934.6,821.5 L941.9,822.2 L949.3,833.8 L956.6,830.3 L963.9,837.7 L971.3,829.2 L978.6,801.3 L985.9,814.1 L993.3,818.7 L1000.6,797.8 L1008.0,788.5 L1015.3,773.4 L1022.6,773.9 L1030.0,772.3 L1037.3,774.6 L1037.3,1142.0 L1030.0,1142.0 L1022.6,1142.0 L1015.3,1142.0 L1008.0,1142.0 L1000.6,1142.0 L993.3,1142.0 L985.9,1142.0 L978.6,1142.0 L971.3,1142.0 L963.9,1142.0 L956.6,1142.0 L949.3,1142.0 L941.9,1142.0 L934.6,1142.0 L927.3,1142.0 L919.9,1142.0 L912.6,1142.0 L905.2,1142.0 L897.9,1142.0 L890.6,1142.0 L883.2,1142.0 L875.9,1142.0 L868.6,1142.0 L861.2,1142.0 L853.9,1142.0 L846.5,1142.0 L839.2,1142.0 L831.9,1142.0 L824.5,1142.0 L820.9,1142.0 L817.2,1142.0 L809.9,1142.0 L802.5,1142.0 L800.3,1142.0 L795.2,1142.0 L787.9,1142.0 L780.5,1142.0 L776.8,1142.0 L773.2,1142.0 L765.8,1142.0 L758.5,1142.0 L751.2,1142.0 L743.8,1142.0 L736.5,1142.0 L729.2,1142.0 L721.8,1142.0 L714.5,1142.0 L707.1,1142.0 L699.8,1142.0 L692.5,1142.0 L685.1,1142.0 L677.8,1142.0 L670.5,1142.0 L663.1,1142.0 L655.8,1142.0 L648.4,1142.0 L641.1,1142.0 L633.8,1142.0 L626.4,1142.0Z" fill="#c51e8a"/>
<path d="M626.4,888.9 L633.8,895.2 L641.1,901.6 L648.4,904.7 L655.8,907.9 L663.1,910.0 L670.5,912.1 L677.8,914.2 L685.1,916.4 L692.5,920.6 L699.8,922.5 L707.1,924.4 L714.5,926.3 L721.8,928.2 L729.2,930.1 L736.5,931.4 L743.8,932.8 L751.2,934.3 L758.5,935.8 L765.8,928.0 L773.2,925.9 L776.8,924.8 L780.5,923.7 L787.9,920.9 L795.2,918.1 L800.3,916.1 L802.5,915.3 L809.9,913.8 L817.2,912.3 L820.9,911.5 L824.5,910.8 L831.9,909.3 L839.2,922.1 L846.5,929.0 L853.9,936.0 L861.2,943.0 L868.6,946.4 L875.9,949.9 L883.2,952.2 L890.6,922.1 L897.9,959.2 L905.2,959.2 L912.6,932.5 L919.9,943.0 L927.3,923.2 L934.6,898.8 L941.9,901.2 L949.3,912.8 L956.6,910.4 L963.9,917.4 L971.3,910.4 L978.6,882.6 L985.9,897.7 L993.3,898.8 L1000.6,877.9 L1008.0,873.3 L1015.3,857.0 L1022.6,858.9 L1030.0,858.2 L1037.3,860.5 L1037.3,1269.8 L1030.0,1269.8 L1022.6,1268.9 L1015.3,1270.5 L1008.0,1271.0 L1000.6,1274.0 L993.3,1271.0 L985.9,1274.0 L978.6,1275.6 L971.3,1268.7 L963.9,1268.9 L956.6,1269.8 L949.3,1266.6 L941.9,1264.7 L934.6,1258.9 L927.3,1258.0 L919.9,1257.0 L912.6,1254.3 L905.2,1252.4 L897.9,1251.7 L890.6,1251.0 L883.2,1250.3 L875.9,1249.7 L868.6,1249.1 L861.2,1248.4 L853.9,1246.9 L846.5,1245.3 L839.2,1243.8 L831.9,1242.2 L824.5,1242.4 L820.9,1242.5 L817.2,1242.6 L809.9,1242.9 L802.5,1243.1 L800.3,1243.1 L795.2,1243.0 L787.9,1242.9 L780.5,1242.8 L776.8,1242.7 L773.2,1242.6 L765.8,1242.5 L758.5,1242.6 L751.2,1242.6 L743.8,1242.7 L736.5,1242.7 L729.2,1242.7 L721.8,1242.8 L714.5,1242.8 L707.1,1242.9 L699.8,1242.9 L692.5,1243.0 L685.1,1243.0 L677.8,1243.0 L670.5,1243.0 L663.1,1243.0 L655.8,1243.0 L648.4,1243.0 L641.1,1243.0 L633.8,1243.0 L626.4,1243.0Z" fill="#640078"/>
<line x1="628.24" y1="1142.00" x2="1037.31" y2="1142.00" stroke="#000" stroke-width="4" stroke-dasharray="8 9.45" opacity="0.88"/>
<path d="M626.4,918.0 L633.8,923.0 L641.1,928.0 L648.4,929.5 L655.8,931.1 L663.1,931.3 L670.5,931.6 L677.8,931.8 L685.1,933.2 L692.5,937.5 L699.8,938.0 L707.1,938.5 L714.5,938.7 L721.8,938.8 L729.2,938.9 L736.5,938.9 L743.8,938.9 L751.2,939.8 L758.5,940.6 L765.8,930.1 L773.2,928.0 L776.8,926.9 L780.5,925.9 L787.9,923.7 L795.2,921.6 L800.3,920.2 L802.5,919.5 L809.9,914.9 L817.2,910.4 L820.9,908.1 L824.5,905.8 L831.9,902.3 L839.2,919.7 L846.5,930.2 L853.9,938.3 L861.2,944.1 L868.6,946.4 L875.9,948.8 L883.2,951.1 L890.6,920.9 L897.9,958.1 L905.2,958.1 L912.6,931.3 L919.9,941.8 L927.3,922.1 L934.6,904.6 L941.9,910.4 L949.3,924.4 L956.6,923.2 L963.9,930.2 L971.3,922.1 L978.6,897.7 L985.9,909.3 L993.3,911.6 L1000.6,891.9 L1008.0,877.9 L1015.3,864.0 L1022.6,862.8 L1030.0,860.5 L1037.3,865.2" fill="none" stroke="#000" stroke-width="4.6" stroke-linejoin="round"/>
<line x1="73.00" y1="565.58" x2="79.20" y2="565.58" stroke="#000" stroke-width="2.3"/>
<text x="67.20" y="573.78" text-anchor="end" font-size="25">−6</text>
<line x1="73.00" y1="508.19" x2="79.20" y2="508.19" stroke="#000" stroke-width="2.3"/>
<text x="67.20" y="516.39" text-anchor="end" font-size="25">−3</text>
<line x1="73.00" y1="450.80" x2="79.20" y2="450.80" stroke="#000" stroke-width="2.3"/>
<text x="67.20" y="459.00" text-anchor="end" font-size="25">0</text>
<line x1="73.00" y1="393.41" x2="79.20" y2="393.41" stroke="#000" stroke-width="2.3"/>
<text x="67.20" y="401.61" text-anchor="end" font-size="25">3</text>
<line x1="73.00" y1="336.02" x2="79.20" y2="336.02" stroke="#000" stroke-width="2.3"/>
<text x="67.20" y="344.22" text-anchor="end" font-size="25">6</text>
<line x1="73.00" y1="278.63" x2="79.20" y2="278.63" stroke="#000" stroke-width="2.3"/>
<text x="67.20" y="286.83" text-anchor="end" font-size="25">9</text>
<line x1="73.00" y1="221.24" x2="79.20" y2="221.24" stroke="#000" stroke-width="2.3"/>
<text x="67.20" y="229.44" text-anchor="end" font-size="25">12</text>
<line x1="73.00" y1="163.85" x2="79.20" y2="163.85" stroke="#000" stroke-width="2.3"/>
<text x="67.20" y="172.05" text-anchor="end" font-size="25">15</text>
<line x1="73.00" y1="106.46" x2="79.20" y2="106.46" stroke="#000" stroke-width="2.3"/>
<text x="67.20" y="114.66" text-anchor="end" font-size="25">18</text>
<line x1="73.00" y1="49.07" x2="79.20" y2="49.07" stroke="#000" stroke-width="2.3"/>
<text x="67.20" y="57.27" text-anchor="end" font-size="25">21</text>
<line x1="79.20" y1="603.84" x2="79.20" y2="618.14" stroke="#000" stroke-width="2.4"/>
<text x="77.70" y="639.84" text-anchor="middle" font-size="25">1960</text>
<line x1="115.89" y1="603.84" x2="115.89" y2="618.14" stroke="#000" stroke-width="2.4"/>
<line x1="152.57" y1="603.84" x2="152.57" y2="618.14" stroke="#000" stroke-width="2.4"/>
<text x="151.07" y="639.84" text-anchor="middle" font-size="25">1970</text>
<line x1="189.25" y1="603.84" x2="189.25" y2="618.14" stroke="#000" stroke-width="2.4"/>
<line x1="225.94" y1="603.84" x2="225.94" y2="618.14" stroke="#000" stroke-width="2.4"/>
<text x="224.44" y="639.84" text-anchor="middle" font-size="25">1980</text>
<line x1="262.62" y1="603.84" x2="262.62" y2="618.14" stroke="#000" stroke-width="2.4"/>
<line x1="299.31" y1="603.84" x2="299.31" y2="618.14" stroke="#000" stroke-width="2.4"/>
<text x="297.81" y="639.84" text-anchor="middle" font-size="25">1990</text>
<line x1="336.00" y1="603.84" x2="336.00" y2="618.14" stroke="#000" stroke-width="2.4"/>
<line x1="372.68" y1="603.84" x2="372.68" y2="618.14" stroke="#000" stroke-width="2.4"/>
<text x="371.18" y="639.84" text-anchor="middle" font-size="25">2000</text>
<line x1="409.36" y1="603.84" x2="409.36" y2="618.14" stroke="#000" stroke-width="2.4"/>
<line x1="446.05" y1="603.84" x2="446.05" y2="618.14" stroke="#000" stroke-width="2.4"/>
<text x="444.55" y="639.84" text-anchor="middle" font-size="25">2010</text>
<line x1="482.73" y1="603.84" x2="482.73" y2="618.14" stroke="#000" stroke-width="2.4"/>
<rect x="79.20" y="29.94" width="418.21" height="573.90" fill="none" stroke="#000" stroke-width="2.2"/>
<text x="282.20" y="670.34" text-anchor="middle" font-size="24.5">Year</text>
<text transform="translate(20.80,506.50) rotate(-90)" font-size="25" textLength="358" lengthAdjust="spacingAndGlyphs">GHG emissions (Gt CO<tspan font-size="17" dy="6">2</tspan><tspan dy="-6">-eq yr</tspan><tspan font-size="17" dy="-10">−1</tspan><tspan dy="10">)</tspan></text>
<line x1="612.90" y1="565.58" x2="619.10" y2="565.58" stroke="#000" stroke-width="2.3"/>
<text x="607.10" y="573.78" text-anchor="end" font-size="25">−6</text>
<line x1="612.90" y1="508.19" x2="619.10" y2="508.19" stroke="#000" stroke-width="2.3"/>
<text x="607.10" y="516.39" text-anchor="end" font-size="25">−3</text>
<line x1="612.90" y1="450.80" x2="619.10" y2="450.80" stroke="#000" stroke-width="2.3"/>
<text x="607.10" y="459.00" text-anchor="end" font-size="25">0</text>
<line x1="612.90" y1="393.41" x2="619.10" y2="393.41" stroke="#000" stroke-width="2.3"/>
<text x="607.10" y="401.61" text-anchor="end" font-size="25">3</text>
<line x1="612.90" y1="336.02" x2="619.10" y2="336.02" stroke="#000" stroke-width="2.3"/>
<text x="607.10" y="344.22" text-anchor="end" font-size="25">6</text>
<line x1="612.90" y1="278.63" x2="619.10" y2="278.63" stroke="#000" stroke-width="2.3"/>
<text x="607.10" y="286.83" text-anchor="end" font-size="25">9</text>
<line x1="612.90" y1="221.24" x2="619.10" y2="221.24" stroke="#000" stroke-width="2.3"/>
<text x="607.10" y="229.44" text-anchor="end" font-size="25">12</text>
<line x1="612.90" y1="163.85" x2="619.10" y2="163.85" stroke="#000" stroke-width="2.3"/>
<text x="607.10" y="172.05" text-anchor="end" font-size="25">15</text>
<line x1="612.90" y1="106.46" x2="619.10" y2="106.46" stroke="#000" stroke-width="2.3"/>
<text x="607.10" y="114.66" text-anchor="end" font-size="25">18</text>
<line x1="612.90" y1="49.07" x2="619.10" y2="49.07" stroke="#000" stroke-width="2.3"/>
<text x="607.10" y="57.27" text-anchor="end" font-size="25">21</text>
<line x1="619.10" y1="603.84" x2="619.10" y2="618.14" stroke="#000" stroke-width="2.4"/>
<text x="617.60" y="639.84" text-anchor="middle" font-size="25">1960</text>
<line x1="655.78" y1="603.84" x2="655.78" y2="618.14" stroke="#000" stroke-width="2.4"/>
<line x1="692.47" y1="603.84" x2="692.47" y2="618.14" stroke="#000" stroke-width="2.4"/>
<text x="690.97" y="639.84" text-anchor="middle" font-size="25">1970</text>
<line x1="729.15" y1="603.84" x2="729.15" y2="618.14" stroke="#000" stroke-width="2.4"/>
<line x1="765.84" y1="603.84" x2="765.84" y2="618.14" stroke="#000" stroke-width="2.4"/>
<text x="764.34" y="639.84" text-anchor="middle" font-size="25">1980</text>
<line x1="802.52" y1="603.84" x2="802.52" y2="618.14" stroke="#000" stroke-width="2.4"/>
<line x1="839.21" y1="603.84" x2="839.21" y2="618.14" stroke="#000" stroke-width="2.4"/>
<text x="837.71" y="639.84" text-anchor="middle" font-size="25">1990</text>
<line x1="875.89" y1="603.84" x2="875.89" y2="618.14" stroke="#000" stroke-width="2.4"/>
<line x1="912.58" y1="603.84" x2="912.58" y2="618.14" stroke="#000" stroke-width="2.4"/>
<text x="911.08" y="639.84" text-anchor="middle" font-size="25">2000</text>
<line x1="949.26" y1="603.84" x2="949.26" y2="618.14" stroke="#000" stroke-width="2.4"/>
<line x1="985.95" y1="603.84" x2="985.95" y2="618.14" stroke="#000" stroke-width="2.4"/>
<text x="984.45" y="639.84" text-anchor="middle" font-size="25">2010</text>
<line x1="1022.63" y1="603.84" x2="1022.63" y2="618.14" stroke="#000" stroke-width="2.4"/>
<rect x="619.10" y="29.94" width="418.21" height="573.90" fill="none" stroke="#000" stroke-width="2.2"/>
<text x="822.10" y="670.34" text-anchor="middle" font-size="24.5">Year</text>
<text transform="translate(560.70,506.50) rotate(-90)" font-size="25" textLength="358" lengthAdjust="spacingAndGlyphs">GHG emissions (Gt CO<tspan font-size="17" dy="6">2</tspan><tspan dy="-6">-eq yr</tspan><tspan font-size="17" dy="-10">−1</tspan><tspan dy="10">)</tspan></text>
<line x1="73.00" y1="1256.78" x2="79.20" y2="1256.78" stroke="#000" stroke-width="2.3"/>
<text x="67.20" y="1264.98" text-anchor="end" font-size="25">−6</text>
<line x1="73.00" y1="1199.39" x2="79.20" y2="1199.39" stroke="#000" stroke-width="2.3"/>
<text x="67.20" y="1207.59" text-anchor="end" font-size="25">−3</text>
<line x1="73.00" y1="1142.00" x2="79.20" y2="1142.00" stroke="#000" stroke-width="2.3"/>
<text x="67.20" y="1150.20" text-anchor="end" font-size="25">0</text>
<line x1="73.00" y1="1084.61" x2="79.20" y2="1084.61" stroke="#000" stroke-width="2.3"/>
<text x="67.20" y="1092.81" text-anchor="end" font-size="25">3</text>
<line x1="73.00" y1="1027.22" x2="79.20" y2="1027.22" stroke="#000" stroke-width="2.3"/>
<text x="67.20" y="1035.42" text-anchor="end" font-size="25">6</text>
<line x1="73.00" y1="969.83" x2="79.20" y2="969.83" stroke="#000" stroke-width="2.3"/>
<text x="67.20" y="978.03" text-anchor="end" font-size="25">9</text>
<line x1="73.00" y1="912.44" x2="79.20" y2="912.44" stroke="#000" stroke-width="2.3"/>
<text x="67.20" y="920.64" text-anchor="end" font-size="25">12</text>
<line x1="73.00" y1="855.05" x2="79.20" y2="855.05" stroke="#000" stroke-width="2.3"/>
<text x="67.20" y="863.25" text-anchor="end" font-size="25">15</text>
<line x1="73.00" y1="797.66" x2="79.20" y2="797.66" stroke="#000" stroke-width="2.3"/>
<text x="67.20" y="805.86" text-anchor="end" font-size="25">18</text>
<line x1="73.00" y1="740.27" x2="79.20" y2="740.27" stroke="#000" stroke-width="2.3"/>
<text x="67.20" y="748.47" text-anchor="end" font-size="25">21</text>
<line x1="79.20" y1="1295.04" x2="79.20" y2="1309.34" stroke="#000" stroke-width="2.4"/>
<text x="77.70" y="1331.04" text-anchor="middle" font-size="25">1960</text>
<line x1="115.89" y1="1295.04" x2="115.89" y2="1309.34" stroke="#000" stroke-width="2.4"/>
<line x1="152.57" y1="1295.04" x2="152.57" y2="1309.34" stroke="#000" stroke-width="2.4"/>
<text x="151.07" y="1331.04" text-anchor="middle" font-size="25">1970</text>
<line x1="189.25" y1="1295.04" x2="189.25" y2="1309.34" stroke="#000" stroke-width="2.4"/>
<line x1="225.94" y1="1295.04" x2="225.94" y2="1309.34" stroke="#000" stroke-width="2.4"/>
<text x="224.44" y="1331.04" text-anchor="middle" font-size="25">1980</text>
<line x1="262.62" y1="1295.04" x2="262.62" y2="1309.34" stroke="#000" stroke-width="2.4"/>
<line x1="299.31" y1="1295.04" x2="299.31" y2="1309.34" stroke="#000" stroke-width="2.4"/>
<text x="297.81" y="1331.04" text-anchor="middle" font-size="25">1990</text>
<line x1="336.00" y1="1295.04" x2="336.00" y2="1309.34" stroke="#000" stroke-width="2.4"/>
<line x1="372.68" y1="1295.04" x2="372.68" y2="1309.34" stroke="#000" stroke-width="2.4"/>
<text x="371.18" y="1331.04" text-anchor="middle" font-size="25">2000</text>
<line x1="409.36" y1="1295.04" x2="409.36" y2="1309.34" stroke="#000" stroke-width="2.4"/>
<line x1="446.05" y1="1295.04" x2="446.05" y2="1309.34" stroke="#000" stroke-width="2.4"/>
<text x="444.55" y="1331.04" text-anchor="middle" font-size="25">2010</text>
<line x1="482.73" y1="1295.04" x2="482.73" y2="1309.34" stroke="#000" stroke-width="2.4"/>
<rect x="79.20" y="721.14" width="418.21" height="573.90" fill="none" stroke="#000" stroke-width="2.2"/>
<text x="282.20" y="1361.54" text-anchor="middle" font-size="24.5">Year</text>
<text transform="translate(20.80,1197.70) rotate(-90)" font-size="25" textLength="358" lengthAdjust="spacingAndGlyphs">GHG emissions (Gt CO<tspan font-size="17" dy="6">2</tspan><tspan dy="-6">-eq yr</tspan><tspan font-size="17" dy="-10">−1</tspan><tspan dy="10">)</tspan></text>
<line x1="612.90" y1="1256.78" x2="619.10" y2="1256.78" stroke="#000" stroke-width="2.3"/>
<text x="607.10" y="1264.98" text-anchor="end" font-size="25">−6</text>
<line x1="612.90" y1="1199.39" x2="619.10" y2="1199.39" stroke="#000" stroke-width="2.3"/>
<text x="607.10" y="1207.59" text-anchor="end" font-size="25">−3</text>
<line x1="612.90" y1="1142.00" x2="619.10" y2="1142.00" stroke="#000" stroke-width="2.3"/>
<text x="607.10" y="1150.20" text-anchor="end" font-size="25">0</text>
<line x1="612.90" y1="1084.61" x2="619.10" y2="1084.61" stroke="#000" stroke-width="2.3"/>
<text x="607.10" y="1092.81" text-anchor="end" font-size="25">3</text>
<line x1="612.90" y1="1027.22" x2="619.10" y2="1027.22" stroke="#000" stroke-width="2.3"/>
<text x="607.10" y="1035.42" text-anchor="end" font-size="25">6</text>
<line x1="612.90" y1="969.83" x2="619.10" y2="969.83" stroke="#000" stroke-width="2.3"/>
<text x="607.10" y="978.03" text-anchor="end" font-size="25">9</text>
<line x1="612.90" y1="912.44" x2="619.10" y2="912.44" stroke="#000" stroke-width="2.3"/>
<text x="607.10" y="920.64" text-anchor="end" font-size="25">12</text>
<line x1="612.90" y1="855.05" x2="619.10" y2="855.05" stroke="#000" stroke-width="2.3"/>
<text x="607.10" y="863.25" text-anchor="end" font-size="25">15</text>
<line x1="612.90" y1="797.66" x2="619.10" y2="797.66" stroke="#000" stroke-width="2.3"/>
<text x="607.10" y="805.86" text-anchor="end" font-size="25">18</text>
<line x1="612.90" y1="740.27" x2="619.10" y2="740.27" stroke="#000" stroke-width="2.3"/>
<text x="607.10" y="748.47" text-anchor="end" font-size="25">21</text>
<line x1="619.10" y1="1295.04" x2="619.10" y2="1309.34" stroke="#000" stroke-width="2.4"/>
<text x="617.60" y="1331.04" text-anchor="middle" font-size="25">1960</text>
<line x1="655.78" y1="1295.04" x2="655.78" y2="1309.34" stroke="#000" stroke-width="2.4"/>
<line x1="692.47" y1="1295.04" x2="692.47" y2="1309.34" stroke="#000" stroke-width="2.4"/>
<text x="690.97" y="1331.04" text-anchor="middle" font-size="25">1970</text>
<line x1="729.15" y1="1295.04" x2="729.15" y2="1309.34" stroke="#000" stroke-width="2.4"/>
<line x1="765.84" y1="1295.04" x2="765.84" y2="1309.34" stroke="#000" stroke-width="2.4"/>
<text x="764.34" y="1331.04" text-anchor="middle" font-size="25">1980</text>
<line x1="802.52" y1="1295.04" x2="802.52" y2="1309.34" stroke="#000" stroke-width="2.4"/>
<line x1="839.21" y1="1295.04" x2="839.21" y2="1309.34" stroke="#000" stroke-width="2.4"/>
<text x="837.71" y="1331.04" text-anchor="middle" font-size="25">1990</text>
<line x1="875.89" y1="1295.04" x2="875.89" y2="1309.34" stroke="#000" stroke-width="2.4"/>
<line x1="912.58" y1="1295.04" x2="912.58" y2="1309.34" stroke="#000" stroke-width="2.4"/>
<text x="911.08" y="1331.04" text-anchor="middle" font-size="25">2000</text>
<line x1="949.26" y1="1295.04" x2="949.26" y2="1309.34" stroke="#000" stroke-width="2.4"/>
<line x1="985.95" y1="1295.04" x2="985.95" y2="1309.34" stroke="#000" stroke-width="2.4"/>
<text x="984.45" y="1331.04" text-anchor="middle" font-size="25">2010</text>
<line x1="1022.63" y1="1295.04" x2="1022.63" y2="1309.34" stroke="#000" stroke-width="2.4"/>
<rect x="619.10" y="721.14" width="418.21" height="573.90" fill="none" stroke="#000" stroke-width="2.2"/>
<text x="822.10" y="1361.54" text-anchor="middle" font-size="24.5">Year</text>
<text transform="translate(560.70,1197.70) rotate(-90)" font-size="25" textLength="358" lengthAdjust="spacingAndGlyphs">GHG emissions (Gt CO<tspan font-size="17" dy="6">2</tspan><tspan dy="-6">-eq yr</tspan><tspan font-size="17" dy="-10">−1</tspan><tspan dy="10">)</tspan></text>
<text x="250.14" y="69.40" font-size="23.3" fill="#c8c81e" textLength="131.35" lengthAdjust="spacingAndGlyphs">Middle East</text>
<text x="155.16" y="89.90" font-size="23.3" fill="#f07020" textLength="103.77" lengthAdjust="spacingAndGlyphs">East Asia</text>
<text x="88.76" y="110.10" font-size="23.3" fill="#d6a516" textLength="90.51" lengthAdjust="spacingAndGlyphs">Oceania</text>
<text x="91.53" y="180.30" font-size="23.3" fill="#000" textLength="160.04" lengthAdjust="spacingAndGlyphs">North America</text>
<text x="101.12" y="229.40" font-size="23.3" fill="#000" textLength="120.30" lengthAdjust="spacingAndGlyphs">South Asia</text>
<text x="126.19" y="269.50" font-size="23.3" fill="#000" textLength="184.33" lengthAdjust="spacingAndGlyphs">Europe &amp; Russia</text>
<text x="155.62" y="306.70" font-size="23.3" fill="#fbe6e6" textLength="167.85" lengthAdjust="spacingAndGlyphs">Southeast Asia</text>
<text x="189.82" y="362.50" font-size="23.3" fill="#fbe6e6" textLength="218.11" lengthAdjust="spacingAndGlyphs">Sub-Saharan Africa</text>
<text x="192.61" y="430.00" font-size="23.3" fill="#fbe6e6" textLength="154.46" lengthAdjust="spacingAndGlyphs">Latin America</text>
<text x="662.04" y="52.50" font-size="23.3" fill="#e4ee5a" textLength="137.22" lengthAdjust="spacingAndGlyphs">Manure–soil</text>
<text x="864.16" y="50.10" font-size="23.3" fill="#7e7e1a" textLength="95.78" lengthAdjust="spacingAndGlyphs">Fertilizer</text>
<text x="767.47" y="73.30" font-size="23.3" fill="#a6d422" textLength="180.73" lengthAdjust="spacingAndGlyphs">Manure–pasture</text>
<text x="661.37" y="122.50" font-size="23.3" fill="#5c5a14" textLength="103.53" lengthAdjust="spacingAndGlyphs">Residues</text>
<text x="855.57" y="201.10" font-size="23.3" fill="#000" textLength="51.17" lengthAdjust="spacingAndGlyphs">Peat</text>
<text x="662.03" y="289.20" font-size="23.3" fill="#000" textLength="226.69" lengthAdjust="spacingAndGlyphs">Enteric fermentation</text>
<text x="655.11" y="383.50" font-size="23.3" fill="#000" textLength="127.86" lengthAdjust="spacingAndGlyphs">LUC-Crops</text>
<text x="866.00" y="383.60" font-size="23.3" fill="#000" textLength="152.43" lengthAdjust="spacingAndGlyphs">Wood harvest</text>
<text x="684.80" y="516.70" font-size="23.3" fill="#eef2ea" textLength="287.94" lengthAdjust="spacingAndGlyphs">Agricultural abandonment</text>
<text x="82.71" y="794.90" font-size="23.3" fill="#c070c0" textLength="91.46" lengthAdjust="spacingAndGlyphs">Chicken</text>
<text x="169.13" y="755.70" font-size="23.3" fill="#8090c8" textLength="66.55" lengthAdjust="spacingAndGlyphs">Sugar</text>
<text x="151.54" y="819.80" font-size="23.3" fill="#2a2a90" textLength="72.00" lengthAdjust="spacingAndGlyphs">Fibre+</text>
<text x="221.73" y="784.50" font-size="23.3" fill="#90d8c8" textLength="124.44" lengthAdjust="spacingAndGlyphs">Other meat</text>
<text x="324.23" y="759.50" font-size="23.3" fill="#6a3898" textLength="52.07" lengthAdjust="spacingAndGlyphs">Pork</text>
<text x="388.72" y="747.60" font-size="23.3" fill="#90cae0" textLength="50.85" lengthAdjust="spacingAndGlyphs">Fruit</text>
<text x="100.44" y="923.60" font-size="23.3" fill="#120f3c" textLength="56.05" lengthAdjust="spacingAndGlyphs">Dairy</text>
<text x="244.70" y="977.20" font-size="23.3" fill="#ffffff" textLength="63.83" lengthAdjust="spacingAndGlyphs">Wood</text>
<text x="249.24" y="1023.00" font-size="23.3" fill="#ffffff" textLength="51.69" lengthAdjust="spacingAndGlyphs">Beef</text>
<text x="238.56" y="1103.90" font-size="23.3" fill="#ffffff" textLength="83.84" lengthAdjust="spacingAndGlyphs">Cereals</text>
<text x="211.27" y="1202.70" font-size="23.3" fill="#f0f0f8" textLength="126.89" lengthAdjust="spacingAndGlyphs">No product</text>
<text x="225.79" y="21.30" font-size="29" fill="#000" textLength="106.92" lengthAdjust="spacingAndGlyphs">Regions</text>
<text x="753.10" y="20.90" font-size="29" fill="#000" textLength="135.39" lengthAdjust="spacingAndGlyphs">Processes</text>
<text x="175.95" y="712.30" font-size="29" fill="#000" textLength="201.23" lengthAdjust="spacingAndGlyphs">Product groups</text>
<text x="782.01" y="712.30" font-size="29" fill="#000" textLength="82.91" lengthAdjust="spacingAndGlyphs">Gases</text>
<text x="242.09" y="1473.20" font-size="23.3" fill="#000" textLength="62.88" lengthAdjust="spacingAndGlyphs">North</text>
<text x="228.40" y="1503.30" font-size="23.3" fill="#000" textLength="90.78" lengthAdjust="spacingAndGlyphs">America</text>
<text x="331.17" y="1655.90" font-size="23.3" fill="#fce2e2" textLength="56.34" lengthAdjust="spacingAndGlyphs">Latin</text>
<text x="313.80" y="1685.50" font-size="23.3" fill="#fce2e2" textLength="91.49" lengthAdjust="spacingAndGlyphs">America</text>
<text x="585.97" y="1445.90" font-size="23.3" fill="#000" textLength="211.10" lengthAdjust="spacingAndGlyphs">Europe and Russia</text>
<text x="725.28" y="1514.40" font-size="23.3" fill="#000" textLength="102.75" lengthAdjust="spacingAndGlyphs">East Asia</text>
<text x="512.54" y="1543.80" font-size="23.3" fill="#000" textLength="131.66" lengthAdjust="spacingAndGlyphs">Middle East</text>
<text x="509.51" y="1614.80" font-size="23.3" fill="#000" textLength="149.30" lengthAdjust="spacingAndGlyphs">Sub-Saharan</text>
<text x="551.80" y="1643.60" font-size="23.3" fill="#000" textLength="64.91" lengthAdjust="spacingAndGlyphs">Africa</text>
<text x="699.51" y="1652.20" font-size="23.3" fill="#000" textLength="66.36" lengthAdjust="spacingAndGlyphs">South</text>
<text x="711.10" y="1681.00" font-size="23.3" fill="#000" textLength="45.93" lengthAdjust="spacingAndGlyphs">Asia</text>
<text x="876.52" y="1583.60" font-size="23.3" fill="#000" textLength="112.79" lengthAdjust="spacingAndGlyphs">Southeast</text>
<text x="910.30" y="1612.40" font-size="23.3" fill="#000" textLength="45.83" lengthAdjust="spacingAndGlyphs">Asia</text>
<text x="827.35" y="1750.90" font-size="23.3" fill="#000" textLength="91.42" lengthAdjust="spacingAndGlyphs">Oceania</text>
<text transform="translate(679.60,163.20) rotate(5.1)" x="-2.21" y="0" font-size="22.5" fill="#000" textLength="84.24" lengthAdjust="spacingAndGlyphs">Manure</text>
<text transform="translate(709.80,191.70) rotate(5.2)" x="-2.27" y="0" font-size="22.5" fill="#000" textLength="51.12" lengthAdjust="spacingAndGlyphs">Rice</text>
<text transform="translate(629.50,198.60) rotate(7.0)" x="-2.25" y="0" font-size="22.5" fill="#000" textLength="146.02" lengthAdjust="spacingAndGlyphs">LUC-Pasture</text>
<text transform="translate(98.70,876.20) rotate(4.2)" x="-2.18" y="0" font-size="22.5" fill="#120f3c" textLength="87.93" lengthAdjust="spacingAndGlyphs">Pulses+</text>
<text transform="translate(213.00,871.50) rotate(-17.7)" x="-1.11" y="0" font-size="22.5" fill="#120f3c" textLength="89.88" lengthAdjust="spacingAndGlyphs">Spices+</text>
<text transform="translate(165.00,917.00) rotate(-15.5)" x="-0.00" y="0" font-size="22.5" fill="#120f3c" textLength="134.62" lengthAdjust="spacingAndGlyphs">Vegetables+</text>
<text transform="translate(207.00,958.00) rotate(-16.5)" x="-1.13" y="0" font-size="22.5" fill="#ffffff" textLength="99.90" lengthAdjust="spacingAndGlyphs">Oil crops</text>
<line x1="187.7" y1="103.6" x2="230.7" y2="145.1" stroke="#000" stroke-width="1.6"/>
<line x1="264.3" y1="85.7" x2="302.8" y2="183.6" stroke="#000" stroke-width="1.6"/>
<line x1="389.3" y1="64.5" x2="401.4" y2="100.4" stroke="#000" stroke-width="1.6"/>
<line x1="732.6" y1="58" x2="800.7" y2="127.9" stroke="#000" stroke-width="1.6"/>
<line x1="869.8" y1="87" x2="850.6" y2="166.7" stroke="#000" stroke-width="1.6"/>
<line x1="967.6" y1="43.2" x2="985.3" y2="98.6" stroke="#000" stroke-width="1.6"/>
<line x1="712.6" y1="125" x2="730.6" y2="147.5" stroke="#000" stroke-width="1.6"/>
<line x1="895" y1="357.6" x2="957.9" y2="210.8" stroke="#000" stroke-width="1.6"/>
<line x1="116.5" y1="800.6" x2="138.3" y2="832.1" stroke="#000" stroke-width="1.6"/>
<line x1="202.1" y1="825.6" x2="211.3" y2="842.1" stroke="#000" stroke-width="1.6"/>
<line x1="195.2" y1="763" x2="245.1" y2="829.4" stroke="#000" stroke-width="1.6"/>
<line x1="301.9" y1="789.9" x2="325.7" y2="888.1" stroke="#000" stroke-width="1.6"/>
<line x1="364.8" y1="764.1" x2="397.9" y2="814" stroke="#000" stroke-width="1.6"/>
<line x1="409" y1="751.5" x2="447.8" y2="798.7" stroke="#000" stroke-width="1.6"/>
<line x1="733.7" y1="1562" x2="733.7" y2="1627.7" stroke="#000" stroke-width="1.6"/>
<line x1="814.3" y1="1601.3" x2="895.9" y2="1601.3" stroke="#000" stroke-width="1.6"/>
<text x="1.94" y="26.10" font-size="32" font-weight="bold" fill="#000" stroke="#000" stroke-width="1.3" textLength="17.90" lengthAdjust="spacingAndGlyphs">a</text>
<text x="540.89" y="25.10" font-size="31.5" font-weight="bold" fill="#000" stroke="#000" stroke-width="1.3" textLength="21.78" lengthAdjust="spacingAndGlyphs">b</text>
<text x="0.86" y="720.70" font-size="32" font-weight="bold" fill="#000" stroke="#000" stroke-width="1.3" textLength="19.35" lengthAdjust="spacingAndGlyphs">c</text>
<text x="543.66" y="718.90" font-size="31.5" font-weight="bold" fill="#000" stroke="#000" stroke-width="1.3" textLength="21.05" lengthAdjust="spacingAndGlyphs">d</text>
<text x="0.92" y="1414.90" font-size="32" font-weight="bold" fill="#000" stroke="#000" stroke-width="1.3" textLength="20.02" lengthAdjust="spacingAndGlyphs">e</text>
<text x="789.5" y="832.8" font-size="23.8" fill="#000">N<tspan font-size="16.5" dy="8.7">2</tspan><tspan dy="-8.7">O</tspan></text>
<text x="696" y="900.2" font-size="23.8" fill="#000">CH<tspan font-size="16.5" dy="8.3" dx="1">4</tspan></text>
<text x="796.5" y="1070.3" font-size="25" fill="#ffffff">CO<tspan font-size="17.5" dy="8.5">2</tspan></text>
</svg>
</body></html>
